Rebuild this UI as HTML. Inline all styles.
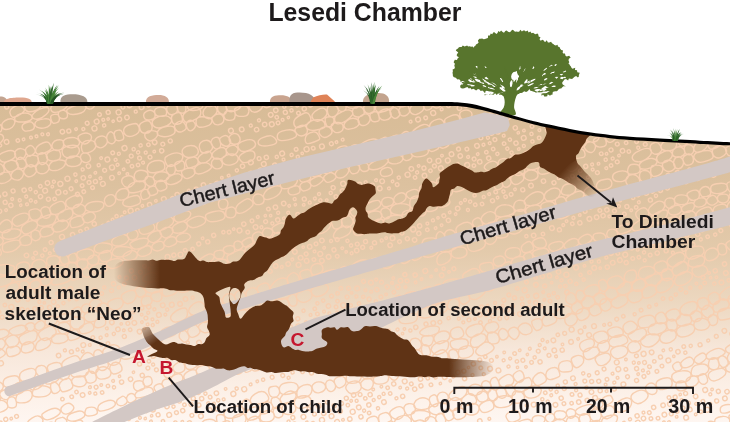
<!DOCTYPE html>
<html lang="en">
<head>
<meta charset="utf-8">
<title>Lesedi Chamber</title>
<style>
html,body{margin:0;padding:0;background:#fff;}
body{width:730px;height:422px;overflow:hidden;}
svg{display:block;}
text{font-family:"Liberation Sans",sans-serif;fill:#1d1a1b;}

.r text{font-weight:700;fill:#c5162e;}
.b text{font-weight:700;}
</style>
</head>
<body>
<svg width="730" height="422" viewBox="0 0 730 422">
<defs>
<linearGradient id="gg" x1="0" y1="104" x2="0" y2="422" gradientUnits="userSpaceOnUse">
<stop offset="0.000" stop-color="#d8bc97"/>
<stop offset="0.255" stop-color="#dcc19f"/>
<stop offset="0.459" stop-color="#e3caab"/>
<stop offset="0.616" stop-color="#ecd7bf"/>
<stop offset="0.774" stop-color="#f7e7da"/>
<stop offset="0.931" stop-color="#fdf2ea"/>
<stop offset="1.000" stop-color="#fef6f1"/>
</linearGradient>
<linearGradient id="fl" x1="114" y1="0" x2="160" y2="0" gradientUnits="userSpaceOnUse">
<stop offset="0" stop-color="#000"/><stop offset="0.12" stop-color="#222"/><stop offset="1" stop-color="#fff"/>
</linearGradient>
<linearGradient id="fr" x1="449" y1="0" x2="494" y2="0" gradientUnits="userSpaceOnUse">
<stop offset="0" stop-color="#fff"/><stop offset="0.88" stop-color="#222"/><stop offset="1" stop-color="#000"/>
</linearGradient>
<linearGradient id="fs" x1="566" y1="167" x2="596" y2="195" gradientUnits="userSpaceOnUse">
<stop offset="0" stop-color="#fff"/><stop offset="1" stop-color="#000"/>
</linearGradient>
<linearGradient id="ft" x1="142" y1="326" x2="155" y2="343" gradientUnits="userSpaceOnUse">
<stop offset="0" stop-color="#3a3a3a"/><stop offset="1" stop-color="#fff"/>
</linearGradient>
<mask id="cm" maskUnits="userSpaceOnUse" x="0" y="0" width="730" height="422">
<rect width="730" height="422" fill="#fff"/>
<rect x="100" y="250" width="60" height="45" fill="url(#fl)"/>
<rect x="447" y="350" width="60" height="35" fill="url(#fr)"/>
<path d="M548 176L580 158L612 188L590 206Z" fill="url(#fs)"/>
<path d="M136 330L148 322L166 344L157 352Z" fill="url(#ft)"/>
</mask>
<clipPath id="gc"><path d="M-5 104C12.5 104 65.8 104 100 104C134.2 104 166.7 104 200 104C233.3 104 270 104 300 104C330 104 360.8 104 380 104C399.2 104 406.7 104 415 104C423.3 104 425.8 104 430 104C434.2 104 436.3 104 440 104C443.7 104 448.3 104 452 104.1C455.7 104.2 458.7 104.3 462 104.6C465.3 104.9 468.7 105.4 472 106C475.3 106.6 478.3 107.3 482 108.2C485.7 109.1 490 110.4 494 111.5C498 112.6 501.7 113.8 506 115C510.3 116.2 515.3 117.7 520 119C524.7 120.3 529.2 121.6 534 122.8C538.8 124 543 124.9 549 126.2C555 127.5 563 129.3 570 130.6C577 131.9 584.3 133.2 591 134.2C597.7 135.2 603.5 135.9 610 136.6C616.5 137.3 621.7 137.8 630 138.4C638.3 139 648.3 139.5 660 140.2C671.7 140.8 687.5 141.7 700 142.3C712.5 142.9 729.2 143.7 735 144L735 430L-5 430Z"/></clipPath>
</defs>
<rect width="730" height="422" fill="#fff"/>
<g><path d="M-6 103C-7 97.2 -2.8 96.5 0.5 96.5C4.4 96.5 8 98.5 7 103Z" fill="#c3a592"/><path d="M4 103C3 98.1 13.6 97.6 20.5 97.6C27.4 97.6 32.5 99.2 31.5 103Z" fill="#dfa78f"/><path d="M60.5 103C59.5 95.1 65.9 94.2 72.6 94.2C81.3 94.2 88.3 96.8 87.3 103Z" fill="#a99b8e"/><path d="M146 103C145 95.8 152.8 95 158.5 95C164.8 95 169.8 97.4 168.8 103Z" fill="#d2ab98"/><path d="M270 103C269 96 275.4 95.2 280.8 95.2C287.2 95.2 292.5 97.5 291.5 103Z" fill="#c9a48f"/><path d="M289.5 103C288.5 93.6 293.3 92.6 299.7 92.6C308.6 92.6 316 95.7 315 103Z" fill="#a8968c"/><path d="M363 103C362 94 372.1 93 378.6 93C385.1 93 390 96 389 103Z" fill="#c3a48e"/><path d="M310 103L313 97.4C318 95.2 324 94.2 327 94.6L334.5 101.2L335 103Z" fill="#df8358"/></g>
<g fill="#58752d"><path d="M452.5 72.8L452.9 71.3L452.6 69.6L454.4 68.7L454.9 67.3L454.3 65.7L454.9 63.8L453.6 62.3L454.2 61.1L454.8 59.8L457 60L457.4 58.7L458.9 57.2L456.8 55.9L456.9 54.3L458.3 52.5L455.8 50.5L456.6 49.3L458 48.4L458.9 47.2L460 47L461.6 47.1L462.8 45.6L464.5 46.5L466 45.9L467.1 45.5L468.1 46.6L469.8 46.2L471 46.8L472.7 46.5L473.5 47.8L474.2 46.6L475.4 45.8L476 44.4L477.4 43.7L478.6 42.7L477.9 40.4L479.4 38.7L480.8 38.7L482.1 38.6L483.7 39.2L485 39L486.3 38.4L487.9 38L488.1 35.6L489.9 35.5L490.7 33.6L492.3 34.3L493.1 32.5L494.4 32.3L496.4 34L497.5 33.1L498.4 30.9L499.8 31.9L501.1 30.5L502.6 31.9L504 32.7L505.3 31.1L506.6 30.6L508.1 31.8L509.5 32.2L510.8 31.5L512.1 29.7L513.5 30.2L515 31.8L516.3 31.4L517.7 31.8L519.1 31.8L520.4 29.8L521.9 31.4L523.2 30.4L524.6 30.6L525.8 31.6L527.6 30.6L528.6 32.5L530.4 31.5L531.5 33.2L533.1 32.8L534.1 33.6L535.3 34.2L537.5 33.6L538.4 34.7L538.6 36.4L540.5 37.2L539.5 39.3L540.7 40.7L542.4 39.8L543.7 40.5L545 42.2L546.8 40.2L547.9 42.4L549.3 42.5L551.1 41.7L552 43.3L553.3 43.9L554.4 44.9L555.8 45.4L557.6 44.8L557.9 46.6L559.7 47.2L560.2 48.8L561.3 49.9L563.1 50.6L562.6 52.4L563.3 53.4L565 53.5L565.5 55.8L566.8 56.6L569.1 55.7L570.7 57.5L568.9 58.7L568.5 60.2L569.3 62.3L568.3 63.6L566 64.2L568.2 63.3L569.2 64.1L570 65.5L570.9 66.6L571.6 68L572.6 68.8L575.2 67.7L575 70.1L577 70.3L577.3 72.2L579.7 72.7L579.3 74.1L578.7 75.5L579.2 75.9L577.9 77.6L576.1 76.1L574.6 76.8L573.2 77.9L572.1 79L570.5 78.8L568.9 78.4L568.1 80.4L566 79.1L564.4 79.5L563.4 80.9L562.3 82.3L562.3 84L563.4 85L564.6 85.8L565.7 86.9L564 86L562.5 86.9L561.2 88.5L560.4 88.5L558.8 89.1L558 90.3L556.8 91.2L555.4 91.3L554 91.6L552.8 92L552.4 94.7L550.9 94.7L550.1 95.7L547.7 94.2L547.2 96.3L545.8 96.6L544.2 96.4L543.5 94.7L541.3 95.4L541.4 92.6L539.5 92.8L537.8 92.8L536.1 92.8L534.7 92L533.1 91.4L531.7 91.1L530.4 90.8L529.4 88.9L528.5 90.2L527.5 91.3L526.1 91.9L524.1 91.2L522.7 92.5L521.3 93L519.7 93L518.5 93.7L517 93.8L515.9 94.9L514.4 95.3L512.6 94.2L511.3 96L509.7 97.2L508 96.9L506.3 96.5L504.8 95.7L503.2 96.1L502.1 95.3L501 94.5L499.8 95.1L498.1 93.2L496.8 95L495.1 93.3L493.7 94.8L492.2 94.6L490.8 93.9L489.3 95L487.9 94.4L486.4 94.6L484.9 95.4L484.1 94L484.1 92.1L482.4 90.4L480.7 91.1L479.5 89.5L478 89.1L476.1 90.6L474.7 89.6L473.3 88.8L471.6 89.6L470.4 87.9L468.8 88.4L467.4 86.9L465.9 87.4L464.3 88.3L462.8 88.5L461.3 88.3L460.2 87.3L460.3 85.6L461.3 84.6L462.8 84.4L463.6 82.9L464.6 83.1L463.3 82.7L462.2 81.9L460.7 82.1L460.1 80L458.9 79.3L457.5 79.6L456.5 78.4L455.3 77.5L453.9 77.2L452.9 75.9L452.8 74.3Z"/><path d="M512.3 73.2L513.6 72L515.2 71.7L517 70.9L517 72.5L517.6 73.9L518.1 75.3L519 77.1L517.5 77.8L516.8 79.2L515.4 79.9L514.6 81.3L513.6 80L512 79.6L511.4 78.3L511.1 76.4L511.6 74.6ZM487.9 87.7L488.5 86.8L489.9 87.8L491.4 87.7L492.9 88.2L495.3 89.4L494.7 89.5L492.4 89.6L491 89L489.6 88.7L487.7 88.6ZM534 66.5L534.3 67.7L533.2 69.1L532.3 69.1L531.7 69.6L532.6 68.5L533.2 66.5ZM533.8 82.7L533.3 84.1L530.9 85.3L528.4 86.3L528.2 84.9L529.8 83.7L531.2 83.2L532.5 83.2ZM548.8 87.1L547.9 87.5L546.3 88.3L544.6 88.7L542.1 89L541.3 87.9L542.9 87.7L544.2 86.4L545.7 86.1L547 86.9ZM492.1 85L492.9 84.9L494.8 85.9L496.3 86.9L495.6 86.9L494.1 87.1L492.5 86ZM563.1 73.9L562.3 74.9L561.1 75.4L560.2 74.8L559.7 74.1L560.7 73.7L562.1 73.1ZM500.2 83.7L501.3 85.3L502.8 85.8L504 86.7L505.2 88.5L504.6 88.4L502.3 88.5L502 86.7L500.9 85.7ZM472.7 76.5L474.1 76.5L476 76.8L476.8 77.5L476.8 77.8L475.3 77.9L473.8 77ZM520.6 66.2L520.3 67L520.6 68.4L519.6 69.5L518.9 69.2L519.6 68.1L519.8 66.6ZM488.9 93.4L490.3 91.6L492.2 91.8L494.5 92.9L493.7 93.2L492 94.2L490.2 93.8ZM544.6 92.2L542.8 92.4L541 93.3L539.1 92.9L536.5 93L535.8 93L537.3 92.3L538.9 92.6L540.6 92.5L542.4 91.9ZM510.5 82.2L511.6 83L511.6 85.4L511.3 86.9L511.3 87.5L510.6 85.5L510.3 83.2ZM546.7 89.4L545.7 90.1L544.1 90.9L542.3 90.4L540.8 91.3L539.8 90.7L539 89.6L540.5 89.6L541.8 89.3L543.5 88.9L545.4 88.4ZM552.9 65.3L551.8 65.7L550.5 66.2L549.8 66.8L548.9 66.9L550.1 65.8L551.7 64.8ZM546.9 82.8L545 84.4L543.2 84.3L541.7 85L540.2 85.5L538.2 86.1L538.7 85.4L541.1 84.1L542.9 84.6L544.2 83.7L545.6 83.7ZM529.9 83.7L529.8 84.4L528.9 86L527.4 86L527 85.1L527.8 83.8L529.7 82.8ZM485.2 80.8L486.3 81.2L488.1 82L490.3 83.4L489.8 83.8L487.6 83L485.5 82.2ZM547 67.7L546.8 68.7L545.2 70L543.7 70.9L543.5 70.5L544.5 69.3L546.2 68.1ZM554.5 71L554.2 73L552.3 73.1L550.9 73.9L550.2 73.4L551.7 72.3L553.8 71.7ZM484.1 66.2L485.2 66.3L486.1 67.2L486.9 68.1L486.7 68L485.4 68L484.8 66.6ZM558.1 76.4L558.1 77.2L556.5 78.8L555.4 77.8L554.6 77.9L555.9 76.7L557.5 76.9ZM525.5 68.3L525.1 69.4L524.4 70.6L523.5 72.1L523.3 71.6L523.9 70.5L524.6 69.1ZM545.9 73.2L545.4 74.5L543.3 75L542.1 76.4L542 75.6L542.8 74.6L544.3 73.1ZM473.5 73.2L475.1 73L476.3 74.3L476.8 74.9L477.2 75.8L476.1 74.8L473.7 74.3ZM524.1 84.8L523 85.7L522.1 86.6L520.3 87.6L520.3 86.7L521.2 85.7L522.9 85.5ZM515.7 70.5L515.3 71.6L515.8 73.7L515.1 75.2L513.9 75.1L514.1 73.3L515.2 71.8ZM475.8 65.9L476.9 65.9L477.6 66.8L477.3 67.3L477.5 68.5L476.7 67.7L475.8 67.1ZM478.1 80.7L479.6 80.7L481.6 82.5L483.3 82.4L484.4 83.4L483.4 84.1L481.7 83.2L480.2 82.7L478.7 82.1ZM556.5 64.1L556.7 64.6L555.8 65.9L554.9 65.7L554.4 66.1L554.9 64.4L556.3 63.9ZM566.2 71.2L565.5 71.7L564.6 72.4L563.2 73.1L562.8 71.7L563.9 71.4L565.7 70.4ZM511.4 80.2L512.3 80.5L512.6 83L512.3 84.6L511.7 85L510.2 82.9L510.7 80.9ZM499.9 77.9L501 77.9L502.4 80L503.2 82L502.2 81.9L501.4 80.6L500.3 79ZM518.6 75.1L519.1 76.7L518 78.2L518.4 80L516.9 81.3L516.3 83.1L516 82.3L516.2 80.7L516.7 79.2L517 77.7L517.3 76.2ZM466.8 84L468.7 83.8L470.5 84L472.3 84L473.6 85.1L475.2 85.6L474.1 86.2L471.5 86.5L470.1 85.3L468.4 85.2ZM527.5 79.5L527.5 80.9L526.6 82.9L524.4 83.5L524.1 82.9L524.9 81.3L526.9 79ZM485.2 91.6L486.5 90.8L488.5 91.2L490.9 91.7L490.3 92.5L488.3 93.4L486.2 92.7ZM535.5 78.7L535.1 80.1L533.4 80.9L532.2 82.5L530.5 82.4L529.6 83.3L528.6 82.3L530.3 81.9L530.8 80.3L532.3 79.7L533.8 79.1ZM549.9 91.4L548.2 91.9L546.7 93.1L545 93.2L543.5 93.1L542.5 92.9L542.7 91.4L544.7 91.6L546.3 91.5L547.8 91.1ZM540.5 89.8L539.7 90.3L537.3 91.7L535.5 91.1L534.3 90L537 88.9L539.4 89.1ZM483.8 92.9L486.2 92L488.1 92.2L490 92.7L492.8 93.1L492.3 94L489.7 93.4L487.8 93.3L486 92.9ZM544.5 93.9L543.8 94L541.2 94.2L539 94.4L539.2 94.1L540.9 93.3L543.3 93.7ZM484.8 77.5L485.6 77.3L487.4 77.8L488.5 79.1L487.5 79.1L486.1 79.8L484.6 78.5ZM510.7 81.1L511.6 82.2L512.3 84.7L511.5 87.1L510.3 86.9L509.3 84.9L509.5 83.5L510.2 82.2ZM555.4 85.5L555.5 86.9L553.3 87.1L551.2 87L551.9 86.6L553.1 85.6L555 85.5ZM482.5 85.8L483.6 85L485.2 85.8L486.2 86.6L486.3 87.5L484.8 87.5L482.9 87.5ZM467.9 80.4L469 79.1L470.7 79.9L472.1 81.1L475.2 81.5L475.3 82.3L473.4 82.6L471.7 81.9L469.9 82.2L469 80.8ZM553.4 82.9L552.1 83L550.3 84.2L548.5 84.7L549.1 84L549.9 82.8L551.9 81.7ZM499.5 87.5L501 87.1L502.9 88.3L504 89.7L503.7 90L501.9 90.3L501 89.1L499.6 88.5ZM498.2 92.8L499 92.2L500.9 92.8L502.9 92.3L504.3 93.2L505.9 93.5L504.9 93.4L502.3 94.1L500.9 93.8L499.2 93.9ZM547.5 78.9L546.9 79.3L545.3 80.2L544.3 80.6L543.8 80L544.8 78.7L546.9 78.1ZM474.4 78.7L476.6 78.8L478.1 79.4L479.9 79.9L480.5 81.6L481.1 82.5L478.7 82.1L477.3 81.7L476 81ZM469.7 78.7L471 78.2L472.4 79.7L474.3 80.4L473.7 81.2L472.4 79.8L470.9 79.3ZM482.3 78.2L483.8 78.1L485 79.7L486.2 80.2L486 81.5L484.3 81L482.7 79.5ZM515.9 75.4L516.5 76.6L516.4 78.2L515.4 79.5L514.7 81.2L513.6 82L513.3 79.4L514.4 76.7ZM461.1 81.2L462.4 80.9L464 81.4L464.6 82L465.4 82.9L463.8 82.3L461.8 82ZM490.2 82.4L491.8 82.6L493.8 83.1L495.4 84.2L496.6 85.9L497.2 87.4L496 86L494.5 85.3L492.8 84.6L491.1 84ZM483.8 80.9L485.1 81.6L486.9 82.5L488.9 82.9L490.3 84.2L492.1 84.9L491.1 84.7L488.1 84.6L487.2 83.1L485.8 82.5L484.5 81.9ZM482.4 94L483.5 92.9L485.4 92.9L487.3 92.7L489.8 93.7L490 94.1L488.8 95.2L487.4 94.8L485.9 94.6L484.4 94.6ZM522.9 84.6L522.1 85.7L520.6 87.1L519.5 89L518.2 90.1L516.7 90.6L516.6 90L517 88.4L518 87.2L519.7 86.3L520.8 84.6ZM539 86.5L538.7 87.1L536.3 88.3L533.7 88.5L533.8 87.7L535.6 86.4L537.7 86.9ZM490.5 83.4L491.6 83.2L492.8 84.1L494.5 84.6L494.1 85.4L492.3 85.1L490 84.2ZM566 77.1L565.4 78.2L563.7 78.1L562.5 79.3L560.7 78.7L559.8 78.1L561.8 76.8L563.5 77.2L564.5 76.8ZM500.9 89.1L502.2 88.3L504.3 89.2L505.7 91L504.9 91.6L503 91.4L501.9 90.4ZM484.9 77.6L486.5 76.8L487.3 78.3L488.2 79.1L488.4 79.8L487.1 78.9L485.8 78.4ZM498.7 88.3L499.7 88L501.2 88.1L502.6 88.7L504 90.1L503.7 91.4L501.4 90.5L499.8 90.1L499.2 88.8ZM531.2 79.5L530.3 80.5L529.3 81.9L528 82.9L526.9 82.2L528.7 81.1L530.4 80.4Z" fill="#fff"/><path d="M500.7 113.6C498.8 112.4 503 109.5 503.7 107.6C504.4 105.7 504.7 104 504.7 102.2C504.7 100.3 504.4 98.3 503.7 96.7C502.9 95 499.8 92.7 500.2 92.2C500.6 91.7 504.7 94.3 506.2 93.7C507.7 93.1 508.2 88.7 509.2 88.7C510.2 88.7 510.5 93.4 512.2 93.7C513.8 94 518.5 90.2 519.1 90.7C519.8 91.2 516.9 94.8 516.1 96.7C515.4 98.6 515 100.3 514.6 102.2C514.3 104 514.1 105.5 514.1 107.6C514.2 109.8 517.4 114.1 515.1 115.1C512.9 116.1 502.6 114.8 500.7 113.6Z"/><path d="M504.7 94.7C502.2 93.8 497.7 92.1 492.2 90.2C486.8 88.3 483.3 86.7 477.3 85.2C471.3 83.7 465.3 83.2 462.4 82.7M504.7 93.7C502.7 92 499.2 88.4 494.7 85.2C490.2 82 487.3 80.6 482.3 77.8C477.3 74.9 472.3 72.4 469.8 71M517.1 93.7C519.6 92.5 524.1 89.4 529.6 87.7C535.1 86 538.5 85.9 544.5 85.2C550.5 84.5 556.5 84.4 559.4 84.2M517.6 92.2C520.5 90.2 526.2 85.4 532.1 82.2C537.9 79 540.5 78.2 547 76.3C553.5 74.4 560.9 73.5 564.4 72.8M510.2 92.2C509.8 89.7 509.5 84.7 508.4 79.7C507.3 74.8 505.4 69.8 504.7 67.3M513.6 92.2C514.6 89.7 516.4 84.7 518.6 79.7C520.8 74.8 523.4 69.8 524.6 67.3" fill="none" stroke="#58752d" stroke-width="1.3" stroke-linecap="round"/></g>
<path d="M-5 104C12.5 104 65.8 104 100 104C134.2 104 166.7 104 200 104C233.3 104 270 104 300 104C330 104 360.8 104 380 104C399.2 104 406.7 104 415 104C423.3 104 425.8 104 430 104C434.2 104 436.3 104 440 104C443.7 104 448.3 104 452 104.1C455.7 104.2 458.7 104.3 462 104.6C465.3 104.9 468.7 105.4 472 106C475.3 106.6 478.3 107.3 482 108.2C485.7 109.1 490 110.4 494 111.5C498 112.6 501.7 113.8 506 115C510.3 116.2 515.3 117.7 520 119C524.7 120.3 529.2 121.6 534 122.8C538.8 124 543 124.9 549 126.2C555 127.5 563 129.3 570 130.6C577 131.9 584.3 133.2 591 134.2C597.7 135.2 603.5 135.9 610 136.6C616.5 137.3 621.7 137.8 630 138.4C638.3 139 648.3 139.5 660 140.2C671.7 140.8 687.5 141.7 700 142.3C712.5 142.9 729.2 143.7 735 144L735 430L-5 430Z" fill="url(#gg)"/>
<g clip-path="url(#gc)"><g transform="rotate(-19.0)" fill="none" stroke="#f7cfb1" stroke-width="1.4"><path d="M-41 113.7q-1.7 2.5-5.4 2.4q-3.7-0.2-6.1-1.6q-2.5-1.5-2-4.2q0.5-2.7 2.4-3.9q1.8-1.2 6.1-0.1q4.3 1.1 5.5 2.9q1.3 1.9-0.5 4.5zM-13.4 108.7q1.4 3.1-0.3 4.5q-1.7 1.3-6.5 2q-4.9 0.6-6.3-0.5q-1.3-1.1-0.9-4.4q0.4-3.3 4.1-4.3q3.7-0.9 6.1-0.7q2.3 0.3 3.8 3.4zM-0.8 106.1q2.7 0.5 4.6 2.8q2 2.4 0.4 4.5q-1.7 2.2-6.1 2.6q-4.4 0.4-7.4-1q-3-1.5-2.5-4.9q0.6-3.4 4.5-3.9q3.8-0.6 6.5-0.1zM9.6 105.5q2.3 0.4 3.5 3q1.2 2.5 0.1 4.7q-1 2.1-3 2.7q-2 0.7-4.3-1.1q-2.3-1.7-1.9-4.6q0.3-2.8 1.8-4q1.5-1.1 3.8-0.7zM-42.6 116.6q3.1 1.1 2.8 3.7q-0.2 2.6-1.6 3.8q-1.4 1.2-5.4 0.6q-3.9-0.6-4.7-1.9q-0.8-1.4-0.1-3.7q0.6-2.3 3.2-2.9q2.7-0.7 5.8 0.4zM-36 124.5q-3.4-0.9-3.3-3.7q0-2.9 2.3-4.1q2.3-1.3 5.6-1.4q3.4 0 5 1.7q1.7 1.8 0.5 3.8q-1.2 2.1-4 3.4q-2.8 1.2-6.1 0.3zM-14.2 123.6q-4.1-0.6-7.7-2.1q-3.5-1.4-3-4q0.4-2.5 3.9-3.1q3.5-0.6 7 0.4q3.5 0.9 5.5 3.5q2 2.7 0.2 4.3q-1.8 1.6-5.9 1zM-2.1 117q3.8-1.3 8.2-0.8q4.4 0.5 4.6 2.3q0.2 1.8-1.8 3.4q-2 1.6-7.1 2.8q-5.2 1.1-8-1.2q-2.8-2.2-1.3-3.7q1.6-1.5 5.4-2.8zM29.3 120q1.2 1.5-1.7 3.2q-3 1.8-7.9 1.6q-4.9-0.2-6.4-2q-1.5-1.7-0.5-4q0.9-2.3 5.6-2.9q4.6-0.6 7.2 1q2.5 1.6 3.7 3.1zM-56 128.2q1.4 1.5 0.8 4.2q-0.6 2.7-2.3 2.7q-1.8 0.1-4.3-1.1q-2.4-1.2-2.5-2.4q-0.2-1.2 1.4-3.4q1.6-2.1 3.5-1.8q1.9 0.4 3.4 1.8zM-53.9 132.4q-0.8-2.6 0.4-4q1.3-1.3 5.7-1.7q4.4-0.5 5.6 1.2q1.2 1.7 0.8 3.5q-0.4 1.8-3.6 3.3q-3.1 1.5-5.6 0.9q-2.5-0.6-3.3-3.2zM-20.6 128q0.3-2.6 2.7-3.2q2.3-0.6 5.2-0.2q2.9 0.3 3.8 2.9q0.8 2.5-0.3 4.4q-1.1 1.9-5 1.4q-3.8-0.5-5.2-1.6q-1.5-1.2-1.2-3.7zM-4.4 126.2q2.7-0.5 7.4 0.6q4.8 1 5.3 3.5q0.6 2.6-1.8 4.1q-2.5 1.4-5.9 1q-3.5-0.4-6-2.2q-2.5-1.8-2.1-4.1q0.4-2.3 3.1-2.9zM17.5 131.6q-0.9 2.9-3.6 2.9q-2.8 0-3.8-0.9q-1-1-0.8-3.7q0.2-2.6 1.1-3.6q1-0.9 3.7-0.5q2.8 0.5 3.5 1.7q0.8 1.2-0.1 4.1zM24.4 125.1q2.3 1.2 2.3 3.3q0 2.2-1 3.7q-1 1.6-3.8 1q-2.7-0.7-3.7-2.4q-0.9-1.8-0.4-3.5q0.5-1.8 2.4-2.5q1.9-0.8 4.2 0.4zM38.2 124.5q5.5 0.6 7.6 2q2 1.4-0.1 4.1q-2.1 2.6-5.9 2.6q-3.9 0-7.6-1q-3.7-1-5-3.6q-1.3-2.6 2.1-3.6q3.5-1 8.9-0.5zM46.2 128.4q-0.7-2.7 0.8-3.8q1.4-1.2 3.9-0.9q2.5 0.3 3.6 1.6q1.1 1.4 0.8 3.9q-0.3 2.4-2.5 3.1q-2.3 0.8-4-0.2q-1.8-0.9-2.6-3.7zM-63 146.2q5.1-0.6 7.5 0.9q2.3 1.4 2 4.1q-0.4 2.8-3 3.8q-2.5 1-6.1 1.1q-3.7 0.1-5.6-2.2q-1.8-2.2-0.8-4.7q0.9-2.4 6-3zM-48.3 154.8q-3.4-0.9-3.9-3.6q-0.5-2.8 0.7-4.4q1.1-1.6 6.6-1.7q5.5 0 7.7 1.5q2.2 1.4 1.7 4.2q-0.4 2.8-4.9 3.8q-4.5 1-7.9 0.2zM-30.4 157.4q-2.3 0.3-4.1-0.9q-1.7-1.2-1.9-4.4q-0.2-3.2 2.5-4.5q2.8-1.4 5.3-0.3q2.5 1.2 3.4 3q0.8 1.9-1 4.4q-1.8 2.5-4.2 2.7zM-24.6 149.8q1-1.8 3.6-2.3q2.6-0.5 3.8 1q1.2 1.5 1.5 4.2q0.3 2.6-2.5 3.7q-2.9 1.2-4.4 1.1q-1.4-0.1-2.2-2.9q-0.8-2.9 0.2-4.8zM0.2 151.9q0.8 3.1 0.4 4.6q-0.5 1.5-5.8 2.4q-5.3 0.9-8.1-0.2q-2.8-1.2-2.3-3.9q0.6-2.6 2.9-4q2.4-1.5 7.2-1.7q4.9-0.3 5.7 2.8zM9 161.1q-3.2 0.5-5.4-0.9q-2.1-1.3-2.2-3.5q-0.2-2.3 1.9-4.2q2.1-1.9 5.1-1.5q2.9 0.4 4.5 1.6q1.6 1.1 0.4 4.5q-1.1 3.4-4.3 4zM26.4 162.9q-2.8 1.1-6.3 0.3q-3.5-0.7-5.6-3.6q-2.1-3-0.8-5q1.2-2 5-2q3.8 0.1 6.9 1.8q3 1.8 3.3 4.6q0.3 2.8-2.5 3.9zM29.6 154.4q1.4-1.3 5.1-1.2q3.7 0.2 5.7 2q2 1.8 1.6 3.9q-0.5 2.1-3.2 3.7q-2.8 1.6-5.4 1q-2.6-0.7-3.8-4.4q-1.3-3.7 0-5zM102.3 153q3.1-0.5 5 0.8q2 1.3 2.1 3.5q0.1 2.2-1.2 4q-1.3 1.8-5.2 0.9q-3.9-0.8-4.7-2.8q-0.7-2.1 0.1-4q0.8-1.9 3.9-2.4zM114.2 153.1q2.8 0.1 5.3 1.7q2.4 1.6 1.8 4.3q-0.5 2.7-1.8 3.7q-1.3 0.9-5.3-0.4q-4.1-1.2-4.5-3.6q-0.4-2.5 0.6-4.1q1-1.6 3.9-1.6zM121.9 160.6q-0.3-3.2 0.9-4.7q1.1-1.6 4.2-1q3.1 0.5 4.6 1.8q1.4 1.3 0.7 4.1q-0.6 2.8-2.7 3.4q-2 0.7-4.7 0.2q-2.6-0.6-3-3.8zM132.3 163q-0.1-1.5 0.5-4q0.7-2.5 3.3-2.8q2.5-0.2 3.8 0.9q1.4 1.1 0.9 4.5q-0.6 3.3-2.4 4.5q-1.8 1.1-3.9-0.3q-2.1-1.3-2.2-2.8zM142.3 162.8q0.3-3 2.6-4.1q2.4-1.1 6-0.8q3.6 0.4 6 2.7q2.5 2.3 1.2 4.8q-1.4 2.4-4.5 2.9q-3 0.5-7.3-1.1q-4.2-1.5-4-4.4zM161.9 168.3q-3-1.6-3-4.4q0-2.7 1-4.1q1-1.3 4.9-0.9q3.8 0.5 5.5 2.3q1.7 1.9 0.4 4.7q-1.4 2.9-3.6 3.5q-2.2 0.5-5.2-1.1zM-67 154.7q4.5 0.3 5.9 3.9q1.3 3.5-0.2 5q-1.5 1.4-6.1 1.7q-4.6 0.4-7.8-1.5q-3.3-2-2.5-4.8q0.8-2.8 3.5-3.7q2.7-0.9 7.2-0.6zM-52.6 155.4q1.3 1.1 1.5 4.3q0.2 3.1-1.8 4.7q-2 1.6-4.3 0.9q-2.3-0.7-3-3.9q-0.7-3.1 0.4-4.7q1-1.6 3.4-1.9q2.4-0.4 3.8 0.6zM-36.5 160.9q0 3.1-2.5 4.2q-2.4 1.1-5.8 1q-3.3-0.2-4.6-3.3q-1.2-3.2-0.8-5.2q0.4-2.1 4.1-2.6q3.7-0.5 6.6 1.2q3 1.7 3 4.7zM-30.6 156.3q1.9 1.9 2.3 4.9q0.4 3-1.6 4.6q-1.9 1.6-4.3 0.8q-2.4-0.9-2.8-3q-0.5-2.2-0.5-4.4q0.1-2.1 2.5-3.4q2.5-1.4 4.4 0.5zM-26.8 166.8q-1.5-1.8-1.4-5q0.1-3.3 2.1-4.6q2.1-1.3 6 0q4 1.3 4.6 3.2q0.7 1.9-1 4.8q-1.7 3-5.2 3.1q-3.5 0.2-5.1-1.5zM-14.9 159.4q1-1.8 3.8-1.6q2.9 0.2 4.1 2.7q1.1 2.5 0.3 5.1q-0.7 2.5-3.5 3.5q-2.7 0.9-4.2 0q-1.5-0.9-1.5-4.3q-0.1-3.5 1-5.4zM4.8 160.2q2.7 1.2 2.4 3.9q-0.2 2.6-1.5 4.5q-1.4 2-5.8 1.4q-4.3-0.6-6.1-3.1q-1.7-2.5-0.6-4.7q1-2.3 5-2.8q4-0.5 6.6 0.8zM18.7 172.6q-3.8 0.2-6.8-1.8q-3-2-2.8-5.4q0.2-3.5 2.4-4.6q2.2-1.2 8-0.2q5.9 1.1 6.6 4.3q0.8 3.3-1.4 5.4q-2.2 2.1-6 2.3zM29.2 171.6q-1.2-1.7-0.4-5.1q0.7-3.4 3.7-4.8q2.9-1.4 6.5 0.2q3.7 1.5 4.5 3.9q0.7 2.4-1.3 4.8q-2 2.3-6.8 2.5q-4.9 0.1-6.2-1.5zM44.1 170.2q-2-2.8-0.7-5.3q1.2-2.6 3.6-3.2q2.3-0.6 5.1 0.1q2.8 0.8 3.5 3.8q0.7 2.9-1.5 5q-2.1 2-5.1 2.2q-2.9 0.2-4.9-2.6zM64.2 166.1q-0.1 3.2-1.2 4.7q-1.1 1.5-3.2 1.6q-2.1 0-3.3-1.9q-1.3-1.9-0.7-4.7q0.5-2.9 3-4.4q2.6-1.6 4-0.1q1.4 1.5 1.4 4.8zM65.9 161.7q1.2-0.6 3.9-0.1q2.6 0.5 2.8 3.7q0.1 3.3-0.4 5.1q-0.6 1.8-3.4 1.7q-2.9-0.1-4.4-1.8q-1.5-1.7-0.6-4.9q1-3.1 2.1-3.7zM87.6 170.5q-2.3 1.6-6.8 1.3q-4.5-0.4-6-3.2q-1.6-2.9 0-5.7q1.7-2.8 6.2-2.8q4.5 0 6.8 0.7q2.2 0.8 2.2 4.4q-0.1 3.7-2.4 5.3zM95.8 161.8q3.9-0.3 5.4 1q1.4 1.3 1.5 5q0 3.6-2.7 5.1q-2.7 1.6-6 0.4q-3.2-1.1-3.6-3.7q-0.4-2.7 0.5-5.2q0.9-2.4 4.9-2.6zM109.6 162.1q4.9-0.8 8.6 0.9q3.6 1.7 4.7 4.6q1.1 3-2.2 4.5q-3.4 1.5-8.4 1.2q-4.9-0.2-7.1-2.7q-2.1-2.4-1.3-5q0.8-2.7 5.7-3.5zM123.4 172.8q-0.5-1.9 0.2-4.9q0.6-3.1 4.1-3.5q3.5-0.4 5.1 0.5q1.6 1 1.3 4.6q-0.3 3.6-1.7 5q-1.4 1.4-4.9 0.8q-3.6-0.6-4.1-2.5zM139.8 166.3q4.8-1.3 9.1-1.1q4.4 0.1 4.6 4q0.2 3.9-2.6 5.7q-2.8 1.9-8.3 1.9q-5.6 0-7-1.1q-1.5-1.2-1-4.6q0.5-3.4 5.2-4.8zM156.1 178.2q-2.1-2.7-0.9-5.5q1.1-2.9 4.7-4.3q3.7-1.3 6.3-0.1q2.7 1.2 3.2 4.5q0.6 3.2-2.5 5.2q-3.1 2-5.9 2.4q-2.8 0.4-4.9-2.2zM175.7 181q-1.8 0.6-4-1.6q-2.3-2.2-1.6-5.1q0.7-2.8 2.5-4.4q1.8-1.5 3.6-1q1.9 0.5 2.5 3.4q0.6 2.9-0.3 5.5q-0.9 2.6-2.7 3.2zM192.6 172.4q2 2.4 1.5 5q-0.5 2.6-4.5 3.5q-4.1 0.9-7.3 0q-3.2-1-3.3-4q-0.1-3.1 0.9-4.5q1-1.5 5.8-2q4.8-0.5 6.9 2zM-76.8 173.8q-3-1.2-3.2-4.9q-0.3-3.6 3.2-4.1q3.5-0.5 7.9 0.6q4.3 1.1 6 3.4q1.6 2.2-0.5 4.6q-2.1 2.4-6.3 2q-4.1-0.5-7.1-1.6zM-58.2 174.1q-3-1.1-3.4-3.8q-0.4-2.6 2.2-4.5q2.6-2 7.2-1.4q4.6 0.5 4.9 2.9q0.3 2.4 0.3 4.1q0 1.8-4.1 2.7q-4.2 1-7.1 0zM-44.1 166.8q2.3-1.5 5-1.4q2.6 0.2 4.3 2.5q1.7 2.4-0.1 5q-1.7 2.5-4.4 3.2q-2.7 0.6-5.5-1.5q-2.7-2.2-2.2-4.2q0.5-2.1 2.9-3.6zM-21.7 174.3q-2 1.9-5.1 2.4q-3.1 0.5-4.8-0.9q-1.6-1.3-2-4.2q-0.4-2.9 2.8-4.5q3.2-1.5 5.6-1.4q2.4 0.1 4 3.4q1.5 3.3-0.5 5.2zM-21.2 171.2q0.8-2.2 2.8-3.4q2-1.2 5.6-0.2q3.6 0.9 4.4 4.2q0.7 3.2-1.2 4.9q-1.8 1.6-4.9 1.7q-3.1 0-5.4-2.5q-2.2-2.5-1.3-4.7zM-7.9 173.4q1.3-2.8 4.7-3.6q3.4-0.8 8 1q4.6 1.7 4.3 3.8q-0.3 2-3.1 3.7q-2.9 1.7-6.7 1.4q-3.8-0.4-6.1-1.9q-2.4-1.5-1.1-4.4zM13.1 180.6q-3.7-1.6-3.9-4.5q-0.2-2.9 2.9-4.5q3-1.5 7.5 0.2q4.5 1.8 5.1 4q0.6 2.1-0.7 4q-1.3 1.9-4.3 2.1q-3 0.2-6.6-1.3zM27.6 172.1q1.9-0.7 4.2 0.7q2.3 1.3 2.4 4.3q0.2 2.9-1.4 4.1q-1.6 1.2-3.9 0.7q-2.4-0.6-3.7-2.8q-1.2-2.3-0.3-4.3q0.8-2.1 2.7-2.7zM97.5 182.4q-2.6 0.1-4.2-2.9q-1.5-3-0.1-5.2q1.4-2.1 4.1-2.1q2.8 0.1 5.9 1.7q3.1 1.5 2.5 3.7q-0.7 2.2-3.2 3.5q-2.4 1.2-5 1.3zM122.9 176.6q0.7 1.4 0 4.2q-0.6 2.7-5.1 3q-4.4 0.3-8.5-1.8q-4-2.1-4.1-4.1q0-2 3.4-3.7q3.4-1.6 8.5-0.3q5.1 1.3 5.8 2.7zM127.4 173.6q3.4-1 5.1 0.3q1.7 1.4 2.1 4.3q0.4 3-0.8 4.1q-1.2 1.1-4.6 1.3q-3.3 0.1-4.5-2.1q-1.2-2.2-1-4.6q0.2-2.4 3.7-3.3zM137.2 185.6q-1.5-0.8-1.9-3.2q-0.3-2.4 0.2-4q0.5-1.6 3-2.6q2.5-1.1 4.2 1.1q1.6 2.3 1.5 4.4q-0.2 2.2-2.8 3.6q-2.6 1.5-4.2 0.7zM161.2 181.8q0.2 1.9-1.7 3.5q-1.9 1.7-6.7 1.3q-4.8-0.4-6.5-2.1q-1.7-1.7-0.8-4.9q0.9-3.3 3.2-3.9q2.2-0.7 7.2 1.7q5.1 2.5 5.3 4.4zM165.9 189.1q-3.5-0.7-4.1-3.7q-0.7-2.9 0.1-4.5q0.8-1.5 3.7-2.1q3-0.7 5.3 0.8q2.3 1.4 2.2 4.2q-0.1 2.8-1.9 4.3q-1.7 1.6-5.3 1zM176.5 188q-3-1.4-2.7-4.3q0.2-2.9 2-4.1q1.8-1.3 5.7-0.1q3.9 1.2 4.1 2.4q0.2 1.2-0.9 4q-1.1 2.8-3.1 3.2q-2.1 0.3-5.1-1.1zM187.2 179.1q1.8-0.6 6.2-0.2q4.4 0.5 5.7 2.7q1.2 2.2-0.3 5.2q-1.6 3-4 2.8q-2.5-0.2-5.9-1.5q-3.5-1.3-3.5-4.9q0-3.5 1.8-4.1zM213.8 185.9q-0.9 2-4.3 3q-3.4 1-5.9-0.2q-2.6-1.3-3-4.5q-0.4-3.3 1.5-4q2-0.8 5.6-1.3q3.6-0.6 5.3 2.2q1.7 2.7 0.8 4.8zM224.5 184.6q-0.4 1.8-2.3 3.2q-1.8 1.3-4.4 1q-2.6-0.2-3.7-3.6q-1-3.3 1-5q1.9-1.7 4.3-1.7q2.5 0 4 2.2q1.5 2.1 1.1 3.9zM-93.6 217.1q0.7-3.3 2.4-4.5q1.7-1.2 6.2-0.9q4.6 0.3 6.8 2.1q2.2 1.7 1 5.1q-1.2 3.5-4.6 4q-3.4 0.6-7.9-1q-4.5-1.6-3.9-4.8zM-68.1 209.8q3.1-0.5 4.9 1.4q1.8 1.8 1.4 5.3q-0.4 3.5-4.1 4.7q-3.7 1.3-6.5 0.1q-2.9-1.2-3.6-3.7q-0.8-2.4 2-4.8q2.8-2.5 5.9-3zM-43.6 211.1q1.7 1.9 0 4.7q-1.7 2.9-6.9 3.6q-5.1 0.8-7.1 0.2q-2-0.7-2.9-3.8q-1-3.1 2-5.2q3-2 8.1-1.8q5.1 0.3 6.8 2.3zM-41.1 209.1q0.8-1 4.5-0.5q3.6 0.4 5.4 3q1.7 2.6 0.4 5q-1.3 2.5-4.2 3q-2.8 0.5-5.2-0.6q-2.5-1.1-2.2-5.1q0.4-3.9 1.3-4.8zM-21 214.8q0.2 3.3-1.6 5.3q-1.7 2-4.5 1.4q-2.7-0.6-3-2.4q-0.3-1.9-0.2-5q0.1-3 2.4-3.7q2.4-0.6 4.5 0.3q2.2 0.8 2.4 4.1zM-9.4 220.7q-3.4 0.7-7.5 0.2q-4.1-0.6-4.6-3.9q-0.5-3.3 2.1-5.1q2.5-1.8 7.6-2q5.2-0.2 6.2 2.3q1 2.6 0.3 5.2q-0.7 2.5-4.1 3.3zM13.2 215.2q-0.8 2.3-4.3 4.4q-3.5 2.1-7.7 1q-4.2-1.2-5-4q-0.8-2.9 0.6-4.8q1.4-1.8 7.1-2.5q5.7-0.7 7.9 1.4q2.2 2.1 1.4 4.5zM58.6 218.2q-2-1.4-2.6-4.3q-0.6-3 1.3-5q2-1.9 6.3-1q4.3 0.9 4.6 3.7q0.4 2.7-0.1 4.3q-0.5 1.5-4 2.7q-3.5 1.1-5.5-0.4zM78.8 217.3q-3.2 0.8-6 0q-2.7-0.8-3.4-3.7q-0.6-3 1.3-5.3q1.9-2.3 5.1-1.9q3.2 0.5 5.7 2.5q2.4 2 1.5 4.8q-0.9 2.8-4.2 3.6zM99.6 213.8q-1.8 0.7-7.6 0q-5.7-0.7-7.3-2.8q-1.6-2.1 0.3-5.2q1.9-3.1 5.8-3.4q4-0.3 7.9 1.4q3.8 1.8 3.3 5.5q-0.6 3.8-2.4 4.5zM120.3 203.8q2.8 2.4 0.9 5.1q-1.8 2.8-7.6 3.7q-5.8 1-7.8-0.2q-2-1.1-2.1-5.2q-0.1-4.1 2.1-4.9q2.3-0.7 7-0.9q4.7-0.1 7.5 2.4zM138.1 208.2q-0.9 2.3-3.7 3q-2.7 0.6-7-0.8q-4.2-1.4-4.7-5.1q-0.6-3.6 2.4-5.3q3.1-1.7 7.4-0.4q4.3 1.3 5.4 3.8q1.1 2.5 0.2 4.8zM149.3 199.8q3 0.9 3.9 4.6q0.9 3.8-1.5 5.8q-2.4 2-5.6 1.6q-3.2-0.5-4.6-1.8q-1.4-1.3-1.1-4.9q0.3-3.5 3.1-4.9q2.8-1.4 5.8-0.4zM158.8 211.4q-2.8 0.6-3.9-1q-1.1-1.6-1.8-4.2q-0.7-2.6 1.1-4.5q1.7-1.9 4.5-1.7q2.7 0.2 3.2 1.7q0.4 1.5 0 5.4q-0.4 3.8-3.1 4.3zM163.1 202.3q1.5-0.9 4.3-1q2.8-0.1 4 2.9q1.3 3.1 0.7 4.7q-0.7 1.6-2.7 2.7q-2.1 1.1-4.3-0.3q-2.2-1.4-2.9-4.7q-0.6-3.4 0.9-4.3zM173.6 212.1q-2.9-1.7-2.5-4.6q0.3-2.9 2-4.1q1.6-1.2 4.3-1q2.7 0.3 3.9 2.9q1.2 2.7 0.3 5q-1 2.3-3 2.8q-2 0.6-5-1zM244.6 207.1q5.7-1.3 7.9-0.9q2.2 0.4 2.8 3.9q0.7 3.6-1.3 5.5q-2 1.9-7.7 2.3q-5.7 0.4-7.7-1.1q-1.9-1.5-0.8-5q1.1-3.5 6.8-4.7zM257.4 214.6q-1.2-3 1-5q2.1-2 6.4-2.6q4.2-0.6 6.2 0.9q2 1.5 1.6 4.7q-0.5 3.1-4.9 4.5q-4.4 1.3-6.7 1q-2.3-0.4-3.6-3.5zM279.8 218.5q-2.9 0.9-5-0.3q-2.1-1.3-1.7-4.6q0.4-3.3 1.5-5.1q1-1.8 4.6-0.9q3.7 0.9 4.7 3q1.1 2.1 0 4.5q-1.2 2.5-4.1 3.4zM285.2 215.5q-1.8-2-1.4-4.4q0.4-2.4 2.1-4.4q1.8-2 4.1-0.6q2.4 1.3 2.5 3.9q0.2 2.6-0.2 4.3q-0.4 1.8-2.8 2.5q-2.4 0.7-4.3-1.3zM307.1 208.8q2 2.2 1.1 4.8q-0.8 2.6-3.6 3.8q-2.7 1.3-6.7-0.2q-4-1.5-4.9-4.1q-0.8-2.6 1.4-4.9q2.1-2.3 6.5-2q4.3 0.3 6.2 2.6zM-87.7 231.9q-2 1.9-4.5 1.6q-2.6-0.3-5-1.9q-2.5-1.7-1.8-4.5q0.8-2.9 2.7-3.8q1.9-0.9 5.7 0q3.8 0.9 4.4 3.8q0.5 2.8-1.5 4.8zM-76.1 225.4q1.7 2.6 0.3 4.3q-1.3 1.7-4.4 2.4q-3 0.7-4.6-0.9q-1.5-1.5-1.4-4.4q0-2.9 1.9-3.9q1.8-0.9 4.1-0.5q2.4 0.4 4.1 3zM-73.2 221.2q2.2-1.9 7.4-1.2q5.2 0.7 8.1 2.6q2.9 1.9 1.6 4.4q-1.4 2.5-5.1 3q-3.8 0.5-8.1-0.8q-4.3-1.4-5.1-3.7q-0.9-2.3 1.2-4.3zM-53.8 222.2q1.5-1.8 6.5-2.9q5-1.1 7.7 0.5q2.7 1.7 2.1 4.4q-0.6 2.8-3.5 4q-2.9 1.1-7.5 1.7q-4.7 0.5-5.7-2.7q-1.1-3.1 0.4-5zM-18.6 220.3q2.6 1.5 0.6 4.5q-2 3-4.4 4q-2.4 0.9-8-0.2q-5.5-1.2-6.7-3.5q-1.3-2.3 0.6-4.1q2-1.8 8.7-2q6.7-0.2 9.2 1.3zM-6.8 229.8q-4.3 0.9-7.3-0.5q-2.9-1.4-2.4-4.6q0.5-3.2 4.7-4.4q4.3-1.1 7.9-0.6q3.7 0.5 3.7 3q0 2.5-1.1 4.4q-1.1 1.8-5.5 2.7zM2.7 219.4q2.6-1.2 5.5-0.5q2.9 0.8 4.1 3q1.3 2.2 0.1 4.7q-1.1 2.5-4.1 3.1q-3 0.6-5.6-1.3q-2.6-1.8-2.6-4.8q0-3 2.6-4.2zM25.2 221.8q6 1.6 6.4 3.9q0.5 2.3-2.1 4.4q-2.7 2-7 1.4q-4.3-0.6-7.2-2.7q-2.8-2.1-2.6-4.1q0.1-2 3.3-3.3q3.2-1.2 9.2 0.4zM41.9 220.3q2.6 1.1 2.7 4.1q0.1 3.1-2.1 4.7q-2.1 1.5-4.9 1.7q-2.8 0.1-3.8-1.9q-1.1-2-0.6-4.7q0.5-2.6 3.3-3.8q2.7-1.2 5.4-0.1zM53.1 218.2q2.8 0 4.9 1.4q2 1.5 1.1 4.6q-0.8 3.2-4 4.4q-3.1 1.2-6.6-0.3q-3.5-1.5-3.1-4.2q0.4-2.8 2.7-4.3q2.3-1.5 5-1.6zM68.5 215.9q5.4 0.2 7.5 2.2q2.1 2 1.1 4.8q-1 2.8-4.7 3.4q-3.7 0.7-8.5-0.5q-4.8-1.1-4.9-3.6q0-2.5 2-4.4q2.1-2 7.5-1.9zM86.8 222.8q-0.8 2.2-3.2 2.5q-2.4 0.4-4.2-1.7q-1.8-2-1.4-4.6q0.5-2.6 2-3.7q1.5-1.1 4.2 0.3q2.6 1.3 3 3.1q0.5 1.8-0.4 4.1zM88.6 216.1q2.4-2.2 6.1-1.6q3.7 0.6 6.3 2.8q2.5 2.2 1.5 4.5q-0.9 2.3-4 2.6q-3 0.4-6.8-0.8q-3.9-1.3-4.7-3.4q-0.8-2 1.6-4.1zM103 219.7q-1-1.6-1.3-3.7q-0.3-2.1 2-3.6q2.3-1.4 4.5-1q2.1 0.5 2.8 2.3q0.7 1.7-0.8 4.7q-1.4 2.9-3.8 2.9q-2.3 0-3.4-1.6zM120.7 212.4q0.8 1.4-0.1 4.7q-0.9 3.2-3.5 3.3q-2.7 0-4.4-0.7q-1.8-0.7-1.6-4q0.1-3.4 1.5-4.4q1.4-1 4.4-0.6q2.9 0.3 3.7 1.7zM130.8 211.3q3.6 0.7 4.1 3.4q0.4 2.7-1 4.4q-1.4 1.7-5.7 1.7q-4.4 0-5.2-1.1q-0.8-1.2-0.5-4.3q0.2-3.1 2.4-4q2.2-0.8 5.9-0.1zM149.9 214.1q0.1 2.7-2.5 4.5q-2.5 1.8-6 2q-3.5 0.1-5.2-1.8q-1.8-1.8-0.9-4q0.9-2.2 5.7-3.5q4.8-1.3 6.8-0.6q2 0.6 2.1 3.4zM152.4 220.6q-2.7-1.5-2.5-4.3q0.3-2.7 4.2-3.8q3.9-1.1 6.5-1q2.5 0.1 3.6 1.8q1.1 1.8 0.2 4.8q-0.9 3.1-5.1 3.6q-4.1 0.5-6.9-1.1zM168.9 213.1q3.4-0.8 5.3 0.7q1.9 1.4 2.3 3.6q0.4 2.2-1.9 3.8q-2.3 1.7-4.7 1.7q-2.5-0.1-4.1-3.2q-1.6-3.2-0.9-4.5q0.7-1.3 4-2.1zM190.8 222.6q-3.7 0.9-8 0.4q-4.2-0.5-5.2-3.9q-0.9-3.4 0.5-4.9q1.3-1.5 6.7-1.6q5.3-0.1 7.8 1.7q2.6 1.8 2.2 4.6q-0.4 2.8-4 3.7zM199.6 222.8q-2.9-1.8-1.8-4.5q1.2-2.6 5.9-2.7q4.7-0.1 7.1 0.5q2.3 0.5 4 3.8q1.6 3.4 0.1 4.9q-1.6 1.4-7 0.6q-5.4-0.7-8.3-2.6zM234.8 225.7q-2.5 1-7.9 0.4q-5.3-0.6-7.8-2.2q-2.6-1.6-1.3-4.8q1.2-3.3 6.3-3.2q5.1 0 8.3 1.3q3.3 1.2 4.1 4.4q0.8 3.1-1.7 4.1zM248.3 222.4q-0.3 3.1-2.7 4q-2.5 1-5 0.3q-2.6-0.8-3.7-4q-1.1-3.2 0.1-4.5q1.2-1.4 4.8-1.5q3.7-0.2 5.3 1.2q1.6 1.5 1.2 4.5zM258.1 226.1q-5.9-0.6-8.4-3q-2.5-2.4-0.5-4.9q2.1-2.5 6-2.6q3.8-0.2 7.8 1.6q4 1.9 3.8 5.1q-0.3 3.3-1.6 3.8q-1.2 0.6-7.1 0zM276.8 220.2q0.4 1.7-1.2 4.5q-1.5 2.8-4.1 2.5q-2.6-0.3-3.2-1.2q-0.6-0.9-0.4-4.2q0.3-3.2 1.5-4.2q1.2-0.9 4.1 0q2.8 0.8 3.3 2.6zM295.9 218.8q2.1 2.6-0.2 4.6q-2.3 2-7.8 3.4q-5.4 1.3-8.3 0.5q-3-0.7-2.4-4.2q0.6-3.6 2.8-4.5q2.1-1 7.9-1.7q5.8-0.7 8 1.9zM300 217.1q2.1-0.6 4.9 0.7q2.8 1.2 3.1 4.3q0.4 3-1.4 4.5q-1.8 1.4-5 0.9q-3.1-0.5-4.5-2.6q-1.3-2.1-0.2-4.7q1-2.5 3.1-3.1zM318.6 224.5q-1.2 3.4-3.1 3.5q-1.8 0.1-4.3-0.9q-2.5-0.9-2.7-4q-0.2-3.2 1.3-4.2q1.5-1 4.9-0.2q3.4 0.7 4.3 1.5q0.8 0.9-0.4 4.3zM330.2 230.3q-5.9 0.1-8-0.4q-2-0.4-2.6-3.5q-0.6-3 3.3-5q4-1.9 8.9-1.5q4.9 0.5 6.7 2.8q1.9 2.2-0.2 4.9q-2.1 2.6-8.1 2.7zM343.5 222.4q2.9-0.4 7 1.2q4.2 1.5 4.5 3.2q0.4 1.7-2.4 4q-2.7 2.4-6.2 1.3q-3.6-1-5-2.6q-1.4-1.6-1-4.1q0.3-2.5 3.1-3zM-90.8 241.5q-4.4-1.2-4.4-2.8q-0.1-1.6 1.8-3.9q1.8-2.3 6.1-2.5q4.3-0.1 5.5 1.6q1.2 1.7 1 4.4q-0.1 2.7-2.9 3.5q-2.8 0.9-7.1-0.3zM-66 241q-4.1 1.3-8.7 0.1q-4.6-1.2-4.1-4.5q0.6-3.3 2.2-4.5q1.7-1.2 8.4-0.7q6.8 0.6 8.2 2.8q1.4 2.1-0.2 3.8q-1.7 1.7-5.8 3zM-58.9 232.2q0.8-1.2 4.9-1.5q4-0.3 5.2 2q1.3 2.3 0.4 5q-0.8 2.6-3 3.1q-2.1 0.5-5.7-0.9q-3.6-1.5-3.1-4q0.5-2.5 1.3-3.7zM-44.9 229.2q1.9-0.7 4.1 0.2q2.2 0.9 2.8 3.7q0.5 2.7-1.1 4.5q-1.6 1.8-4.1 1.8q-2.5 0-3.7-2q-1.2-2-0.5-4.7q0.7-2.7 2.5-3.5zM-32.7 238.8q-3.9-0.2-5.3-2.1q-1.4-1.9 0.4-4.6q1.7-2.7 4.3-2.9q2.6-0.3 6.1 1.5q3.5 1.8 3 4.4q-0.6 2.6-2.6 3.3q-2 0.7-5.9 0.4zM-22.3 237.7q-2.9-1.4-3.1-4q-0.1-2.7 3.5-4.3q3.7-1.6 7.6-1.3q3.9 0.3 5.5 3.1q1.5 2.8-0.3 4.7q-1.8 2-6 2.6q-4.3 0.6-7.2-0.8zM-6.5 233.4q1-3.1 4.9-3.5q4-0.4 6.2 0.3q2.2 0.8 2.8 3.9q0.6 3-1.1 4.5q-1.7 1.5-6.8 1.2q-5-0.3-6-1.7q-0.9-1.5 0-4.7zM7.9 231.4q1.7-1.4 4.7-1.7q2.9-0.3 4.8 0.5q2 0.9 2.4 3.8q0.4 2.9-2.2 4.3q-2.7 1.4-6.2 1.1q-3.4-0.3-4.3-3.4q-0.9-3.1 0.8-4.6zM51 235.4q-2.4-2.4-0.2-4.7q2.1-2.4 8-2.2q5.8 0.2 7.5 1.1q1.7 1 1.5 4.2q-0.2 3.3-2.2 4.1q-2 0.9-7.1 0.4q-5.1-0.5-7.5-2.9zM78.2 229.9q0.5 2.8-0.4 4.2q-0.8 1.5-3.9 1.7q-3.1 0.2-4-0.8q-0.9-1-0.4-4.1q0.4-3.1 2.8-4q2.4-1 3.9-0.4q1.5 0.6 2 3.4zM86.7 228.4q0.4 2.2 0.1 4q-0.4 1.9-3.5 2q-3 0.2-4.3-0.5q-1.3-0.6-1.5-3.2q-0.3-2.7 1.2-4.1q1.5-1.5 4.5-1q3.1 0.6 3.5 2.8zM86.6 229.4q-0.8-3.6 1-5.2q1.8-1.5 4.2-1.6q2.5-0.1 4.1 2.4q1.6 2.5 1.3 5q-0.3 2.5-2.4 2.8q-2 0.3-4.7 0.2q-2.7-0.1-3.5-3.6zM114.5 226.2q0 2.2-3.4 3.6q-3.4 1.3-7.4 0.8q-4.1-0.5-5.4-2.5q-1.2-1.9 0.3-4q1.5-2.2 6.6-2.5q5.1-0.4 7.1 1q2.1 1.4 2.2 3.6zM115.8 226.4q-1.1-3.5 0.1-5q1.2-1.5 5.3-1.3q4 0.2 6 1.7q2.1 1.4 1.4 4q-0.8 2.6-3.8 3.4q-3.1 0.8-5.5 0.7q-2.3-0.1-3.5-3.5zM139.2 229.4q-5.9 0.9-8.8-0.6q-2.8-1.6-2.4-3.7q0.3-2 2.8-3.8q2.5-1.8 7-1.5q4.4 0.4 6.3 3q2 2.5 1.5 4.1q-0.6 1.6-6.4 2.5zM157.1 226.7q-0.2 2.2-2.2 3.5q-2.1 1.2-5 0q-2.9-1.2-3.3-4.1q-0.5-3 1.5-4.8q1.9-1.7 4.6-1.3q2.6 0.4 3.5 2.4q1 2 0.9 4.3zM165.9 231.2q-4.6-0.3-6.8-2.5q-2.3-2.2-1.4-5.1q0.9-2.9 5.6-3.1q4.8-0.2 7.6 1.4q2.9 1.7 2.9 4q0 2.3-1.7 3.9q-1.7 1.6-6.2 1.4zM179 224.2q4.7-1.2 7.9-0.4q3.2 0.9 3.8 2.9q0.6 2-0.9 4.7q-1.6 2.8-7 2.6q-5.4-0.2-6.6-1.9q-1.3-1.8-1.6-4.2q-0.3-2.5 4.4-3.7zM256.8 235.6q-1 0.8-6.1 0.9q-5.2 0.1-6.9-0.7q-1.6-0.9-0.8-4.1q0.8-3.2 3.7-4.5q2.9-1.3 6.4-0.5q3.4 0.8 4 4.4q0.7 3.6-0.3 4.5zM261.8 225.9q2.9-1 5.7 0.1q2.9 1.1 3.5 3.9q0.6 2.8-0.9 4.1q-1.4 1.3-4.9 1.9q-3.5 0.5-5.3-2q-1.7-2.5-1.4-4.7q0.4-2.3 3.3-3.3zM278.2 225.4q3.7 0.7 4.7 2.7q1 2 0 4.5q-0.9 2.6-4 2.9q-3.1 0.3-5.1-1.3q-2-1.6-2-4.7q-0.1-3.1 1.3-3.9q1.4-0.8 5.1-0.2zM299.5 229.9q1.2 2-0.5 4.3q-1.7 2.2-6.1 2.2q-4.4-0.1-6.6-1.2q-2.2-1.1-2-3.9q0.2-2.8 4.1-4.2q4-1.4 7-0.3q3 1.1 4.1 3.1zM308.9 226.8q2.2 0.7 2.5 3.6q0.3 2.9-1.5 4.7q-1.7 1.7-4.2 2.1q-2.5 0.4-4.8-1.1q-2.3-1.6-1.8-4.9q0.6-3.2 4-4.2q3.5-1 5.8-0.2zM315.9 227.2q2.3 0.3 3.6 1.2q1.3 0.9 1 4.5q-0.4 3.7-1.5 4.4q-1.2 0.7-4.1-0.1q-2.9-0.7-3.1-3.8q-0.3-3.1 0.8-4.7q1.1-1.7 3.3-1.5zM321.1 230.7q1.2-2 4.8-2.3q3.5-0.2 5.1 0.8q1.6 1.1 1.8 4.4q0.2 3.2-1.9 4.6q-2 1.5-5.7 0.8q-3.7-0.7-4.4-3.5q-0.8-2.8 0.3-4.8zM332.4 237.4q-1.1-2.9 0.2-5q1.4-2 3.5-2.4q2.2-0.4 3.7 2.1q1.5 2.5 1.6 4.5q0 1.9-2.1 3.2q-2.1 1.3-4 0.9q-1.9-0.4-2.9-3.3zM351.2 238.1q-0.4 2.2-3.7 3q-3.3 0.8-5.3-0.9q-1.9-1.6-1.6-4.1q0.3-2.4 2.2-3.7q1.8-1.2 5.1-1q3.3 0.2 3.5 2.4q0.2 2.1-0.2 4.3zM352.2 241.2q-1.5-2.2 0-4.7q1.5-2.5 4.9-3.2q3.4-0.6 6 0.6q2.5 1.2 2.7 4.4q0.2 3.3-3.3 4.5q-3.5 1.2-6.1 1q-2.7-0.3-4.2-2.6zM368.3 234.2q1.7-1.2 3.7-0.9q2 0.4 2.9 3.3q0.8 2.9-0.8 4.9q-1.5 2-3.9 2q-2.3 0-3.5-1q-1.2-1-0.6-4.1q0.5-3.1 2.2-4.2zM375.6 236.4q0.9-2.4 3.3-2.2q2.3 0.3 4 1.9q1.7 1.5 1.6 4q-0.2 2.4-2.8 3.7q-2.6 1.3-4.6 0.3q-1.9-0.9-2.2-3.1q-0.2-2.2 0.7-4.6zM-83.3 261.9q-4.3-0.5-7-3.5q-2.7-3.1-1.7-5.2q1.1-2 5-2.3q4-0.2 8.4 2q4.4 2.2 5.1 4q0.8 1.7-2.3 3.7q-3.2 1.9-7.5 1.3zM-59.1 263.7q-1.3 2.4-4.7 1.8q-3.5-0.6-6-1.6q-2.6-1-2.1-4.3q0.5-3.3 2.9-4.2q2.5-0.8 6 0q3.6 0.9 4.4 3.4q0.7 2.5-0.5 4.9zM-49.2 268.4q-3.7-0.6-6.2-2.3q-2.5-1.7-0.9-4.7q1.5-3.1 4.7-3.5q3.2-0.5 5.9 1q2.7 1.5 3.2 4.6q0.4 3.2-1.3 4.3q-1.7 1.1-5.4 0.6zM-40.3 266.9q-1.5-1.5-0.7-4.5q0.9-2.9 3.2-3.4q2.3-0.5 5.7 0.4q3.3 0.9 3.9 3.7q0.5 2.8-1.6 4.8q-2 2.1-5.5 1.3q-3.5-0.8-5-2.3zM-20 269.9q-0.8 1.1-3.1 1.3q-2.4 0.3-3.8-1.8q-1.3-2.1-0.7-4.8q0.5-2.8 2.1-3.5q1.7-0.6 3.6 0.4q2 1 2.4 4.1q0.4 3.2-0.5 4.3zM-11.2 270.1q-0.6 2.7-3.2 2.5q-2.6-0.1-4.1-1.2q-1.5-1.1-1.1-3.8q0.3-2.7 2-3.7q1.8-1.1 3.7-1.1q1.9 0 2.7 2.3q0.7 2.2 0 5zM6 270.9q-1.4 2.5-3.2 2.9q-1.7 0.4-6.5-0.4q-4.8-0.9-6.1-4.2q-1.3-3.3 0.6-5.1q1.8-1.8 6.8-1.1q5 0.7 7.4 3q2.5 2.4 1 4.9zM21.7 264.8q5 2.6 4.1 5.1q-0.9 2.6-3.3 3.2q-2.4 0.7-7.5-0.3q-5.1-1-6.6-3.4q-1.5-2.5 0.5-4.8q1.9-2.2 4.9-2.4q2.9-0.1 7.9 2.6zM27.1 264.6q1.6-2.5 6.9-3.2q5.3-0.7 7.7 1.2q2.4 1.9 2.5 4q0.1 2.1-2.6 3.6q-2.7 1.5-7.1 1.2q-4.3-0.2-6.6-2.2q-2.3-2-0.8-4.6zM53.5 268.1q-1.4 2-4.4 2.1q-3 0.2-4.3-1.5q-1.4-1.7-1.3-4.2q0.2-2.5 3.3-3.5q3-1 5-0.2q2.1 0.7 2.5 3.1q0.5 2.3-0.8 4.2zM56.8 261.9q1-2 6.4-2.3q5.5-0.2 7.2 0.3q1.7 0.5 2 3.5q0.3 3.1-2.2 4.5q-2.6 1.5-7.2 1.2q-4.5-0.3-5.9-2.7q-1.4-2.4-0.3-4.5zM90.8 260.9q2.1 1.8 1.4 4.5q-0.8 2.8-6.3 4q-5.5 1.2-8.7 0.9q-3.3-0.3-3.4-2.5q-0.1-2.3 1.8-4.9q1.9-2.5 7.5-3.2q5.6-0.7 7.7 1.2zM93.7 262.1q0.7-1.7 5.4-2.7q4.6-0.9 8.4 0.6q3.7 1.5 3.3 3.9q-0.4 2.4-3.6 3.7q-3.3 1.4-7.7 1.2q-4.5-0.3-5.5-2.6q-1-2.3-0.3-4.1zM139.9 265.2q0.5-2.6 1.9-3.9q1.3-1.3 3.8-0.7q2.6 0.5 3.6 2.7q1 2.2-0.6 4.8q-1.5 2.5-3.8 2.7q-2.3 0.2-3.9-1.4q-1.6-1.5-1-4.2zM211.4 256.2q1.9-2.3 5.1-2.9q3.2-0.6 5.1 1.5q1.8 2.2 1.5 4.4q-0.3 2.2-3.7 3.3q-3.4 1.1-5.8 0.6q-2.5-0.5-3.3-2.5q-0.7-2 1.1-4.4zM226.6 260.4q-3-1-3.4-3.2q-0.3-2.1 1.7-4q1.9-1.8 7.5-1.6q5.6 0.1 7 1.6q1.4 1.5 0.5 4.1q-0.9 2.6-5.6 3.4q-4.6 0.8-7.7-0.3zM252.2 258.2q-0.6 2.8-3.1 3q-2.5 0.2-5-0.8q-2.6-1-3.7-3.2q-1-2.1 1.5-4.6q2.6-2.4 5.3-1.8q2.6 0.5 4.1 2.6q1.5 2.1 0.9 4.8zM262.6 260.5q-3.5 0.6-5.6 0.1q-2.2-0.6-3.5-3.5q-1.3-3 1.3-4.5q2.6-1.6 7.4-1.7q4.9 0 5.9 2q0.9 2.1-0.6 4.5q-1.5 2.5-4.9 3.1zM279.6 250.9q1.6 1.4 1.7 4.3q0.1 3-2.5 4.4q-2.7 1.5-5.8 0.3q-3.1-1.3-4-3.5q-0.8-2.3 0.4-4.6q1.1-2.4 4.9-2.3q3.8 0.1 5.3 1.4zM286 262.6q-2.8-0.4-4-3.1q-1.2-2.6 0.3-4.8q1.5-2.2 3.9-2.5q2.5-0.4 4.6 1.5q2 1.8 1.9 4.9q-0.1 3-2 3.8q-1.9 0.7-4.7 0.2zM298.5 252.8q4.9-0.9 8.9 0.1q4.1 1 4.4 3.9q0.3 2.9-1.5 4.1q-1.8 1.1-7.9 1.7q-6.2 0.5-7.8-2.1q-1.6-2.6-1.3-4.7q0.3-2.2 5.2-3zM312.4 260q-0.4-3.1 0.9-3.9q1.3-0.8 4.1-1q2.7-0.3 3.7 1.4q0.9 1.6 0.5 4.5q-0.5 2.8-2.8 3.8q-2.3 1-4.2-0.3q-1.9-1.3-2.2-4.5zM333.5 264q-1.4 2.3-5.3 2.3q-3.8 0-5.4-1.7q-1.6-1.6-0.9-4.4q0.6-2.7 3.2-3.3q2.7-0.7 5.4-0.1q2.7 0.6 3.5 2.7q0.8 2.2-0.5 4.5zM337.5 266.7q-2.5-0.7-3.6-2.9q-1-2.2 0.7-4.4q1.7-2.3 4-2.8q2.3-0.6 4.1 0.8q1.8 1.4 2.1 4.6q0.3 3.1-2.2 4.2q-2.6 1.2-5.1 0.5zM360.1 255.6q3.4 0.6 4.4 3.3q1 2.7-3.3 5.2q-4.3 2.4-8.8 2.2q-4.6-0.2-5.7-2.4q-1.1-2.2-0.4-3.9q0.7-1.6 5.6-3.3q4.9-1.7 8.2-1.1zM374.5 255.2q3.7 0.2 4.9 3.2q1.2 3-0.3 4.7q-1.6 1.7-5.9 2.5q-4.3 0.9-6.8-0.8q-2.4-1.7-1.6-4.7q0.8-3 3.4-4.1q2.6-1.1 6.3-0.8zM395.8 262.6q-0.9 3.5-3.3 3.6q-2.4 0.2-7-0.3q-4.6-0.6-4.7-4q-0.2-3.5 1.6-4.5q1.8-0.9 6.2-1.1q4.4-0.2 6.3 1.3q1.8 1.5 0.9 5zM408.5 263q-1.6 2.6-4.2 2.6q-2.6 0-4.8-1.1q-2.2-1.1-2.4-3.7q-0.1-2.6 0.8-4q1-1.5 4.6-1.4q3.6 0.2 5.6 2.5q2.1 2.4 0.4 5.1zM-84.8 262.8q5.2 1.3 5.6 3.8q0.4 2.6-1.7 4q-2.1 1.4-7.8 1.3q-5.6 0-7.5-2q-1.8-2-1-4.2q0.7-2.2 4-3.2q3.2-1 8.4 0.3zM-60.4 270.5q-1.7 2.1-6.2 2.5q-4.5 0.4-8.9-1.4q-4.4-1.7-3.5-4.4q0.9-2.7 3.9-3.2q3-0.5 8.2-0.3q5.1 0.2 6.7 2.4q1.6 2.3-0.2 4.4zM-58.5 271.8q0.6-2.6 3.2-3.8q2.6-1.2 8.3-0.2q5.8 0.9 7.8 3.1q2.1 2.3 0 4.5q-2.2 2.1-6.7 2.5q-4.5 0.4-8.9-1.5q-4.3-2-3.7-4.6zM-29.6 270.1q3.9 1.3 4.7 4.1q0.9 2.9-1.2 4.4q-2 1.4-5.1 1.2q-3.1-0.2-5.3-1.7q-2.3-1.6-1.5-4.8q0.7-3.2 2.5-3.8q1.9-0.6 5.9 0.6zM-14.7 273.2q1.6 2.1 1.3 4.7q-0.4 2.5-2.8 3.4q-2.5 0.9-5.1 0.1q-2.6-0.7-3-2.9q-0.4-2.2 1-4.6q1.4-2.5 4.2-2.7q2.8-0.1 4.4 2zM-12.2 279.1q-1.4-2.8-0.4-5.2q1-2.4 3.6-2.3q2.6 0 4.4 0.5q1.8 0.4 2.3 3.1q0.4 2.8-1.9 5q-2.3 2.2-4.5 1.9q-2.1-0.2-3.5-3zM7.8 272.6q1.6 1.3 1.1 4.3q-0.5 3-2.6 4q-2 1.1-4.8 0.2q-2.7-1-3.5-3.5q-0.8-2.5 0.8-4.2q1.5-1.8 4.4-1.9q3-0.2 4.6 1.1zM21.8 272.8q1.3 1.3 0.7 4.7q-0.7 3.3-3.4 4.1q-2.8 0.8-5.7-0.2q-3-1-3.5-4.1q-0.5-3.1 1.3-4.5q1.9-1.4 5.6-1.4q3.6 0 5 1.4zM31.9 282.6q-4.4-0.9-6.9-3.5q-2.5-2.5-0.4-4.9q2.1-2.4 5-2.6q2.9-0.1 8.4 2.5q5.5 2.6 5.6 4.5q0.1 1.9-3.6 3.5q-3.8 1.5-8.1 0.5zM58.4 272.1q4.2 1.4 3.8 3.4q-0.3 2-3 3.7q-2.6 1.7-7.7 1.4q-5.1-0.3-6.7-2.8q-1.5-2.6-1.5-4.4q0.1-1.7 5.5-2.2q5.4-0.5 9.6 0.9zM74.6 269.9q1.9 1.5 1.8 4q-0.1 2.6-3.7 4.3q-3.7 1.8-6.4 1.2q-2.6-0.7-3.8-3q-1.3-2.2 0-4q1.2-1.9 5.7-3q4.5-1 6.4 0.5zM80.4 279.1q-2.6 0.1-4.1-3.2q-1.4-3.3-0.5-4.7q1-1.3 4.2-1.9q3.3-0.6 6.2 0.8q2.8 1.4 2.5 3.8q-0.3 2.4-2.9 3.8q-2.7 1.4-5.4 1.4zM100.2 278.4q-3.3 1.3-7.2 0.2q-3.9-1-4.8-3q-0.9-2 0.7-4.1q1.7-2.2 6.1-2.6q4.5-0.5 6.7 0.6q2.2 1.2 2.1 4.4q-0.2 3.3-3.6 4.5zM120.7 270.9q2.6 2.3 1.9 4.6q-0.7 2.3-5.9 3q-5.3 0.6-8.4-0.4q-3-1.1-4.1-4.5q-1-3.4 3.1-4.2q4.2-0.8 7.5-0.8q3.3 0.1 5.9 2.3zM123.8 274.2q-0.6-3 1.1-4.1q1.7-1 7.7-0.5q6 0.6 8.2 2.3q2.3 1.6 1.8 4.9q-0.6 3.3-5.3 3.3q-4.7 0.1-8.9-1.3q-4.1-1.5-4.6-4.6zM143.8 278.8q-0.6-1.2 0.5-4.6q1.2-3.3 4.3-3.4q3.1-0.2 4.6 1.2q1.5 1.4 1.1 4.2q-0.4 2.8-2.4 4.4q-1.9 1.5-4.7 0.5q-2.8-1.1-3.4-2.3zM155.9 279.2q-2.6-1.5-1-4.8q1.6-3.3 6.5-4.6q5-1.4 7.4-1.4q2.4 0.1 3.9 3.5q1.5 3.3-1.5 5.1q-2.9 1.9-7.8 2.8q-4.8 0.9-7.5-0.6zM174.1 271.4q0.6-3 3-3.9q2.3-0.8 4.6 0.4q2.2 1.2 3 3.3q0.7 2.2-0.5 4.7q-1.3 2.5-4.5 2.1q-3.2-0.3-4.6-1.9q-1.5-1.6-1-4.7zM189.8 276.1q-4.9-0.5-4.9-3.2q0.1-2.7 3.2-5q3-2.3 8.3-2.5q5.3-0.2 7.4 1.7q2.2 1.9 0.1 4.5q-2 2.5-5.6 3.7q-3.6 1.2-8.5 0.8zM212.8 271.9q-5-0.4-6.7-1.5q-1.7-1.2-1.5-3.8q0.2-2.5 4.7-4q4.5-1.4 8.8-1.1q4.3 0.3 4.8 3.1q0.6 2.8-2.3 5.2q-2.9 2.4-7.8 2.1zM234 261.6q2 0.8 2.2 4.2q0.3 3.3-1 4.4q-1.3 1.2-5 1.2q-3.8 0-5-2.1q-1.1-2.1-0.1-5q1.1-2.9 4-3.2q2.9-0.2 4.9 0.5zM243.1 269.9q-3.4-0.3-5.1-2q-1.7-1.8-0.8-4.3q0.8-2.6 2-3.4q1.2-0.7 5-0.1q3.8 0.7 4.5 3.7q0.6 3-0.8 4.7q-1.5 1.7-4.8 1.4zM259.9 266.6q-1 3-3.3 3.7q-2.2 0.7-4.5 0q-2.3-0.7-3-2.7q-0.8-1.9 0.8-4.8q1.6-2.9 4.6-2.9q3 0.1 4.6 2q1.7 1.8 0.8 4.7zM260 264.9q-0.1-2.6 1.3-3.9q1.4-1.3 5.3-1.4q4-0.1 5.1 1.8q1.1 2 0.3 4.4q-0.8 2.4-3.4 3q-2.6 0.5-5.5-0.4q-2.9-1-3.1-3.5zM277.9 260q2.7 0.1 4.6 2.5q1.9 2.4 0.5 4.9q-1.4 2.6-2.7 3q-1.3 0.3-4.5-0.8q-3.2-1-3.7-3.5q-0.5-2.4 1.3-4.3q1.7-2 4.5-1.8zM283.4 265.7q0.2-2.8 3.2-3.9q3-1.2 5.8 0.1q2.7 1.2 2.5 4.3q-0.3 3.1-1.8 4.3q-1.5 1.1-4.9 1.1q-3.4-0.1-4.2-1.6q-0.9-1.5-0.6-4.3zM298.2 264.6q2.5-1.3 7.2-1q4.6 0.4 6.2 2.1q1.5 1.7-0.6 4.4q-2.1 2.8-7.6 3.4q-5.4 0.6-7.2-0.3q-1.7-0.8-1.1-4.1q0.6-3.2 3.1-4.5zM315.3 264.6q3.1-0.6 5.1-0.2q2 0.3 2.4 3.1q0.4 2.8-0.4 4.7q-0.8 2-4.7 1.6q-3.9-0.5-5.1-1.8q-1.3-1.3-0.8-4q0.4-2.7 3.5-3.4zM323.7 274.7q-0.9-2.1-0.3-4.7q0.6-2.6 4.3-3.6q3.7-1 5.9-0.4q2.2 0.6 2.9 3.2q0.7 2.7-1.7 5.1q-2.5 2.4-6.3 2.5q-3.9 0-4.8-2.1zM356.5 269.6q0.6 1.9-2.3 4q-2.9 2.2-7 1.6q-4.1-0.5-7-2.6q-2.8-2.1-3.2-4.7q-0.3-2.5 3.6-3.4q4-0.9 9.6 1.1q5.6 2.1 6.3 4zM370.4 274q-0.5 1.9-4.5 2.5q-4 0.6-6.4-0.5q-2.4-1.2-2.9-4.2q-0.4-3 1.2-4.2q1.5-1.2 6.4-1.1q5 0.1 5.8 2.9q0.9 2.7 0.4 4.6zM383.6 267.4q1.5 1.7 1.3 4.4q-0.3 2.6-4.5 3q-4.3 0.4-7.3-1.1q-2.9-1.5-2.4-3.9q0.5-2.4 2.8-3.9q2.4-1.4 5.5-0.8q3.1 0.5 4.6 2.3zM391.9 266.4q3.3 0.3 3.5 3.3q0.3 3-0.2 4.2q-0.5 1.3-4 2q-3.4 0.6-5.1-1q-1.6-1.7-1.5-4.3q0.2-2.5 2-3.5q1.9-1 5.3-0.7zM398.1 266.6q2.4-1.1 5.7-1q3.2 0.2 4.7 2.6q1.5 2.4 0.1 4.3q-1.3 1.8-5.4 2.9q-4.1 1-5.3-0.3q-1.3-1.2-1.8-4.3q-0.5-3.1 2-4.2zM410.8 275.1q-1.8-1.4-1.2-4.3q0.7-2.9 4-3.8q3.2-0.9 4.6-0.4q1.5 0.5 2.3 4.2q0.8 3.6-1.3 4.8q-2 1.3-4.3 1.1q-2.3-0.2-4.1-1.6zM426.1 276.6q-3.5 0.1-4.6-2.6q-1.1-2.7-0.9-4.4q0.3-1.8 3.4-2.5q3.2-0.6 6 0.1q2.9 0.7 2.7 4.1q-0.2 3.4-1.6 4.3q-1.5 1-5 1zM444 269.4q2.3 1.5 2.2 4.5q-0.1 3-2.1 4q-1.9 1.1-5.7 1.2q-3.7 0-4.9-3.3q-1.1-3.4-0.1-5.4q1.1-2 4.7-2.2q3.5-0.2 5.9 1.2zM-75.1 276.1q0.2 2.6-2 3.5q-2.1 0.9-6.5 1.2q-4.4 0.3-5.2-1.8q-0.9-2.2 1-4.6q1.8-2.4 5.9-2.6q4.1-0.3 5.4 0.7q1.3 1 1.4 3.6zM-68.9 273.1q2.6 0.7 3.5 2.8q0.8 2 0.3 3.3q-0.5 1.4-3.6 2.1q-3 0.7-4.5-0.3q-1.6-1-1.5-3.7q0.2-2.7 1.7-3.8q1.4-1.2 4.1-0.4zM-55.3 283.3q-1.9 1.7-5.2 1.5q-3.3-0.2-4.2-1.7q-0.8-1.4 0.2-3.9q0.9-2.4 3.8-2.7q2.9-0.3 4.6 0.4q1.6 0.6 2.1 2.7q0.6 2-1.3 3.7zM-47.5 276.9q3.1 0.6 4.2 2.3q1 1.7 0.1 3.6q-0.9 1.8-4 2.3q-3.2 0.4-4.6-0.5q-1.3-0.9-1.4-3.6q-0.1-2.6 1.2-3.7q1.3-1.1 4.5-0.4zM-36.9 280.3q5.2-0.5 8.7 0.6q3.5 1.1 4.2 3.2q0.6 2-1 3.3q-1.7 1.3-7.5 1q-5.9-0.2-8.7-1.2q-2.8-1-1.8-3.7q0.9-2.7 6.1-3.2zM-23.3 288.1q-1-1.1-0.3-3.7q0.8-2.5 3.8-3.4q3.1-0.8 5.6 0.3q2.4 1.1 2.7 3.1q0.3 2-0.8 3.3q-1.2 1.3-5.6 1.4q-4.4 0-5.4-1zM-3 285.8q0 3.1-1 4.1q-0.9 1-3.2 0.7q-2.2-0.3-3.7-2.5q-1.4-2.2-1-3.9q0.5-1.6 3.3-2.6q2.8-0.9 4.2 0q1.4 1 1.4 4.2zM10.1 282.2q2.9 1.1 3.5 3.9q0.5 2.9-0.7 4q-1.2 1-5.9 0.8q-4.7-0.2-7.1-2.9q-2.4-2.6-1.8-4.6q0.6-2 4.9-2.1q4.2-0.1 7.1 0.9zM26.9 290.4q-3.9 0.9-7.3 0.2q-3.3-0.6-4.6-3.6q-1.3-3 0.4-4.2q1.8-1.2 6.5-1q4.6 0.2 7.2 2q2.6 1.8 2.1 3.8q-0.5 1.9-4.3 2.8zM38.8 279.8q3.9-0.5 5.9 0.8q2 1.2 2.3 3.2q0.3 2-1.4 3.8q-1.7 1.9-5.6 1.3q-4-0.7-6.3-3q-2.3-2.2-0.6-4q1.8-1.7 5.7-2.1zM48.6 287.1q-1.7-2.1-0.8-3.7q0.9-1.6 4.9-2.5q3.9-1 6.8-0.4q3 0.7 2.6 3.6q-0.3 3-2.2 4.1q-1.9 1.1-5.8 1q-3.8-0.1-5.5-2.1zM73.7 287.9q-1.8 1.1-4.9 0.9q-3-0.2-4.8-2.4q-1.7-2.2-0.6-4.1q1.1-1.9 4.8-2.2q3.6-0.2 5.3 0.5q1.8 0.7 1.8 3.5q0.1 2.8-1.6 3.8zM87 287.6q-1.8 0.7-5.3 0.9q-3.6 0.2-5.4-2.3q-1.8-2.4 0.2-4.2q2-1.8 4.8-2.4q2.8-0.5 5.1 0.5q2.3 0.9 2.4 3.8q0 3-1.8 3.7zM88.6 284q0.1-1.8 2.2-3.1q2-1.4 6-0.8q4 0.6 5.4 2.9q1.5 2.4 0.5 3.6q-1.1 1.3-4.7 1.8q-3.6 0.4-6.5-1q-3-1.5-2.9-3.4zM211.1 272.9q1.4-1.5 5.2-1.2q3.8 0.3 4.9 1.4q1.2 1.1 0.7 3.7q-0.4 2.5-2.3 3.1q-2 0.5-5.4-0.1q-3.4-0.7-4-3q-0.6-2.3 0.9-3.9zM233.3 277.4q-1 2-4.2 2.4q-3.2 0.3-4.4-0.4q-1.2-0.7-1.8-3.5q-0.5-2.8 1.5-3.9q2-1.1 4.4-1.1q2.4 0 4 2.2q1.5 2.2 0.5 4.3zM247.1 275.3q-0.9 1.1-5 2.4q-4.2 1.3-6.2 0.5q-2-0.7-2.2-3.3q-0.3-2.7 1.5-3.5q1.9-0.8 5.6-1.2q3.8-0.4 5.5 1.8q1.7 2.2 0.8 3.3zM254.2 279.4q-3.4 0.3-4.6-0.9q-1.2-1.1-1.6-3.6q-0.4-2.6 3.2-3.6q3.7-1 5.3-0.6q1.6 0.4 3.1 2.9q1.6 2.4-0.2 4q-1.9 1.5-5.2 1.8zM267 269.8q4.1-0.9 6.2 1q2.2 1.8 1.1 4.1q-1.1 2.2-4.4 3.6q-3.4 1.3-5.8 0.7q-2.3-0.6-3.5-2.6q-1.2-2 0.5-4q1.7-1.9 5.9-2.8zM275.1 274.4q0.1-2.8 2-3.5q1.9-0.8 4.6-0.1q2.7 0.7 3.6 2.4q0.9 1.7-0.9 4.2q-1.9 2.5-4.5 2.4q-2.5-0.1-3.7-1.4q-1.2-1.2-1.1-4zM285.6 276.8q-0.2-3.1 0.9-4q1.2-0.9 3.9-0.6q2.8 0.4 3.7 2.4q1 1.9 0.1 4q-0.8 2.1-2.2 2.4q-1.3 0.3-3.7-0.4q-2.4-0.8-2.7-3.8zM297.5 281.9q-3.8-1.4-3.7-3.3q0-1.8 3.2-3.1q3.1-1.4 9-1.7q5.9-0.3 7.9 2q2.1 2.2-0.5 4.1q-2.6 1.9-7.3 2.7q-4.8 0.7-8.6-0.7zM316 281.5q-2.1-1.6-1.1-4.1q0.9-2.4 3.7-2.8q2.8-0.3 6.5 1.3q3.8 1.5 4.3 3.3q0.5 1.8-1.5 3.6q-2.1 1.7-5.9 1.1q-3.8-0.7-6-2.4zM330.9 277.1q1-1.1 3.6-1q2.7 0.1 3.9 1.7q1.1 1.5 0.7 3.6q-0.5 2.1-3.2 2.8q-2.7 0.7-4.5-0.3q-1.9-1-1.8-3.3q0.2-2.3 1.3-3.5zM342.9 284q-2.8-1.1-3.8-3.2q-1.1-2.2 1.5-3.8q2.5-1.7 7.5-0.5q5 1.2 6.9 2.5q1.8 1.3 0.6 3.9q-1.2 2.5-5.6 2.4q-4.3-0.1-7.1-1.3zM358.3 283.5q-1.4-0.8-1.5-3.1q-0.2-2.3 2.2-3.9q2.4-1.6 4.8-1.2q2.3 0.4 3.1 2.8q0.8 2.5 0.2 3.9q-0.5 1.4-4 1.9q-3.4 0.5-4.8-0.4zM371.1 284.5q-2.3-0.3-3.1-2.4q-0.8-2 0.4-4q1.1-1.9 4.1-2.5q3-0.5 4.1 0.2q1.1 0.6 1.5 3.8q0.5 3.2-2 4.2q-2.6 1-5 0.7zM384.2 275.5q2.2 0.5 2.6 2.8q0.3 2.3-0.2 3.8q-0.6 1.4-3 1.5q-2.5 0.2-4-1.2q-1.4-1.4-1.2-3.8q0.2-2.5 1.9-3q1.7-0.6 3.9-0.1zM395.8 283.6q-5-0.4-7.4-2.5q-2.5-2-1.2-4q1.4-1.9 5.3-2.6q3.9-0.6 7.7 1.2q3.9 1.8 4.4 3.7q0.6 1.8-1.6 3.2q-2.2 1.4-7.2 1zM411 284.2q-1.7 0.6-4.4-0.4q-2.8-1-2.5-3.4q0.2-2.5 1.1-3.8q0.9-1.2 3.4-1q2.5 0.2 4 2q1.5 1.8 0.8 3.9q-0.7 2.1-2.4 2.7zM309.1 284.1q3.2 0 4.9 1.5q1.7 1.4 1.2 4.1q-0.4 2.7-3.1 3.1q-2.8 0.4-5.8-0.6q-3-0.9-3.1-3.2q0-2.3 1.3-3.6q1.3-1.3 4.6-1.3zM488.9 300.6q5.8-0.3 6.7 2.5q0.9 2.9-0.2 5.1q-1.2 2.2-7.4 3.3q-6.2 1.2-8.4 0q-2.3-1.2-2.8-4.1q-0.6-2.9 2.8-4.8q3.5-1.8 9.3-2zM-118.6 316.1q-0.6-2.8 2.3-3.8q2.8-1 7.8-0.7q5 0.4 7 2.2q1.9 1.8 1.6 4q-0.4 2.2-6 2.8q-5.6 0.5-8.8-0.6q-3.2-1.2-3.9-3.9zM-98.8 318.4q-1.3-2.6 1.1-3.6q2.5-1 7.5-0.9q5 0 7.3 2.2q2.3 2.3 1.7 3.8q-0.7 1.5-5.4 2.5q-4.7 0.9-7.8-0.3q-3.2-1.1-4.4-3.7zM-78.2 323.3q-1.9-0.3-3.5-2.1q-1.5-1.7-1.1-3.6q0.5-1.9 3-2.5q2.4-0.6 4.5 0.3q2.1 0.9 2.2 3.1q0.2 2.2-1.5 3.6q-1.7 1.5-3.6 1.2zM-73.2 323.1q-1.3-2.5-0.5-3.7q0.9-1.2 4.3-2.4q3.3-1.1 4.7-0.2q1.4 0.8 1.7 3.4q0.3 2.6-1.9 3.7q-2.2 1.1-4.6 1.3q-2.4 0.3-3.7-2.1zM-59.5 316.4q2.6-1.3 5.5-0.6q2.9 0.6 3.7 2.8q0.8 2.3-0.5 4q-1.2 1.8-4.9 2q-3.7 0.2-5.4-1.4q-1.7-1.5-1.3-3.6q0.4-2 2.9-3.2zM-35.2 320.4q1.5 1.8-0.2 3.7q-1.6 2-6.6 1.8q-5.1-0.2-6.9-1.9q-1.7-1.7-1.1-3.7q0.7-2 3.2-2.5q2.6-0.6 6.3 0.1q3.8 0.8 5.3 2.5zM-26 323.8q-1.9 1.3-4.3 1.1q-2.4-0.2-3.7-2.5q-1.2-2.2-0.4-4.2q0.8-1.9 4.3-2.4q3.4-0.5 4.9 0.3q1.4 0.8 1.2 3.5q-0.1 2.8-2 4.2zM-22.6 322.6q-1.5-2-1.2-3.7q0.3-1.7 2.7-3q2.3-1.2 4.4-0.3q2.1 1 2.6 3.4q0.6 2.3-0.3 3.4q-0.9 1.1-3.8 1.7q-3 0.5-4.4-1.5zM-2.5 317.2q0.9 2.3-1.2 3.7q-2 1.3-5.2 1.5q-3.2 0.3-4.9-1.4q-1.7-1.7-1.1-3.4q0.5-1.7 3.1-3.2q2.7-1.4 5.6-0.4q2.8 1 3.7 3.2zM58.2 314q-1.5 1.6-4.6 1.6q-3.1 0-6.4-1.2q-3.3-1.2-3.3-3.1q0-1.9 2.5-3.4q2.5-1.4 6.8-1q4.3 0.5 5.4 3q1.1 2.4-0.4 4.1zM67.4 308.4q1.6 1.8 1.1 4.1q-0.5 2.3-2 3.3q-1.6 0.9-4.3 0q-2.8-0.9-3-2.7q-0.1-1.8 0.6-3.4q0.7-1.6 3.3-2.4q2.7-0.8 4.3 1.1zM69.8 315.2q-1.6-1.8-1.2-3.8q0.3-2.1 2.7-2.8q2.4-0.8 5.6-0.1q3.2 0.6 3.3 3.2q0.1 2.6-1.1 3.8q-1.2 1.2-4.5 1.4q-3.3 0.1-4.8-1.7zM90.7 309.2q1.7 1.8 0.7 3.9q-1 2.2-2.4 2.9q-1.5 0.7-4.7-0.6q-3.1-1.2-3.8-3.2q-0.8-1.9 0.8-3.6q1.7-1.7 4.7-1.4q3 0.3 4.7 2zM96.7 317.1q-3.2-0.1-4.2-1q-0.9-1-0.5-3.5q0.5-2.6 2.2-3.6q1.8-1 3.9-0.5q2.1 0.5 2.7 3.4q0.6 3-0.1 4.2q-0.8 1.2-4 1zM118.3 310.1q1.8 2.1-0.9 4.1q-2.7 2.1-7.6 3q-4.8 0.9-6.4-1q-1.6-1.8-1.1-3.7q0.5-1.8 4.7-3q4.2-1.1 6.9-1.3q2.7-0.2 4.4 1.9zM121.5 315.5q-2.6-1.1-2.2-4q0.4-2.9 1.9-3.4q1.4-0.6 4.4 0q3.1 0.5 3.8 2.3q0.8 1.8-0.8 4q-1.6 2.1-3.1 2.2q-1.4 0-4-1.1zM140.9 310.4q0 2.3-1.3 3.9q-1.4 1.6-4 1.1q-2.7-0.4-4.4-2.3q-1.7-1.9-1.4-3.9q0.4-1.9 2.3-2.4q1.8-0.6 5.3 0.3q3.4 1 3.5 3.3zM150 310.9q-0.4 1.8-2.9 2.7q-2.5 0.9-4.3-0.2q-1.9-1-1.7-3.4q0.1-2.4 1.3-3.9q1.2-1.6 3.2-1q1.9 0.6 3.3 2.3q1.5 1.7 1.1 3.5zM159.1 306q1.5 0.6 1.4 3.4q-0.1 2.8-1.4 4q-1.3 1.1-4.4 1q-3.2-0.2-4.5-2.5q-1.4-2.2-0.8-3.6q0.5-1.4 4.4-2.2q3.8-0.8 5.3-0.1zM171.4 305.5q1.6 2.1 0.8 3.8q-0.7 1.7-4.3 2.8q-3.5 1.2-5.2 0.4q-1.7-0.8-1.5-4.1q0.2-3.2 1.9-4.3q1.7-1.1 4.3-1q2.5 0.2 4 2.4zM172.1 308.9q-0.8-1.7 0.7-4q1.5-2.3 3.4-2.6q1.8-0.3 4.5 1.6q2.7 1.9 2 3.9q-0.8 2-2.5 3.2q-1.8 1.2-4.6 0.4q-2.8-0.9-3.5-2.5zM184.9 303.2q2.4-0.9 6-1.1q3.6-0.2 4.9 1.8q1.2 2-1 4.3q-2.2 2.3-5.4 2.9q-3.2 0.5-5.2-1.3q-2-1.9-1.9-3.8q0.1-1.9 2.6-2.8zM241.2 313.6q-0.3-1.1 0.2-3.3q0.6-2.2 2.7-3.2q2.1-1 4.3 0.5q2.2 1.4 1.8 3.9q-0.3 2.5-1.6 3.6q-1.3 1.2-4.2 0.4q-2.8-0.9-3.2-1.9zM251.2 310.8q1.5-1.9 4-1.9q2.4-0.1 4.4 1.5q2.1 1.5 2 3.5q-0.1 2-2 3q-2 1-5 1.1q-3 0.2-4-2.6q-0.9-2.7 0.6-4.6zM267.6 312.2q4.9-0.9 6.5 0.1q1.5 1 1 3.3q-0.5 2.3-3.6 3.8q-3.2 1.4-5.5 1.1q-2.4-0.3-3.4-2.8q-1-2.5-0.5-3.6q0.6-1 5.5-1.9zM292.9 313q1 1.2 0.7 3.5q-0.2 2.3-5.7 3.5q-5.4 1.2-8.8-0.2q-3.4-1.5-3.8-3.1q-0.4-1.6 3.1-3.5q3.6-1.9 8.5-1.6q4.9 0.3 6 1.4zM299.4 321.5q-3.4-0.5-4.3-2.3q-0.8-1.8 0-4.1q0.9-2.2 3.7-2.6q2.8-0.4 5.7 1.3q2.8 1.6 2.2 4.1q-0.6 2.4-2.3 3.2q-1.7 0.9-5 0.4zM319.9 316q0.4 2.2-0.8 3.9q-1.3 1.7-4.6 2.3q-3.3 0.7-5.4-0.2q-2.1-0.8-2.1-3.6q0-2.9 3.6-4.6q3.5-1.7 6.2-0.8q2.6 0.8 3.1 3zM333.5 320q-0.8 2.6-3.7 2.6q-2.9 0.1-5.6-0.7q-2.6-0.9-3.2-3.4q-0.7-2.5 0.7-3.7q1.4-1.2 5.2-1.2q3.7-0.1 5.6 1.8q1.8 1.9 1 4.6zM353.2 318.9q-1.1 1.7-5.7 2.1q-4.7 0.4-8.5-0.8q-3.8-1.2-4.1-3.8q-0.2-2.7 3.5-3.9q3.8-1.2 7.9-0.7q4.1 0.5 6.1 3q1.9 2.4 0.8 4.1zM354.6 316.8q-1.5-2.4-0.7-3.9q0.7-1.4 3.6-1.9q2.9-0.5 5.2 0.6q2.3 1 2.5 3q0.2 2-1.6 3.4q-1.7 1.4-4.7 1.3q-2.9-0.1-4.3-2.5zM411.6 321.1q-3.4 0.5-5.5-0.5q-2.1-1.1-2.7-3.5q-0.5-2.4 3-3.7q3.4-1.4 6.3-0.8q2.9 0.7 3.9 2.7q1.1 2-0.2 3.7q-1.3 1.6-4.8 2.1zM423.5 313.6q3 0.5 4.3 2.2q1.3 1.7 0.8 3.6q-0.6 1.9-3.4 2.8q-2.8 0.9-4.7 0.2q-1.9-0.8-2.6-3.4q-0.7-2.6 1-4.2q1.6-1.7 4.6-1.2zM442.2 318q0 2.3-2.4 3.8q-2.4 1.4-5.9 1q-3.5-0.4-4.4-2.6q-0.9-2.2 0.4-4.1q1.3-2 4-2.3q2.8-0.4 5.5 0.7q2.8 1.2 2.8 3.5zM450.8 314.3q4.3 0.3 6.8 1.9q2.4 1.7 2.2 4.2q-0.3 2.4-3 3.4q-2.8 1-6.9-0.2q-4-1.2-5.5-3.6q-1.4-2.4 0.3-4.2q1.7-1.8 6.1-1.5zM464 320.5q-3.1-1.1-3.1-3.1q-0.1-1.9 3-3.5q3.1-1.7 7.7-1.2q4.7 0.5 6.5 2.7q1.7 2.2 1.3 3.6q-0.5 1.3-6.4 2q-5.9 0.7-9-0.5zM480.2 317.1q-0.4-1.7 0.4-3.7q0.9-2.1 4-3q3.2-1 5.7 0.5q2.5 1.5 2.6 3.5q0 1.9-3 3.6q-3.1 1.7-6.1 1.3q-3.1-0.4-3.6-2.2zM501.1 314q0.2 2.7-1.2 3.9q-1.5 1.1-3.9 1q-2.4-0.1-3.6-2q-1.2-1.9-1-3.5q0.2-1.6 2.7-2.4q2.5-0.9 4.7-0.3q2.2 0.6 2.3 3.3zM501.5 314.9q-0.6-1.1 0.8-3.8q1.4-2.8 3.9-2.5q2.6 0.3 4.2 1q1.6 0.7 1.5 3.9q0 3.2-1.8 3.7q-1.7 0.6-4.8-0.3q-3.1-0.9-3.8-2zM-120 328q-0.6-2.1 0.5-5.3q1.1-3.2 4.9-3.1q3.8 0 5.9 1.4q2.2 1.3 2.1 4.5q-0.1 3.1-4 4.7q-3.8 1.6-6.4 0.8q-2.5-0.8-3-3zM-106 327q-0.6-2.9 1.2-4.4q1.8-1.4 5.6-1.7q3.7-0.2 5.5 2.6q1.9 2.8 0.7 5.5q-1.2 2.6-5.5 3.4q-4.2 0.8-5.6-0.9q-1.4-1.6-1.9-4.5zM-74.9 324q2.6 1.4 1.1 4.9q-1.6 3.6-3.5 4.5q-1.9 0.8-8.1 0.9q-6.2 0.1-6.8-3.4q-0.6-3.4 0.2-5.1q0.8-1.7 7.7-2.4q6.8-0.8 9.4 0.6zM-54.7 330.2q0.3 4-4.6 5.4q-5 1.4-8.5 1q-3.6-0.5-4.4-4.1q-0.9-3.7 0.4-4.9q1.2-1.3 7-2.6q5.8-1.3 7.8-0.1q2 1.3 2.3 5.3zM-50 336q-1.7-0.7-2.3-4q-0.6-3.4 1.3-5.4q2-1.9 4.7-1.8q2.7 0 4.7 2q2 1.9 1.8 5.2q-0.1 3.3-4.3 4q-4.2 0.6-5.9 0zM-35.8 335.6q-3.4-1.6-3.3-5.2q0.1-3.7 2.5-5.3q2.4-1.6 6.3-0.5q3.9 1 5.2 3.1q1.3 2.1-0.1 4.9q-1.5 2.8-4.3 3.7q-2.9 0.9-6.3-0.7zM-8.9 329.9q-0.8 2.2-3.2 3.7q-2.5 1.6-6.5 0.4q-4-1.1-4.9-4.1q-0.9-3.1 0.7-4.7q1.6-1.6 5.9-2.1q4.2-0.6 6.5 2q2.2 2.6 1.5 4.8zM-4.4 330.9q-3.8-1.4-4.6-2.7q-0.8-1.3 0.6-4.8q1.5-3.4 4.6-3.5q3.2 0 4.7 1.2q1.5 1.2 1.7 4.2q0.2 3-1.6 5.1q-1.7 2-5.4 0.5zM16.7 328.4q-2 2.2-5.3 2.5q-3.2 0.2-5.6-1q-2.5-1.3-3-4.8q-0.5-3.5 1.6-4.5q2.2-1.1 7.5-0.7q5.2 0.4 6 3.3q0.8 3-1.2 5.2zM18.2 324q-1-3.9 1-5.5q2.1-1.6 7.2-1.6q5.1 0 6.4 2.5q1.2 2.6-0.9 5.6q-2 3-5.1 3.8q-3.1 0.7-5.4-0.2q-2.2-0.8-3.2-4.6zM33 320.1q0-2.7 2.2-3.4q2.3-0.7 3.9-0.4q1.7 0.3 3 4q1.3 3.7 0.3 4.8q-1 1.1-4.2 1.6q-3.2 0.5-4.2-1.7q-0.9-2.1-1-4.9zM43.2 319.4q0.8-2.6 6.2-3q5.3-0.5 8.8 0.8q3.5 1.3 3.7 3.4q0.1 2-3.1 4.8q-3.3 2.7-7.6 2q-4.3-0.7-6.6-3q-2.2-2.4-1.4-5zM62.7 323.6q-0.7-2.6-0.7-5q0.1-2.3 2.5-3.3q2.5-1 4 0.3q1.5 1.2 2.3 4.6q0.9 3.5-0.3 4.5q-1.2 1-4.2 1.2q-2.9 0.2-3.6-2.3zM80.1 326q-1.2 1.8-4.2 1.8q-3 0-4.7-2.6q-1.8-2.5-1.3-4.8q0.5-2.2 2.9-3.3q2.5-1 5.8 0q3.3 1 3 4q-0.4 3-1.5 4.9zM82.2 323.6q-0.4-3 2.8-5.1q3.3-2.2 8.3-1.5q5.1 0.7 6.6 2.9q1.5 2.3-0.1 5.1q-1.6 2.8-7.3 3.1q-5.7 0.4-7.7-0.5q-2.1-0.9-2.6-4zM102.8 318.8q1.3-1.8 5.4-1.6q4.2 0.2 6 1.7q1.8 1.6 1.1 4.7q-0.6 3.2-3.5 4.2q-2.9 0.9-6.2 0.1q-3.3-0.8-3.8-4.1q-0.4-3.3 1-5zM120.3 316.6q3.1-0.2 6.2 1.2q3 1.3 3.2 3.7q0.1 2.4-2.2 4.7q-2.3 2.4-5.9 1.5q-3.7-0.9-5-3.9q-1.4-3.1-0.4-5q1-1.9 4.1-2.2zM143.2 325.5q-3.3 1.2-7.8 0.4q-4.6-0.7-4.8-4.8q-0.3-4 1.2-5q1.5-0.9 7.9-1.6q6.4-0.7 8.5 1.1q2.1 1.7 0.2 5.3q-1.9 3.5-5.2 4.6zM157.7 312.6q4.3-0.4 6.3 1.3q2 1.8 1.3 4.5q-0.7 2.8-4.3 4.4q-3.6 1.6-6.4 1.2q-2.9-0.4-4.1-4q-1.2-3.6 0.9-5.2q2-1.7 6.3-2.2zM178.8 322q-1.5 1.7-6.1 1.8q-4.6 0-5.9-2.2q-1.3-2.1-0.9-4.7q0.5-2.5 4.9-3.8q4.3-1.3 7.3 0q2.9 1.4 2.5 4.3q-0.4 3-1.8 4.6zM187.9 321.8q-2.5 0.3-5.1-1q-2.6-1.4-2.9-4.4q-0.2-3.1 1.9-5q2.2-1.9 4.8-1.4q2.5 0.5 3.8 3.9q1.3 3.4 0.6 5.5q-0.7 2-3.1 2.4zM192.4 319.5q-1.6-2-0.4-5.1q1.2-3.2 3.4-3.8q2.2-0.6 5.8 0.9q3.6 1.5 3.2 4.7q-0.5 3.2-2.2 4.9q-1.6 1.8-5 1.1q-3.3-0.7-4.8-2.7zM211.2 311.9q4.5 0 7.2 1.5q2.8 1.4 2.5 4q-0.3 2.6-3.7 4q-3.4 1.5-6.6 1q-3.2-0.5-4.4-2.1q-1.3-1.6-0.3-5.1q0.9-3.4 5.3-3.3zM230.9 313.7q4.2 0.2 6.9 2.9q2.6 2.7 0.8 4.9q-1.8 2.2-5.5 3.3q-3.7 1.1-7.9 0.1q-4.2-1-4.8-4q-0.6-3 2.8-5.2q3.5-2.2 7.7-2zM246.2 314.9q3.4 0 4.6 1.9q1.2 1.9 0.1 5.5q-1.1 3.6-4.5 3.9q-3.3 0.3-4.6-1.1q-1.4-1.3-1-5.1q0.3-3.8 1.1-4.5q0.9-0.6 4.3-0.6zM260.4 318.4q1.3 1.6 1.5 4.7q0.3 3-3.3 4.5q-3.7 1.5-5.4 0.5q-1.8-1.1-2.6-4q-0.8-3 1.6-5.5q2.3-2.6 4.7-2.2q2.3 0.5 3.5 2zM262.1 324.1q0.1-2.5 3.7-4q3.5-1.4 6.2-0.6q2.7 0.9 3.3 4.5q0.6 3.7-0.7 5.1q-1.3 1.4-5.3 1.7q-4 0.3-5.6-1.9q-1.6-2.2-1.6-4.8zM277.4 322.4q2-1.9 6.7-1.2q4.8 0.7 6.4 3.4q1.7 2.7-0.4 4.9q-2.1 2.2-5.5 2.7q-3.4 0.6-6-1q-2.6-1.5-2.8-4.3q-0.3-2.7 1.6-4.5zM292.5 331.6q-1.7-1.8-1.9-4.4q-0.2-2.5 1.3-4.3q1.5-1.7 4-1.1q2.5 0.5 3.7 2.4q1.3 1.9 0.7 4.8q-0.6 2.9-3.4 3.6q-2.7 0.8-4.4-1zM315.9 324.4q4.9 2.6 4.6 4.7q-0.4 2.1-3.6 4.1q-3.2 2.1-7.2 0.9q-4-1.2-7.3-3.7q-3.3-2.6-1.3-5.5q2.1-2.9 6-3q3.9 0 8.8 2.5zM321.3 325.5q1.1-3.6 3.6-4.6q2.5-0.9 5.9 0.2q3.3 1.2 3.8 4.5q0.6 3.3-1.4 4.8q-2 1.5-6.6 1.4q-4.5-0.1-5.5-1.4q-0.9-1.2 0.2-4.9zM346.9 325q1.2 2.5 0 4.8q-1.2 2.2-3.4 3.2q-2.2 1-5.3-0.1q-3-1.1-4-4.5q-0.9-3.4 1.9-5.3q2.8-1.8 6.1-1.2q3.4 0.6 4.7 3.1zM353 320.8q2.8-0.4 7.5 0.9q4.7 1.3 5.3 4q0.6 2.7-1.9 4.9q-2.6 2.2-6.4 1.8q-3.8-0.5-6.5-2.7q-2.6-2.2-1.8-5.4q0.9-3.2 3.8-3.5zM374.4 319.1q3.4-0.1 6.8 0.3q3.5 0.4 3.3 3.7q-0.1 3.2-3.7 5.3q-3.7 2.1-8.3 1.9q-4.7-0.2-6.3-2.2q-1.6-2.1 1.6-5.5q3.2-3.5 6.6-3.5zM392.7 320.1q3.8-0.4 5.9 1.3q2.2 1.6 1.8 5q-0.5 3.5-4 4.5q-3.6 1-6.8 0.1q-3.1-0.9-4-4q-0.8-3.2 1.3-4.9q2-1.6 5.8-2zM405.9 332.5q-2.9 0.4-4.5-1.2q-1.6-1.6-1.6-4.4q-0.1-2.8 2.1-4.1q2.3-1.4 4-0.8q1.7 0.7 2.9 3.2q1.2 2.5 0.6 4.7q-0.6 2.2-3.5 2.6zM420 326q0.1 3.3-0.7 4.8q-0.8 1.5-4.2 1.4q-3.3-0.1-5.1-1.7q-1.8-1.7-0.8-4.7q1-3.1 3-4.4q2-1.4 4.8-0.1q2.8 1.3 3 4.7zM424.1 333.6q-2.2-0.1-3.2-3q-1-2.8-0.8-4.8q0.2-2.1 3-3.1q2.7-1 4.5 1q1.9 2 2.2 4.7q0.3 2.8-1.6 4.1q-1.9 1.3-4.1 1.1zM441.4 330.1q-0.7 3.2-2.4 4.3q-1.6 1.1-5 0.5q-3.3-0.5-3.9-2.9q-0.5-2.3 0.8-5.4q1.2-3.1 3.6-3.7q2.3-0.5 5 1.7q2.7 2.3 1.9 5.5zM446.4 333.2q-3.5-1.4-4.4-4.3q-0.8-2.9 2.2-5q3-2.1 7.8-1.9q4.9 0.2 7.1 1.8q2.3 1.6 1.1 5.4q-1.2 3.9-5.8 4.7q-4.5 0.7-8-0.7zM467.2 321.5q3.5-0.2 5.3 1.7q1.8 1.9 1.8 4.4q0 2.6-2.2 4.1q-2.3 1.5-5.7 1.3q-3.5-0.2-4.8-3.1q-1.3-3 0.5-5.7q1.7-2.6 5.1-2.7zM482.1 331.5q-4.6 0.3-7-2.1q-2.4-2.4-1.6-4.9q0.9-2.5 3.4-3.6q2.4-1.2 7.2 0.5q4.9 1.8 4.6 4.5q-0.3 2.7-1.2 4q-0.9 1.3-5.4 1.6zM499 328.6q-4.4-0.9-8-4.1q-3.6-3.2-2.5-4.9q1.1-1.8 7.3-2.4q6.2-0.6 9.6 1.3q3.4 1.9 3.5 4.6q0.1 2.8-2.7 4.6q-2.8 1.8-7.2 0.9zM522 323.4q-0.3 3.1-3.1 4q-2.9 1-6.1-0.5q-3.2-1.6-3.5-3.7q-0.3-2 1.3-4.8q1.7-2.7 5.6-2.5q3.9 0.2 5 2.3q1.2 2.1 0.8 5.2zM-110.9 336.9q-2 1.3-6.6 1.6q-4.6 0.4-8.6-1.6q-4-1.9-3.7-4.5q0.3-2.7 5.7-3.7q5.4-1 8.3-0.2q3 0.8 5 4q1.9 3.1-0.1 4.4zM-106.3 331.4q1.6-0.4 6.1 0.4q4.5 0.8 5.2 3.3q0.8 2.5-0.6 4.3q-1.4 1.8-5.6 1.7q-4.2 0-6.1-0.9q-1.9-0.9-1.3-4.6q0.6-3.7 2.3-4.2zM-88.2 342.6q-4.2-0.4-5.3-2.4q-1-1.9 0.7-4.8q1.6-3 5.5-3.2q3.8-0.2 5.7 1.7q1.9 1.8 1.4 3.9q-0.5 2.1-2.1 3.6q-1.7 1.6-5.9 1.2zM-79.2 343.1q-1.5-1.6 0.6-4.7q2.2-3.2 6.6-3.9q4.5-0.7 6.5 0.4q2.1 1.1 2.3 3.5q0.2 2.3-2 4.1q-2.3 1.8-7.3 2q-5.1 0.1-6.7-1.4zM-61.5 337q0.9-2.8 4-3q3-0.2 7.5 1.9q4.4 2.1 4.8 4.3q0.5 2.3-2.5 3.8q-3 1.5-7.7 0.2q-4.6-1.2-5.8-2.8q-1.2-1.5-0.3-4.4zM-45.9 340.6q0.2-3 3-4q2.9-1.1 5.6-0.7q2.7 0.3 3.4 3.9q0.8 3.5-0.1 4.6q-0.9 1-5 1.1q-4.2 0.1-5.6-0.9q-1.4-1.1-1.3-4zM-18.8 341.8q-1.5 1.5-6.7 1.4q-5.2-0.1-6.5-2.1q-1.2-2-0.5-4q0.7-2 5.5-2.8q4.8-0.8 6.8-0.2q1.9 0.5 2.4 3.4q0.5 2.8-1 4.3zM-6.1 333.6q2.1 1.2 1.6 4q-0.6 2.9-2.1 3.8q-1.5 1-5 0.8q-3.5-0.2-4.7-1.8q-1.2-1.7 0.5-4.4q1.6-2.6 4.6-3.1q3-0.4 5.1 0.7zM38.7 336.9q-3-0.9-3.5-2.5q-0.5-1.7 0.6-4.1q1-2.4 3.2-2.9q2.2-0.5 5 1q2.8 1.5 2.3 4q-0.4 2.4-2.5 3.8q-2.2 1.5-5.1 0.7zM45.7 331.9q-0.5-2.3 1.3-4q1.8-1.7 4.8-1.6q2.9 0.1 4.2 1.7q1.2 1.7 0.7 4.4q-0.5 2.6-2.4 3.7q-1.9 1.2-5-0.4q-3.1-1.6-3.6-3.8zM73 333.1q-1.9 1.7-6.1 1.9q-4.2 0.1-6.8-0.9q-2.6-0.9-2-4.5q0.6-3.6 3-4.1q2.4-0.5 6.6 0q4.2 0.5 5.8 3.2q1.5 2.7-0.5 4.4zM77.8 326.5q1.9-0.1 5 1.5q3.1 1.6 3 4q0 2.4-1.3 3.6q-1.2 1.3-4.5 0.9q-3.3-0.3-4.8-1.6q-1.5-1.2-0.4-4.7q1-3.5 3-3.7zM94.2 335.9q-2.2 1-5.1-0.2q-2.9-1.2-2.9-3.6q-0.1-2.3 0.7-3.7q0.8-1.5 3.6-2.1q2.7-0.6 5.1 0.8q2.4 1.4 1.6 4.7q-0.7 3.2-3 4.1zM99.7 327.2q1.6-1 5.2-0.3q3.7 0.7 5.3 3.6q1.6 2.9-0.2 4.5q-1.7 1.7-3.8 1.9q-2 0.3-5-0.9q-3-1.1-3.1-4.5q-0.1-3.3 1.6-4.3zM120.6 336.2q-5 0.3-7.3-1.4q-2.2-1.7-2.2-3.9q0-2.3 4.1-3.9q4.1-1.7 7.4-1.4q3.3 0.4 5.2 2.4q1.8 2-0.2 4.9q-2 3-7 3.3zM142.2 334.6q-2.6 0.9-7.6 0.3q-5-0.5-5.4-2.9q-0.4-2.4 1.6-4.4q1.9-1.9 6.4-2.1q4.5-0.1 6.2 1q1.8 1.2 1.7 4.2q-0.2 3-2.9 3.9zM149.4 323.7q2.7-1.1 5.2-0.3q2.6 0.7 3.8 3.4q1.3 2.6-0.3 4.7q-1.7 2.2-5.3 1.9q-3.7-0.4-5.3-2.7q-1.6-2.3-1.2-4.1q0.4-1.8 3.1-2.9zM173.2 325.8q0.2 3.1-2.4 4.6q-2.7 1.5-6.2 1.4q-3.4-0.1-5.3-2.3q-1.9-2.1-0.7-4.3q1.2-2.2 5.6-3q4.3-0.8 6.6-0.2q2.3 0.6 2.4 3.8zM176.1 322.5q2.4-2.1 5.1-1.6q2.7 0.5 3.9 2.5q1.1 2.1 0.5 4.5q-0.7 2.4-4.2 3.5q-3.6 1-5-0.2q-1.3-1.2-2-3.9q-0.7-2.7 1.7-4.8zM200.8 325.2q0.6 2.4-2 4.4q-2.7 1.9-5.8 1.5q-3.1-0.4-5.6-1.9q-2.6-1.5-0.6-4.6q2-3.1 6-3.7q4-0.5 5.7 0.7q1.7 1.3 2.3 3.6zM239.9 329.6q2.9-3 7-3.6q4.1-0.6 7.7 0.8q3.5 1.3 3 3.7q-0.6 2.4-3.4 4q-2.9 1.6-8 1.6q-5.2 0-7.1-1.7q-2-1.8 0.8-4.8zM266.2 329.2q4.2 0.5 5.7 2.2q1.4 1.7 0.4 4.6q-1 2.8-5.4 3.4q-4.5 0.5-6.5-0.9q-2.1-1.4-1.6-4.4q0.4-2.9 1.8-4.2q1.5-1.2 5.6-0.7zM274 330.8q1.7-1.3 3.9-0.9q2.2 0.4 2.9 3.3q0.7 2.9-0.6 4.6q-1.3 1.7-3.1 2.3q-1.8 0.5-3.3-0.7q-1.6-1.3-1.6-4.3q0.1-3.1 1.8-4.3zM281.2 337.4q-1.1-2-0.4-4.2q0.6-2.2 3-2.6q2.4-0.3 4.6 0.4q2.3 0.7 2 3.4q-0.4 2.8-1.5 4.6q-1.2 1.8-3.9 1.1q-2.6-0.8-3.8-2.7zM306.7 333.4q4 1.9 2.9 4.4q-1 2.5-3.2 3.7q-2.3 1.2-7.4 0.3q-5.1-1-7.8-3.2q-2.6-2.1-0.6-4.6q2.1-2.5 7.1-2.5q5 0 9 1.9zM309.7 336.2q0.3-3 2.5-4.3q2.2-1.2 6.3 0q4.1 1.2 4.5 3.5q0.4 2.2-1 4.2q-1.3 1.9-5.3 2.3q-4 0.3-5.7-1.2q-1.6-1.5-1.3-4.5zM328.2 331.1q2.9-0.3 4.9 1.5q1.9 1.7 1.4 4.5q-0.5 2.9-2.6 4q-2 1.2-4.8 0.1q-2.8-1-3.1-3.9q-0.4-2.9 0.5-4.4q0.9-1.4 3.7-1.8zM341 330.8q4 1 4.9 2.2q0.9 1.1 0.6 4.1q-0.4 2.9-4.2 3.3q-3.8 0.3-6.1-1q-2.3-1.2-1.9-4.2q0.4-3 1.6-4.3q1.1-1.2 5.1-0.1zM354.6 340q-3.9 0.2-5.7-0.7q-1.8-0.9-1.9-3.5q-0.2-2.7 2.5-4.9q2.6-2.3 5.2-1.8q2.6 0.6 4.3 3.4q1.6 2.9 0.6 5.1q-1.1 2.3-5 2.4zM407.4 340.4q-1.3-1.5-1-4.5q0.2-2.9 1.7-3.8q1.5-1 4.3 0.1q2.7 1.1 2.8 3.6q0.2 2.5-0.7 4.1q-0.9 1.5-3.4 1.8q-2.5 0.3-3.7-1.3zM415.9 333.4q0.7-1.3 3.2-1.2q2.5 0.1 4 1.4q1.5 1.2 1.1 3.9q-0.4 2.7-2.9 3.9q-2.5 1.1-4.3 0.3q-1.9-0.8-1.9-3.9q0-3.2 0.8-4.4zM437.4 335q0.3 2.3-0.2 4.1q-0.4 1.7-4.4 2.9q-4 1.2-6.1 0q-2.1-1.1-2.3-4.4q-0.3-3.3 2.4-4.7q2.6-1.4 6.4-0.8q3.8 0.5 4.2 2.9zM451.4 337.1q1 2.2 0 4.3q-0.9 2.1-4.5 2.5q-3.5 0.4-6.1-1.6q-2.7-2-2.6-4.4q0.1-2.4 2.7-4q2.6-1.5 6-0.3q3.5 1.2 4.5 3.5zM458.1 332.6q3.4-0.5 7.7 0q4.3 0.5 4.7 2.9q0.3 2.4-1.7 4.6q-2 2.2-7.7 2q-5.7-0.3-7.3-2.3q-1.7-2.1-0.4-4.4q1.3-2.4 4.7-2.8zM485 331.8q2 1.6 1.1 4.7q-0.9 3.1-5.2 3.7q-4.2 0.6-7-1.1q-2.9-1.8-2.7-4.8q0.2-3 2.6-4.1q2.4-1.1 5.8-0.6q3.4 0.5 5.4 2.2zM488 330.5q1.9-2.2 6.1-2.2q4.3 0 6.8 1.6q2.6 1.5 2.3 4.6q-0.2 3.1-1.6 3.9q-1.4 0.8-7.2-0.7q-5.9-1.5-7-3.3q-1.2-1.8 0.6-3.9zM514.3 334.3q-1.8 2.5-4.1 2.5q-2.2-0.1-3.8-2q-1.6-1.9-1.9-4.4q-0.3-2.4 2.1-3.7q2.4-1.3 5.2-0.4q2.7 0.9 3.5 3.2q0.8 2.3-1 4.8zM527.1 330.1q-0.2 3.3-1.5 4.3q-1.2 1-5.1 0.3q-3.9-0.7-5-3.8q-1-3-0.1-4.8q0.8-1.8 4.6-1.9q3.9 0 5.6 1.3q1.7 1.3 1.5 4.6zM527.8 326.7q0.4-2.3 3.7-3.3q3.4-1.1 5.3 0.9q1.8 2 2 4q0.2 2-2.7 3.7q-2.9 1.7-5 1.4q-2.1-0.3-2.9-2.3q-0.8-2.1-0.4-4.4zM492.4 345.2q-1.1 2.4-4.4 2.9q-3.3 0.6-4.8-0.8q-1.5-1.4-2.1-3.1q-0.5-1.7 1.9-3.3q2.3-1.6 5.1-1.5q2.8 0.1 4 1.7q1.3 1.7 0.3 4.1zM-136.7 361.2q2.7-1.8 6.8-1.8q4.1 0.1 6.1 2.7q2.1 2.7 0.8 5.1q-1.3 2.5-6.3 3.2q-5 0.8-7.5-0.4q-2.4-1.2-2.4-4.1q-0.1-2.9 2.5-4.7zM-105.2 365.6q-0.4 3.5-4.1 4.6q-3.7 1.1-8.2-0.6q-4.4-1.6-4.5-4.3q0-2.7 1.8-4.6q1.9-1.9 6.8-1.5q4.8 0.4 6.6 1.7q1.9 1.3 1.6 4.7zM-89.8 367.4q-3.3 2.8-7.4 2.2q-4.1-0.5-6.1-2.2q-2-1.8-0.9-4.8q1.1-3.1 3.7-4q2.6-1 7.5-0.6q4.9 0.4 5.8 3.4q0.8 3.1-2.6 6zM-87.1 364.4q-0.3-2.7 1.5-4.5q1.8-1.9 5.1-1.1q3.2 0.7 4 3.2q0.8 2.5-0.2 4.8q-0.9 2.3-3.8 3.2q-3 0.8-4.6-1.1q-1.6-1.9-2-4.5zM-63.6 370.8q-2.4 1.1-6.9 0.1q-4.4-1-4.7-4q-0.4-3.1 0.7-4.7q1.1-1.6 4.9-1.6q3.8-0.1 6.5 1.2q2.7 1.2 2.3 4.5q-0.4 3.3-2.8 4.5zM-60 369.4q-1.3-2.4-0.1-5q1.2-2.5 7.2-3.5q6-0.9 8.4-0.1q2.4 0.8 3 4.3q0.6 3.4-3.6 5.4q-4.3 2-9 1.6q-4.7-0.4-5.9-2.7zM-27.8 370.1q-1.2 2.4-5 3.5q-3.8 1-5.7-0.8q-1.8-1.8-2.6-4.2q-0.8-2.4 2.1-4.4q2.8-2 5.3-2.5q2.6-0.5 4.9 2.7q2.3 3.2 1 5.7zM-18.7 364.9q1.3 2.1 0.6 4.9q-0.8 2.7-2.5 3.6q-1.7 0.9-4-0.3q-2.2-1.2-2.4-4.5q-0.1-3.2 1.2-4.8q1.4-1.6 3.6-1.4q2.2 0.3 3.5 2.5zM-3.2 372.2q-3.6 2.3-8.6 1.6q-5-0.7-5.8-2.7q-0.9-2.1 0.2-4.9q1-2.8 6-3.6q5-0.8 7.8 0.9q2.8 1.6 3.4 4.1q0.5 2.4-3 4.6zM75.6 352.4q0.8 1.6-0.6 5.4q-1.4 3.7-5 4.3q-3.6 0.6-7.5 0q-3.9-0.6-4.7-3.9q-0.8-3.3 3.4-5.4q4.2-2.1 8.9-2.1q4.7 0 5.5 1.7zM93.7 358.1q-1.4 2.7-6.2 3.6q-4.7 0.9-7.4-0.8q-2.7-1.8-3-4.3q-0.3-2.5 3.4-4.7q3.7-2.2 7.2-2.1q3.4 0 5.3 2.8q2 2.8 0.7 5.5zM97.2 360.5q-2.2-2.2-0.5-5.9q1.6-3.6 4.9-3.8q3.3-0.3 6.9 1.1q3.5 1.3 3.3 5.1q-0.3 3.8-2.1 4.7q-1.8 0.9-6 0.9q-4.3 0-6.5-2.1zM113.8 360.9q-1.8-2-1.1-4.3q0.6-2.2 3-3.7q2.3-1.6 5.5-0.7q3.3 1 3.9 4.7q0.6 3.6-0.4 5q-1.1 1.5-5.1 1.3q-4-0.2-5.8-2.3zM125.2 359.9q-0.5-3.1 1-5.1q1.5-2 4.9-2.2q3.4-0.1 4.4 2.6q1 2.7 0.3 5.7q-0.6 3.1-3.7 3.3q-3.1 0.3-4.8-0.4q-1.7-0.8-2.1-3.9zM146.7 354.9q1.6 1.3 2.1 3.7q0.4 2.5-2 4.9q-2.3 2.3-5.1 2.1q-2.8-0.1-4.3-1.7q-1.4-1.5-0.7-5.1q0.6-3.6 4.5-4.4q3.8-0.8 5.5 0.5zM155.7 353.6q3.1-0.1 4.7 1.3q1.5 1.5 0.8 5.3q-0.6 3.9-4.1 4.3q-3.5 0.4-5.2 0q-1.7-0.4-2.8-4.2q-1.2-3.8 1.1-5.2q2.4-1.4 5.5-1.5zM161.6 363.1q-1.1-2.3 2.2-5q3.3-2.7 8.1-3.4q4.9-0.7 7.3 1.4q2.4 2 0.9 4.7q-1.4 2.7-6.8 4.6q-5.3 1.9-8 1q-2.6-1-3.7-3.3zM191.9 362.1q-1 2.9-4.5 3q-3.5 0-5.5-1.3q-1.9-1.4-1.8-4.6q0.1-3.2 3.5-4.8q3.5-1.7 5.3-1q1.9 0.8 3 3.3q1.1 2.5 0 5.4zM203.4 365.3q-2 1.1-5.5-0.2q-3.4-1.3-3.7-4.5q-0.4-3.3 0.6-4.9q0.9-1.6 4.8-1.3q4 0.2 5 1.6q1.1 1.3 1 4.8q-0.1 3.4-2.2 4.5zM208.9 352.8q2.4-1.1 5.5-0.3q3.1 0.9 3.7 3.2q0.5 2.3-0.7 4.5q-1.2 2.2-5.4 2.3q-4.2 0.1-5.5-0.6q-1.3-0.8-0.7-4.4q0.7-3.7 3.1-4.7zM319.9 372.2q-1.5-2.4 0.2-5.2q1.7-2.8 4.2-2.8q2.5 0 6.7 1.4q4.2 1.5 4.1 4.5q-0.1 2.9-3.4 4.7q-3.3 1.7-6.8 0.8q-3.4-0.9-5-3.4zM336.9 363.6q2.2-1.9 3.7-1.3q1.5 0.6 2.7 3.1q1.2 2.5-0.2 5.8q-1.4 3.3-3.5 3.2q-2.1-0.1-3.5-0.9q-1.5-0.8-1.5-4.4q0.1-3.5 2.3-5.5zM343.5 368.2q0.4-3 3.1-4.3q2.7-1.2 5.3 0.5q2.6 1.7 2.6 4.1q0 2.4-0.8 4.4q-0.8 2-4 2q-3.2-0.1-4.9-1.8q-1.7-1.8-1.3-4.9zM356.4 370.9q-1.1-1.7-0.3-4.8q0.9-3.1 5.8-4q5-0.9 7.8 0.3q2.8 1.2 3.4 4.2q0.6 3.1-1.2 4.9q-1.7 1.9-8 1.4q-6.4-0.4-7.5-2zM374.1 365.8q0-2.8 2.4-3.7q2.4-1 4.4-0.6q1.9 0.4 2.4 3.6q0.5 3.3-0.3 5.1q-0.9 1.8-3.5 2.3q-2.6 0.5-4-1.7q-1.3-2.3-1.4-5zM392.2 371.1q-3.8 0.4-6.3-1.2q-2.6-1.7-2.5-5q0.1-3.2 4.8-4.8q4.7-1.5 7.2-0.1q2.6 1.3 3.2 3.8q0.6 2.4-1 4.6q-1.5 2.3-5.4 2.7zM404.5 357.5q3.6-0.7 7.7 1.1q4.2 1.7 5.2 4.5q1.1 2.9-0.2 4.7q-1.3 1.8-7.7 1.4q-6.4-0.4-9.1-2.4q-2.8-2.1-1.2-5.4q1.7-3.2 5.3-3.9zM418 364.1q0.4-2.3 2.3-4.3q1.9-2 4.6-1.6q2.8 0.4 4.6 2.2q1.8 1.8 0.7 5.1q-1 3.3-3.6 3.9q-2.5 0.6-5.7-1.2q-3.2-1.7-2.9-4.1zM436.6 357.1q5.8-1.9 9.4-0.8q3.7 1.1 4.4 4q0.7 2.9-1.8 5.2q-2.6 2.4-7.7 2.7q-5.2 0.3-8.5-2q-3.4-2.2-2.5-4.7q1-2.5 6.7-4.4zM455.6 358.8q4.4-1.6 7.6-0.5q3.2 1.1 3.9 3.3q0.7 2.3-1.3 4.8q-2 2.6-5.5 3.1q-3.5 0.5-6.8-0.7q-3.3-1.3-2.9-4.9q0.5-3.6 5-5.1zM482.9 365.8q-1.1 3.4-4.3 4q-3.2 0.6-6.9-1q-3.7-1.7-3.6-3.7q0.2-2.1 2.5-4.5q2.2-2.5 6.2-1.8q3.9 0.6 5.5 2.1q1.6 1.4 0.6 4.9zM546.4 356.2q-0.2-2.6 2.6-4q2.8-1.4 8.3-1.8q5.5-0.5 8 1.5q2.5 1.9 0.8 4.6q-1.6 2.7-6.9 4.3q-5.2 1.5-8.9-0.2q-3.7-1.7-3.9-4.4zM573.5 359.4q-2.6 0.7-5-0.6q-2.3-1.4-2.3-4.6q0-3.2 1.7-5q1.6-1.7 4.8-1.3q3.2 0.3 4.1 4.1q0.9 3.8 0.1 5.2q-0.8 1.4-3.4 2.2zM592.2 357.9q-2 3.2-5.7 2.9q-3.8-0.3-6.8-2q-3.1-1.7-2.8-4.1q0.3-2.4 3.9-4.2q3.6-1.8 6.7-1q3.2 0.8 4.9 3q1.7 2.2-0.2 5.4zM605.2 357q-0.2 1.7-3.4 2.9q-3.3 1.3-4.9 0.2q-1.7-1-2.2-4.1q-0.6-3.1 1.2-5q1.8-1.9 4.8-2.1q3-0.3 3.9 3.1q0.9 3.3 0.6 5zM-144.2 371.6q2-2.5 6.6-2.4q4.5 0.1 6.8 1.7q2.3 1.6 2.2 4.3q0 2.8-3.8 3.9q-3.9 1.2-7.7 0.2q-3.8-1-5-3.1q-1.1-2 0.9-4.6zM-127.3 377.9q-1.5-1.9-1.4-4.3q0.1-2.3 2.5-3q2.4-0.8 4.2-0.4q1.7 0.5 2.5 3.2q0.7 2.8-0.7 4.9q-1.5 2.1-3.6 1.7q-2-0.3-3.5-2.1zM-118.6 372.7q1.6-2.7 6.2-4q4.6-1.3 7.6-0.8q2.9 0.4 4 3.6q1.2 3.1-2 5.1q-3.3 2-7.9 2.2q-4.5 0.1-7-1.7q-2.5-1.7-0.9-4.4zM-98.9 374.8q-0.2-2.9 3.1-4.2q3.3-1.3 7.3-1.2q4 0.1 5.5 2.5q1.6 2.4-0.9 5q-2.5 2.5-6.6 2.9q-4 0.3-6.2-0.9q-2.1-1.3-2.2-4.1zM-73.3 379.1q-4.9 0.5-7-0.5q-2.1-0.9-1-4.1q1-3.1 4.9-4.4q3.9-1.3 6.1-0.7q2.2 0.5 3 3.1q0.8 2.6-0.2 4.4q-1 1.8-5.8 2.2zM-56.9 371.4q1.2 1.7 0.7 4.6q-0.4 2.8-2.9 3.8q-2.5 1-5.3-0.7q-2.8-1.6-2.5-4.3q0.3-2.8 1.7-4.2q1.3-1.4 4.2-1.2q2.9 0.3 4.1 2zM-40.7 382.7q-2.5 0.6-8.4-0.9q-5.9-1.5-5.7-4.4q0.3-2.9 2.2-4.3q1.9-1.3 7.8-0.4q5.9 0.9 8 2.2q2.1 1.3 0.3 4.2q-1.7 3-4.2 3.6zM-30.3 383.6q-2.6 0.6-4.5-1.1q-1.8-1.6-1.7-4q0.2-2.3 1.8-3.7q1.6-1.5 4.1-1.1q2.5 0.4 3.5 2.3q1.1 1.8 0.2 4.4q-0.8 2.6-3.4 3.2zM-16.6 376.8q1 3.1-0.2 4.6q-1.1 1.4-3.6 2.2q-2.4 0.7-4.6-0.5q-2.1-1.2-2-5q0.1-3.7 2.5-4.5q2.3-0.8 4.6-0.4q2.2 0.4 3.3 3.6zM-6 373.6q3 1.5 3.3 3.4q0.3 1.8-1.5 3.9q-1.8 2-5.2 1.7q-3.4-0.2-5.4-2.4q-1.9-2.2-0.2-4.8q1.7-2.5 3.9-2.9q2.2-0.3 5.1 1.1zM-0.6 379.4q-2-1.5-1.3-4.8q0.8-3.2 4.7-3.5q3.9-0.3 7.9 1.2q4 1.5 4.3 3.9q0.3 2.5-1.8 3.8q-2 1.4-6.9 1.2q-4.8-0.2-6.9-1.8zM16.1 372.3q1.7-2.5 6.9-3.3q5.1-0.9 8.1-0.1q2.9 0.8 2.4 4.3q-0.4 3.6-4.9 4.8q-4.6 1.1-8.5 0.6q-4-0.6-4.9-2.2q-0.9-1.6 0.9-4.1zM38.3 366.5q2.7-0.3 4.1 0.3q1.4 0.6 1.2 4q-0.1 3.3-1.9 4.7q-1.8 1.4-4.2 0.5q-2.4-0.9-3-2.6q-0.5-1.8 0.3-4.2q0.8-2.4 3.5-2.7zM51.8 373.8q-5.4-0.1-6.8-1.3q-1.5-1.1-1.8-4q-0.3-2.8 3.3-4q3.7-1.1 8-0.1q4.4 0.9 5 3.2q0.7 2.4-0.7 4.3q-1.5 1.9-7 1.9zM64.5 372.5q-3-0.5-3.9-2.9q-0.8-2.5 0.7-4.5q1.5-2.1 4.3-2.7q2.8-0.6 4.4 1.7q1.5 2.2 1.5 4.3q0.1 2.1-1.9 3.4q-2 1.2-5.1 0.7zM73 368.9q-1.4-1.6-0.5-4.7q1-3.1 4-3.3q3-0.2 6 0.6q2.9 0.8 2.9 3.9q0 3.1-2.3 4.4q-2.3 1.3-5.5 1q-3.2-0.4-4.6-1.9zM91.9 362.1q3.9 0.1 5.2 1.4q1.3 1.4 0.5 4.4q-0.8 2.9-3.9 3.7q-3.2 0.7-5.2 0q-2.1-0.7-2.3-4q-0.3-3.2 0.8-4.4q1-1.2 4.9-1.1zM106 370q-0.9 1.2-3.8 1.6q-2.8 0.5-3.5-0.4q-0.7-0.9-1.2-3.7q-0.4-2.9 1-4.7q1.5-1.8 4.7-0.7q3.1 1 3.5 3.9q0.3 2.8-0.7 4zM118 371.8q-1.3 1.6-5.3 0.8q-4.1-0.7-5.7-3q-1.6-2.3-0.3-4.7q1.2-2.4 3.9-2.4q2.7 0 6.1 1.1q3.3 1.2 3 3.9q-0.4 2.7-1.7 4.3zM124.8 361.6q2.8 0.1 3.7 1.3q0.9 1.2 0.4 4.5q-0.5 3.3-2.9 4.3q-2.5 1-4-0.6q-1.6-1.5-2.2-4q-0.5-2.5 0.9-4q1.4-1.6 4.1-1.5zM137.2 363.3q4.5-0.2 8.4 1.5q4 1.7 3 5.2q-1.1 3.5-5 3.9q-3.9 0.3-9-0.8q-5.2-1-5.9-2.7q-0.8-1.8 1.6-4.3q2.4-2.6 6.9-2.8zM151.7 372.3q-3.2-2.3-3-5.1q0.1-2.7 2.3-3.6q2.2-0.8 7.3 0.4q5.1 1.1 6.8 3q1.6 1.8-0.3 4.6q-2 2.9-6 3q-4 0-7.1-2.3zM167.3 366.3q2.4-1 6-0.9q3.7 0.1 6.1 1.9q2.5 1.8 1.4 4.2q-1.2 2.4-5.2 3.3q-4.1 0.8-6.7 0.2q-2.6-0.6-3.3-4.1q-0.7-3.6 1.7-4.6zM194.4 372.2q-1.5 1.7-5.8 1.6q-4.3-0.2-6.4-1.7q-2.1-1.6-1.3-4.2q0.8-2.5 3.2-3.7q2.5-1.2 5.5-0.8q3.1 0.5 4.7 3.8q1.6 3.3 0.1 5zM201.8 372.9q-1.3 1-3.9 0.3q-2.6-0.6-3.3-3.8q-0.7-3.3 0.1-4.3q0.7-1 3.3-1.7q2.6-0.8 4.1 1.2q1.5 2.1 1.2 4.6q-0.3 2.6-1.5 3.7zM204.7 372.7q-1.5-1.5-1.1-4.3q0.5-2.8 3.6-3.9q3.1-1.2 5.1 0.3q2 1.4 2.5 3.9q0.4 2.5-1.6 3.9q-1.9 1.4-4.4 1.5q-2.6 0.1-4.1-1.4zM216.6 363.2q2.9-1 8.3-0.2q5.4 0.8 6.7 3.1q1.3 2.3-0.2 4.3q-1.5 2.1-6.2 2q-4.7 0-7.1-0.9q-2.5-0.9-3.5-4q-0.9-3.2 2-4.3zM241.9 366.5q1.1 2.3 0.9 4.5q-0.2 2.2-3.3 2.8q-3.1 0.5-5.1-0.6q-2-1.1-2.2-3.4q-0.3-2.4 1.2-4.3q1.5-1.9 4.5-1.6q3 0.3 4 2.6zM262.5 369.1q-1.3 2.4-5 3.4q-3.7 1-8.9 1.1q-5.3 0-5.4-2.1q-0.1-2.1 1.6-4.4q1.6-2.3 7.2-3.3q5.6-1 8.8 0.9q3.1 1.9 1.7 4.4zM273.9 367.8q1.2 1.3 1.3 4.2q0.2 2.8-1.9 3.8q-2.1 0.9-5.3 0.1q-3.1-0.8-4.2-2.6q-1.1-1.8 0.4-4.8q1.5-3 5-2.6q3.5 0.5 4.7 1.9zM282.8 370.1q5.1-0.7 7.7 0.5q2.6 1.2 2.1 3.3q-0.6 2-5.2 4.3q-4.6 2.3-8.3 1.7q-3.7-0.7-4.1-3.1q-0.4-2.5 1.1-4.2q1.5-1.7 6.7-2.5zM296.7 380.8q-2.7-0.5-3.8-3.6q-1.1-3 0.3-4.6q1.4-1.6 4.8-2q3.3-0.3 5.5 1.6q2.1 1.9 1.6 4.2q-0.6 2.3-3.2 3.6q-2.5 1.3-5.2 0.8zM309.5 381.5q-3.2 0.1-4-1.8q-0.9-1.9-0.5-4.1q0.4-2.2 3.8-3.6q3.4-1.4 4.8-0.3q1.4 1.1 1.8 4.4q0.3 3.3-1.2 4.3q-1.5 0.9-4.7 1.1zM330.1 374.6q2.7 2 2.8 4q0.1 2-3 3.6q-3.2 1.6-7.8 0.7q-4.6-1-5.7-4q-1-3 0.4-4.4q1.4-1.4 6-1.7q4.6-0.3 7.3 1.8zM351.1 382.8q-2.5 1.3-8.3 1.2q-5.8-0.2-8.4-3.4q-2.7-3.2-0.8-4.9q1.9-1.7 7-1.8q5.2 0 9.3 1.4q4 1.4 3.9 3.7q-0.2 2.4-2.7 3.8zM361.5 379.6q-0.7 2.3-4.1 2.3q-3.4 0-4.6-1.9q-1.2-1.9-0.2-4q1.1-2.2 2.8-2.9q1.6-0.6 3.9 0.6q2.3 1.2 2.6 2.4q0.3 1.3-0.4 3.5zM374 372.6q2.2 1.9 1.6 4.6q-0.5 2.7-3 3.8q-2.6 1.2-6.4 0.6q-3.7-0.5-4-3.5q-0.3-3 0.6-4.5q0.8-1.4 4.9-2.2q4.1-0.7 6.3 1.2zM376.3 377.7q-0.6-1.2 0.1-4.3q0.7-3 2.5-3.5q1.8-0.4 4.3 1.2q2.5 1.5 2 4.5q-0.5 2.9-2.3 3.6q-1.9 0.7-4 0.2q-2-0.5-2.6-1.7zM392.4 379.3q-3.5 0.7-4.9 0q-1.3-0.7-1.6-3.8q-0.4-3.1 1.2-4.5q1.6-1.3 5.1-0.9q3.6 0.4 4.5 2.6q0.9 2.2 0.1 4.1q-0.9 1.8-4.4 2.5zM398.2 369.6q1.9-1.7 6.5-1.1q4.6 0.6 6.8 1.8q2.1 1.2 2.1 4.3q0.1 3.1-3.2 4.2q-3.2 1-6.6-0.1q-3.4-1.1-5.4-4.2q-2.1-3.1-0.2-4.9zM425.3 376.6q-2 1.3-5.4 0.6q-3.5-0.6-4.1-3.1q-0.7-2.6-0.2-4.2q0.5-1.5 3.3-2.4q2.7-0.9 5.8 0.3q3.1 1.2 2.9 4.4q-0.3 3.2-2.3 4.4zM431.6 377.5q-2.2-0.6-3.1-3.5q-0.9-2.8 0.3-4.5q1.1-1.6 5.4-1.9q4.3-0.3 7 1.3q2.8 1.6 2.6 3.5q-0.3 1.8-5.1 3.7q-4.8 2-7.1 1.4zM444.2 376.1q-0.7-1.5-0.3-4.2q0.4-2.8 3.7-3.1q3.2-0.3 6.7 0.9q3.5 1.2 3.9 4.5q0.5 3.3-1.4 4.4q-1.9 1.2-6.9 0.2q-4.9-1.1-5.7-2.7zM462.5 378.7q-2.1-0.6-3-3.8q-0.8-3.3 0.6-5q1.5-1.8 4.7-1.5q3.2 0.3 4.1 1.8q1 1.6 1.1 4.1q0.2 2.5-2.6 3.8q-2.7 1.2-4.9 0.6zM488.7 374.1q-0.7 2.1-4.8 4.1q-4 2-7.9 1.6q-3.9-0.4-5.4-3.6q-1.4-3.1 0.3-4.3q1.6-1.2 8-2.4q6.4-1.1 8.5 0.7q2 1.9 1.3 3.9zM496.6 378.8q-3.5-0.2-6-2.1q-2.5-1.9-1.5-4.2q0.9-2.4 4-3.6q3.1-1.2 5.9-0.1q2.9 1 3.7 3.3q0.8 2.3-0.9 4.6q-1.8 2.3-5.2 2.1zM504 368.9q1.8-2.9 5.6-2.8q3.8 0.1 6.6 0.9q2.9 0.8 2.8 4.1q-0.1 3.3-2.7 4.5q-2.6 1.3-7.1 0.3q-4.6-1-5.8-2.5q-1.2-1.5 0.6-4.5zM533 364.2q3.6 1.2 4.4 3.4q0.8 2.3-1.6 4.7q-2.5 2.4-6.1 1.9q-3.6-0.5-6.2-2.3q-2.7-1.7-2-4.7q0.7-3 4.3-3.6q3.5-0.5 7.2 0.6zM550.6 366.8q-0.3 2.7-1.9 3.8q-1.6 1.2-5.6 0.5q-4-0.7-5.2-2.3q-1.2-1.7 1-4.9q2.2-3.2 4.6-2.8q2.4 0.4 5 1.7q2.5 1.3 2.1 4zM551.1 368.2q-1.8-1.4-0.4-3.8q1.4-2.5 6.6-3.1q5.2-0.6 8.2 1.1q2.9 1.7 3.1 3.7q0.3 2-3.6 3.5q-4 1.5-8 0.8q-4-0.7-5.9-2.2zM581.8 359.6q2.9 0.7 3.6 3.6q0.6 3-2.9 5q-3.5 2-7.5 1.7q-4.1-0.2-5.2-1.9q-1.1-1.7-0.6-4.2q0.4-2.5 5-3.7q4.7-1.1 7.6-0.5zM587 367.9q-2.3-2-1.1-4.5q1.1-2.5 4.2-3.4q3.1-0.9 5 0.1q1.9 0.9 2.8 3.5q0.9 2.5-0.3 4.2q-1.2 1.7-4.8 2q-3.5 0.2-5.8-1.9zM598.7 368.8q-1.3-1.9-0.5-4.8q0.8-2.8 2.8-3.3q2-0.5 4.2 0.9q2.3 1.4 2.3 4.2q-0.1 2.7-1.9 4.1q-1.8 1.4-3.7 1.1q-1.9-0.4-3.2-2.2zM617.2 370.8q-3.9 1.5-6.7 0.7q-2.9-0.9-3.1-3.4q-0.3-2.6 2.3-4.6q2.5-2 5.6-2.4q3.1-0.3 5.7 1.5q2.6 1.9 1.4 4.3q-1.2 2.3-5.2 3.9zM633.4 365.6q1.3 2.4 0.6 4.8q-0.7 2.3-4.9 2.5q-4.2 0.2-5.6-0.4q-1.5-0.6-1.4-3.6q0.2-2.9 2.4-4.5q2.1-1.7 4.9-1.4q2.7 0.3 4 2.6zM-142 381.6q1 1.7 0.6 4.5q-0.4 2.7-3.6 3.7q-3.2 1-4.6 0.3q-1.4-0.7-2.3-4.4q-1-3.7 0.6-5.6q1.6-1.8 5-1q3.3 0.9 4.3 2.5zM-134.4 389.9q-4.4-0.4-6.1-2.7q-1.7-2.3-0.3-5.3q1.3-3.1 6.5-3.4q5.2-0.3 7.4 1.7q2.2 2 2.3 4.8q0.2 2.8-2.6 4.1q-2.7 1.2-7.2 0.8zM-124.7 387.1q-0.5-1.6 0.5-4.5q1.1-3 3.6-3.7q2.5-0.7 4.2 1.1q1.6 1.8 1 5.4q-0.7 3.5-2.2 4.3q-1.5 0.8-4-0.1q-2.5-0.9-3.1-2.5zM-113.2 379.9q2.1-2.5 7.3-2.5q5.1 0 6.9 1.5q1.8 1.4 1 4.7q-0.7 3.2-4.2 4.7q-3.5 1.5-8.5-0.3q-4.9-1.8-4.7-3.8q0.2-1.9 2.2-4.3zM-96.3 380.5q2.3-3.1 5.4-3.4q3.1-0.2 7.7 2.5q4.5 2.7 4.5 5.2q0.1 2.5-3.1 3.9q-3.1 1.4-8.4 0q-5.3-1.4-6.9-3.2q-1.6-1.9 0.8-5zM-69.8 387.6q-0.7 1.9-3.5 2.3q-2.9 0.5-4.3-0.6q-1.4-1.1-1-4.7q0.4-3.5 2-5.1q1.6-1.7 3.6-0.6q1.9 1 2.8 3.9q1 2.9 0.4 4.8zM-59 379.6q2.1 0.7 2.5 4.5q0.4 3.7-0.8 5.5q-1.2 1.8-6 1.9q-4.8 0.1-5.7-1.3q-1-1.3-0.8-5q0.3-3.7 4.5-5q4.1-1.3 6.3-0.6zM-46.8 381.4q3.6 1.1 4.4 4.4q0.8 3.3-1.2 4.8q-2 1.6-4.4 1.6q-2.4 0-5.8-2.2q-3.5-2.1-3-5.1q0.6-3 3.6-3.8q2.9-0.7 6.4 0.3zM-33.7 391.2q-1.7 1.2-5.1 0.6q-3.4-0.7-3.9-3.7q-0.4-3.1 1.2-5.4q1.6-2.3 4.1-2.5q2.5-0.1 4.4 1.4q1.9 1.5 1.4 5q-0.4 3.5-2.1 4.6zM-16.6 389.1q-1.3 3-4.4 3.2q-3.1 0.2-6.6-0.8q-3.6-1-3.5-4.9q0.1-3.9 1.8-5.3q1.7-1.4 5.2-1.3q3.5 0.2 6.1 3.1q2.7 2.9 1.4 6zM-4.8 388.8q-0.6 2-4.6 2.3q-4 0.3-5.4-0.8q-1.4-1.1-1.6-4.2q-0.3-3 2.5-5q2.8-2 5.7-0.8q3 1.2 3.5 3.8q0.6 2.6-0.1 4.7zM60 378.8q-0.8-2.3 1.1-4.8q1.9-2.5 3.9-2.4q2 0.2 3.2 2.8q1.1 2.5 1 5q-0.2 2.6-3 3.9q-2.7 1.3-4-0.4q-1.3-1.8-2.2-4.1zM78.3 370.3q1.6 0.8 2.6 4.4q1 3.6-0.7 5.2q-1.8 1.6-5.5 1.9q-3.7 0.3-4.7-1.8q-1.1-2.1-0.7-4.8q0.5-2.7 3.9-4.2q3.5-1.5 5.1-0.7zM97 378.9q-2 3.1-6 3.2q-4.1 0.2-6.5-1.3q-2.4-1.6-3.2-4.7q-0.8-3 1.9-4.3q2.7-1.3 7.3-1q4.6 0.3 6.6 2.6q2 2.3-0.1 5.5zM106.7 382.6q-5.9-0.7-7.5-3.5q-1.7-2.7-0.1-4.6q1.6-1.8 8-2.4q6.4-0.6 8.8 0.7q2.4 1.3 2.9 4.5q0.6 3.2-2.8 4.6q-3.4 1.4-9.3 0.7zM125.7 371.9q5-0.1 6.1 1.8q1.2 1.9 0.4 5.2q-0.8 3.3-4.1 4.1q-3.3 0.8-5.7-0.2q-2.4-1-3.4-3.5q-0.9-2.5 0.4-4.9q1.3-2.4 6.3-2.5zM143.2 384.4q-2 1.7-4.9 1.2q-2.8-0.6-3.9-4.4q-1-3.8 0-5.7q1-1.9 3.7-2.1q2.7-0.2 5.5 1.5q2.8 1.7 2.2 4.7q-0.6 3.1-2.6 4.8zM157.2 373.3q3.3 1.4 3.2 5q-0.1 3.6-2.5 4.7q-2.4 1.2-5.5 1.6q-3 0.5-4.6-2.1q-1.7-2.6-1-5.4q0.6-2.8 3.9-4q3.3-1.2 6.5 0.2zM173.1 376q2.3 2.2 1.8 4.4q-0.4 2.1-2.5 3.8q-2 1.8-6.5 1.1q-4.6-0.7-5.5-3.2q-0.8-2.5 1.1-5.3q1.9-2.9 5.6-2.9q3.6 0 6 2.1zM174.3 380q-0.5-2.8 1.2-4.8q1.7-1.9 4.1-2q2.5 0 3.5 2.5q0.9 2.5-0.3 6.1q-1.2 3.5-3.6 3.4q-2.3 0-3.3-1.2q-1.1-1.1-1.6-4zM183.8 380.2q-1.3-2.8 1.3-5.4q2.6-2.7 6.1-2.4q3.6 0.3 6.2 2.5q2.5 2.3 1.7 5.5q-0.8 3.1-4.5 4.2q-3.8 1.2-6.7-0.1q-2.8-1.4-4.1-4.3zM200.6 381.9q-2.3-2.6-1.3-5q1-2.5 5.7-3.8q4.7-1.3 7.2-0.2q2.6 1 4.2 3.3q1.5 2.4-1 5q-2.5 2.6-7.5 2.9q-5.1 0.3-7.3-2.2zM342 384.4q1.8 1.9 1 5q-0.9 3.1-4.7 4.2q-3.8 1.2-7.2 0.6q-3.4-0.6-3.2-3.6q0.1-3 2.5-5.4q2.5-2.3 6.1-2.5q3.6-0.2 5.5 1.7zM345.1 390.9q-2-2.2-0.7-5.2q1.3-3 3.9-3.5q2.6-0.4 7.1 1.4q4.4 1.9 4.3 5q-0.1 3.1-2.1 4.5q-2.1 1.5-6.3 0.8q-4.2-0.7-6.2-3zM372.8 380.8q5.1 0.8 6.9 2.3q1.8 1.4 0.2 4.8q-1.5 3.4-5 4.2q-3.4 0.9-8.1 0q-4.7-1-5-5.2q-0.4-4.2 2.7-5.6q3.1-1.4 8.3-0.5zM382.6 380.7q2.4-1.7 5.5-0.9q3.2 0.7 4 3.3q0.9 2.6-0.7 4.9q-1.6 2.4-4.7 2.9q-3.1 0.5-5.3-1.9q-2.3-2.3-1.8-4.5q0.6-2.1 3-3.8zM391.9 382q0.8-2.9 4.1-3.8q3.4-0.9 5.9 0.3q2.5 1.2 2.8 4.1q0.3 2.9-0.9 4.8q-1.3 2-5.4 1.2q-4.2-0.8-5.8-2.3q-1.6-1.5-0.7-4.3zM417.9 378.2q3.1 1.3 3.2 4.4q0.1 3.1-2.7 4.9q-2.7 1.9-6.9 1.4q-4.2-0.6-5.6-2.9q-1.4-2.4-0.4-4.9q1-2.4 5.1-3.3q4.1-0.9 7.3 0.4zM420.2 380.8q0.5-2.4 4.2-3.6q3.8-1.1 5.6-0.5q1.8 0.6 2.2 4.5q0.5 3.9-0.8 5.6q-1.3 1.6-4.8 1.6q-3.6 0-5.2-2.6q-1.7-2.6-1.2-5zM452.4 383q0.1 3.2-5.5 3.9q-5.6 0.6-8.2-0.3q-2.6-0.9-3.6-4.9q-0.9-4 0.5-5.2q1.4-1.1 6.3-0.5q5 0.7 7.7 2.3q2.8 1.6 2.8 4.7zM469.2 376.8q2.7 0.5 3.3 4.2q0.6 3.6-2.2 6.1q-2.8 2.6-8.2 2.6q-5.4 0-7.2-2.7q-1.8-2.6-0.7-4.6q1.1-1.9 6.7-4q5.6-2.2 8.3-1.6zM534.9 381.7q-2.3-1.6-2.3-5.1q0-3.5 3.1-5.1q3-1.6 6.1-0.4q3 1.3 4 4.4q0.9 3.2-0.3 4.9q-1.3 1.8-4.8 2.4q-3.6 0.5-5.8-1.1zM547.1 378.9q-0.8-2.5 0.9-5.7q1.8-3.1 4.9-2.4q3.1 0.7 4.4 2.3q1.3 1.6 1.1 4.4q-0.2 2.9-2.7 4.6q-2.5 1.7-5.1 0.5q-2.6-1.3-3.5-3.7zM559.8 379.1q-1.4-1.5-0.6-4.5q0.8-2.9 2.2-4.7q1.3-1.8 5.4-0.1q4.1 1.6 4.8 3.1q0.8 1.6-0.6 4.2q-1.4 2.7-5.5 3q-4.2 0.4-5.7-1zM572.2 374.3q0-2.9 1.7-4.5q1.7-1.6 5.1-0.9q3.5 0.7 4.8 4.2q1.2 3.5-0.3 5.3q-1.4 1.7-4.1 1.8q-2.8 0.1-4.9-1.4q-2.2-1.6-2.3-4.5zM583.6 377.1q-0.5-2.5 0.6-4.8q1.1-2.3 3.6-3.2q2.5-0.9 4.2 0.8q1.6 1.7 1.7 4.3q0 2.7-2.3 4.8q-2.3 2.2-4.8 1.4q-2.5-0.7-3-3.3zM596 370.6q2.7-1.3 4.8-0.9q2.1 0.4 2.9 2.5q0.8 2.1-0.2 5.2q-1.1 3-4.5 3q-3.3-0.1-4.3-1.2q-1.1-1.1-1.2-4.2q-0.2-3.1 2.5-4.4zM623.3 380.1q-0.4 2-6.6 2.2q-6.2 0.2-8.6-1.3q-2.4-1.5-3.1-4.6q-0.7-3 1.9-4.5q2.6-1.5 9.5-0.1q6.8 1.3 7.1 3.8q0.2 2.4-0.2 4.5zM628.4 371.8q3.6-0.6 6.1 1q2.5 1.5 3.3 4.2q0.8 2.7-1.6 4.5q-2.5 1.9-5.8 2q-3.4 0.2-5.3-2q-1.8-2.1-1.1-5.6q0.7-3.6 4.4-4.1zM650 382q-0.3 2.8-4 3.7q-3.7 0.9-6.1-0.2q-2.4-1.2-2.8-4.6q-0.4-3.5 1.2-4.7q1.6-1.1 5.4-0.8q3.8 0.2 5.3 2q1.4 1.8 1 4.6zM650.5 386.4q1.4 2 1 3.5q-0.4 1.5-2.1 2.6q-1.8 1.2-4.4 0.6q-2.6-0.5-3.2-2.1q-0.6-1.6 0.8-3.9q1.4-2.3 4-2.5q2.6-0.3 3.9 1.8zM-125.6 417.5q-2.2-2.4-1.7-5.1q0.4-2.8 3.5-3.6q3.2-0.9 6-0.4q2.9 0.5 4.6 3.2q1.7 2.8-0.7 4.9q-2.4 2.1-5.9 2.7q-3.6 0.7-5.8-1.7zM-99.2 405.8q2 1 2.9 3.7q0.8 2.7-2.2 4.6q-3.1 1.9-8.3 1.8q-5.2 0-6-2q-0.8-2 0.6-4.6q1.5-2.6 6.3-3.6q4.8-1 6.7 0.1zM-76.8 408.5q0 1.8-4.1 3.2q-4.2 1.4-8.6 1.1q-4.5-0.3-5.7-3.2q-1.3-3 0.2-4.2q1.5-1.2 7.3-1.9q5.9-0.7 8.4 1.2q2.4 1.9 2.5 3.8zM-74 404.9q2.6-1.4 5.4-1.6q2.9-0.2 4.6 2.3q1.8 2.5 1.1 4.1q-0.7 1.6-3.6 2.8q-3 1.1-5.7 0.6q-2.6-0.5-3.5-3.6q-0.8-3.2 1.7-4.6zM9.9 406.5q1.4 1.1 1.3 4.1q-0.2 3.1-1.7 3.9q-1.5 0.8-5 0.4q-3.5-0.5-4-3.1q-0.6-2.6 0.7-5q1.4-2.4 4.3-1.9q2.9 0.4 4.4 1.6zM20 406.9q0.2 2.1-0.6 4.2q-0.9 2.1-4 2.3q-3 0.3-4.3-1.8q-1.3-2-0.2-4.1q1-2.1 2.3-3q1.3-0.9 3.9-0.4q2.7 0.6 2.9 2.8zM43.2 405.1q1.1 3.2 0.4 4.7q-0.7 1.5-3.5 2.1q-2.7 0.5-5.1-0.5q-2.5-1.1-1.9-4.6q0.6-3.5 1.8-4.4q1.2-0.9 4.2-0.6q3 0.2 4.1 3.3zM48 401.2q3.8-1.2 5.8-0.1q2.1 1.2 1.7 4.8q-0.4 3.5-2.3 4.6q-2 1.2-5.1 0.5q-3.1-0.7-4.1-3.1q-1-2.4-0.4-3.9q0.7-1.5 4.4-2.8zM56 406.8q0.1-3.4 1.9-4.4q1.7-1.1 5.3-1.2q3.6 0 5.1 2.2q1.5 2.1 1.5 4q0.1 2-4 3.4q-4.2 1.4-7 0.3q-2.9-1-2.8-4.3zM80.1 401q2.7 1.7 1.9 4.4q-0.7 2.6-2.1 3.9q-1.3 1.3-4.8 0.7q-3.5-0.7-5-3q-1.5-2.3-0.7-3.9q0.9-1.6 4.4-2.7q3.6-1.1 6.3 0.6zM83.8 402.5q2.1-1.2 4.3-0.4q2.2 0.9 2.3 3.6q0.1 2.7-1.3 4.7q-1.4 1.9-3.3 1.5q-1.8-0.5-3.6-2.3q-1.9-1.7-1.2-3.8q0.8-2.2 2.8-3.3zM107.1 406.5q-0.2 2.6-2.3 3.9q-2.1 1.2-7.1 1.6q-5 0.4-6.2-2.1q-1.3-2.6 0.5-4.8q1.7-2.3 5.6-3q3.8-0.6 6.7 0.6q3 1.2 2.8 3.8zM107.8 410.8q0-1.3 1.2-4q1.3-2.8 5.2-2.2q4 0.7 5.8 2.5q1.8 1.8 1.3 4.5q-0.4 2.8-3.4 3.4q-3 0.6-6.5-1.1q-3.5-1.8-3.6-3.1zM133.8 409.6q0.2 1.9-1.6 4q-1.9 2.1-5.6 1.5q-3.8-0.6-4.4-1.9q-0.6-1.2-0.7-3.8q-0.1-2.7 3.8-3.4q3.9-0.6 6 0.5q2.2 1.2 2.5 3.1zM150.9 409.9q3.7 1.6 3 4.5q-0.6 3-5.2 4.3q-4.7 1.3-8.9 1q-4.1-0.3-4.5-2.3q-0.4-2 1.5-4.5q1.8-2.5 6.1-3.6q4.4-1.1 8 0.6zM155.1 417.1q-0.4-2.2 1.5-4.7q1.9-2.4 4.6-2.2q2.7 0.3 4.5 2.5q1.7 2.2 1.1 4.4q-0.7 2.3-3.7 3q-2.9 0.8-5.3 0q-2.3-0.7-2.7-3zM170.9 421.3q-2-0.6-3-2.6q-1-2 0.7-4.6q1.6-2.6 5.3-2.7q3.8 0 6.7 2.2q2.8 2.2 1.4 5q-1.4 2.9-5.2 3.1q-3.8 0.2-5.9-0.4zM191.1 412.6q2.9 0.8 4.2 3.5q1.3 2.8-0.7 4.7q-2 1.8-6.1 1.7q-4.1-0.2-5.6-1.7q-1.4-1.6-0.8-4.3q0.6-2.6 3.3-3.6q2.7-1 5.7-0.3zM210.9 413.5q1 1.4 0.3 4.2q-0.6 2.8-5.1 3.5q-4.5 0.8-7-0.3q-2.5-1.2-2.9-4.5q-0.4-3.4 1.5-4.1q1.8-0.7 7-0.4q5.2 0.3 6.2 1.6zM275 414.2q-0.2-3.1 1.5-4.3q1.7-1.3 4.1-0.8q2.5 0.5 3.2 1.6q0.6 1.1 0.1 4.1q-0.5 3-2.9 3.8q-2.4 0.7-4.1-0.2q-1.8-1-1.9-4.2zM299.5 417.3q-1.3 2.5-6 2.4q-4.6-0.1-6.9-1.1q-2.2-1.1-2.6-3.5q-0.3-2.5 2.2-4.3q2.6-1.8 6.6-1.2q4 0.7 6.1 3q2 2.2 0.6 4.7zM306.2 420.8q-3.6-0.1-4.6-2.6q-1-2.4 0.3-4.7q1.2-2.3 5.2-3q4.1-0.6 5.8 0.4q1.7 1 2.2 3.7q0.6 2.7-2.3 4.5q-3 1.8-6.6 1.7zM326.1 417.1q0 3.4-2.5 4.3q-2.5 1-4.2 0.5q-1.7-0.4-3.2-4q-1.5-3.6-0.1-4.8q1.4-1.2 4-1.6q2.7-0.3 4.4 0.9q1.6 1.3 1.6 4.7zM346.2 417.4q0.2 2.6-3 3.4q-3.1 0.8-7.6 0.1q-4.4-0.7-7.7-3.4q-3.2-2.6-1.5-4.9q1.6-2.3 6.2-2q4.5 0.2 9 2.2q4.4 1.9 4.6 4.6zM349.9 409.6q2.4-0.7 7.2-1.5q4.9-0.7 6.8 2.3q2 2.9 0 5.2q-2.1 2.2-6.4 2.9q-4.3 0.6-7.5 0q-3.2-0.7-2.9-4.4q0.3-3.8 2.8-4.5zM378.2 407.8q1.8 0.9 1.6 4.1q-0.3 3.3-2.5 4.2q-2.2 1-6.2-0.3q-4-1.3-4.6-3.9q-0.7-2.5 0.5-4.3q1.1-1.8 5.3-1.2q4.2 0.5 5.9 1.4zM382.9 405.4q1.8-1.3 5.2-0.8q3.4 0.4 4.5 3.1q1.1 2.7-0.1 4.3q-1.1 1.7-3.6 2.1q-2.6 0.5-5-0.4q-2.5-0.9-2.7-4q-0.2-3.1 1.7-4.3zM409.9 404.4q0.8 2-0.2 4.5q-1 2.6-5 2.7q-4 0.2-6.7-1.3q-2.6-1.5-3.1-3.7q-0.5-2.1 1.5-4.4q2.1-2.2 7.4-1.1q5.2 1.2 6.1 3.3zM416.7 401q4.1-1.2 5.4-0.2q1.4 0.9 1.8 4.6q0.3 3.7-1.5 4.5q-1.7 0.8-5.1 0.6q-3.4-0.2-4.7-1.7q-1.2-1.6-0.6-4.2q0.6-2.5 4.7-3.6zM425.4 401.5q1.5-1.3 5.7-1.1q4.3 0.2 5.5 2.5q1.3 2.2 0.8 4.6q-0.4 2.4-2.3 3.3q-2 0.9-5.5-0.3q-3.5-1.2-4.5-4.4q-1.1-3.2 0.3-4.6zM531.2 411.6q-0.3-3.2 2.2-4.5q2.5-1.2 5.7-1.3q3.3-0.1 4.3 2.8q1 2.9 0.5 4.4q-0.5 1.5-4.1 2.9q-3.7 1.4-6 0.2q-2.3-1.2-2.6-4.5zM547.6 407.1q3.5-1.7 7-2.3q3.5-0.7 5.8 1.4q2.2 2.2 1.1 4.8q-1.1 2.7-6.4 4.4q-5.3 1.6-7.9 0.6q-2.6-1-2.8-4.1q-0.3-3 3.2-4.8zM564.2 405.8q1.8-1.5 4.4-0.7q2.6 0.9 3.5 2.5q0.9 1.5-0.1 4.2q-1 2.7-3.6 3.4q-2.7 0.7-4.4-0.9q-1.7-1.6-1.7-4.4q0.1-2.7 1.9-4.1zM585.9 409.3q1.1 2-0.4 4.4q-1.5 2.4-4.1 2.4q-2.6-0.1-5.9-1.8q-3.3-1.7-3.4-3.8q-0.1-2.1 2-4q2.1-1.8 6.4-0.5q4.2 1.3 5.4 3.3zM598.1 410.9q-0.6 2.7-2.1 3.9q-1.4 1.2-4.8 0.6q-3.5-0.7-4.5-4q-1-3.3-0.1-4.4q0.9-1.1 4.4-1.4q3.6-0.3 5.7 1.1q2.1 1.4 1.4 4.2zM599.5 413.8q-0.6-1.5-0.5-3.7q0.1-2.3 2.7-3.6q2.5-1.4 5-0.4q2.4 1 2.7 3.7q0.3 2.7-0.5 4.6q-0.8 1.8-4.7 1.4q-4-0.5-4.7-2zM625.4 409.6q2.2 1.7 1.5 4.3q-0.8 2.6-4.4 3.4q-3.5 0.8-7.9-0.9q-4.4-1.7-4.4-4.3q0.1-2.5 1.3-4.1q1.3-1.7 6.5-0.9q5.2 0.8 7.4 2.5zM632.5 410.1q2.6 1.1 3 4.2q0.5 3.1-1.2 4.6q-1.7 1.6-3.6 1.6q-2 0-3-1.6q-1.1-1.5-1-5q0.1-3.5 1.6-4.1q1.6-0.7 4.2 0.3zM635 415q0.9-2.4 5-2.9q4-0.6 6.1 0.5q2.1 1.2 2.7 4.5q0.6 3.2-1.5 4.4q-2.1 1.1-6.3 0.5q-4.3-0.7-5.6-2.7q-1.4-2-0.4-4.3zM-102.8 417.9q1.2-2.3 7.1-2.5q5.9-0.2 7.7 1.1q1.8 1.3 1.3 3.5q-0.5 2.2-4.4 2.9q-3.8 0.8-6.7 0.6q-2.8-0.2-4.5-1.8q-1.7-1.6-0.5-3.8zM-79.8 423.1q-3.6 0.3-5-1.1q-1.3-1.3-0.6-4.2q0.6-3 3.6-3.2q3.1-0.1 4.6 0.2q1.5 0.2 2.7 2.7q1.3 2.5-0.2 3.9q-1.4 1.4-5.1 1.7zM-70.8 420.7q-2.9-1.8-1.7-3.9q1.2-2.2 4.9-2.6q3.7-0.4 7.5 0q3.8 0.5 5 3.2q1.2 2.6-1.1 4q-2.4 1.3-7.1 1.2q-4.7-0.1-7.5-1.9zM-53.8 420.7q-1.1-1.6 0.3-3.9q1.4-2.4 3.1-2.7q1.7-0.3 4.7 0.7q3 1 3.6 3.4q0.6 2.5-0.4 4q-1 1.5-5.6 0.8q-4.7-0.7-5.7-2.3zM-22.6 416.9q1 2.5-1 4q-2 1.5-7.2 1.5q-5.2-0.1-7.8-0.9q-2.7-0.9-1.9-3.5q0.7-2.7 4.2-3.6q3.5-0.9 8.1-0.5q4.6 0.5 5.6 3zM-18.9 422.5q-2.3-1.2-2-3.6q0.2-2.5 3.2-3.4q3-0.8 4.3-1q1.3-0.1 2.6 2.5q1.2 2.7 0.2 4.2q-1.1 1.6-3.5 2q-2.4 0.5-4.8-0.7zM-10.2 420.4q-0.5-2.1 1.1-4q1.5-2 3.9-1.8q2.4 0.2 3.3 1.8q0.8 1.6 1 3.7q0.2 2.1-2.9 2.9q-3.1 0.9-4.6 0.2q-1.4-0.7-1.8-2.8zM6.9 422.1q-6.5-0.5-7.8-2.1q-1.2-1.7 0.9-3.8q2.1-2 6.9-2.3q4.8-0.2 7.8 0.9q3 1 3 3.8q0 2.9-2.1 3.5q-2.2 0.6-8.7 0zM19.3 417.2q0.2-1.8 2.6-2.3q2.4-0.6 4.3 0q1.9 0.6 2.3 3q0.4 2.3-1.9 4q-2.2 1.8-4.1 1.6q-1.8-0.2-2.6-2.4q-0.8-2.1-0.6-3.9zM36.2 420.7q-1.8 1.4-4.3 1.2q-2.4-0.3-3.5-2.7q-1-2.3 0.1-4.3q1.1-2 3.3-2.4q2.2-0.3 4 0.9q1.8 1.1 2 3.5q0.2 2.4-1.6 3.8zM47.5 411.6q2.6 1.3 2.5 3.9q-0.2 2.6-1.5 3.6q-1.4 0.9-5.5 0.8q-4.2 0-5.2-1.7q-0.9-1.7-0.1-3.6q0.8-2 4-3.1q3.2-1.1 5.8 0.1zM51.5 420.1q-1-1.1-0.5-3.7q0.6-2.6 3.8-3.5q3.2-1 6.5-0.6q3.3 0.4 3.5 2.7q0.3 2.3-1.3 3.7q-1.5 1.4-6.3 1.9q-4.8 0.5-5.7-0.5zM69.2 420q-3.5-0.9-4.4-2.7q-1-1.8 0.7-4q1.8-2.2 5.8-1.9q4 0.3 5.6 1.6q1.6 1.4 1.1 3.9q-0.4 2.4-2.8 3.2q-2.5 0.8-6-0.1zM81.7 419.9q-2.4-0.4-3.1-2.1q-0.7-1.7 0.2-3.8q0.9-2.1 3.5-2.5q2.7-0.4 3.9 1.1q1.2 1.6 1.3 3.3q0 1.8-1.7 3.1q-1.8 1.3-4.1 0.9zM87.6 416q1-2.2 3.2-2.8q2.1-0.5 5.2 0.2q3.1 0.7 3.8 2.8q0.6 2.2-1.5 4q-2.1 1.9-5.1 1.4q-3-0.5-4.8-2q-1.8-1.5-0.8-3.6zM107.3 421.1q-3.7 0.4-5.8-0.5q-2-1-1.8-3.8q0.2-2.8 3.1-3.4q3-0.7 6.9-0.2q3.9 0.5 4 2.7q0 2.2-1.4 3.6q-1.3 1.3-5 1.6zM116 414.8q1.7-1.1 3.3-1q1.7 0 3 2q1.4 1.9 0.5 4.2q-0.9 2.4-3.1 2.7q-2.2 0.3-4.1-0.6q-1.9-1-1.6-3.6q0.3-2.7 2-3.7zM123.7 423.9q-1.8-1.7-0.1-3.6q1.6-1.9 5.7-2.4q4.1-0.6 6.5 0.5q2.4 1 2.1 3.7q-0.2 2.7-2.9 3.5q-2.7 0.9-6.1 0.5q-3.5-0.5-5.2-2.2zM145.4 419.5q3.2 0.9 3.5 3.3q0.4 2.3-0.1 3.3q-0.5 1-4.3 1.4q-3.8 0.4-5.2-0.5q-1.3-0.8-1.1-3q0.1-2.2 2-3.8q2-1.5 5.2-0.7zM149.1 423.7q0.1-1.9 3.7-3.3q3.7-1.4 5.5-0.3q1.9 1 2.3 3.3q0.5 2.3-2 3.7q-2.4 1.5-4.8 1.5q-2.5 0-3.6-1.5q-1.2-1.5-1.1-3.4zM171.2 423q1.8 1.1 1.2 3.8q-0.5 2.6-2.2 3.2q-1.8 0.6-5.3 0.1q-3.5-0.4-4-2.2q-0.4-1.9 0.7-3.7q1.1-1.8 4.5-2.1q3.3-0.2 5.1 0.9zM184.6 424.3q1.8 1.8 1 3.5q-0.8 1.6-3.2 2.5q-2.4 0.9-5.7-0.2q-3.3-1.1-3.3-2.8q0-1.7 1.6-3.7q1.6-1.9 4.7-1.5q3.1 0.4 4.9 2.2zM192.8 422.1q3.6 0.4 4.8 1.5q1.2 1.1 1.3 3.2q0.1 2.1-3.8 3.1q-4 0.9-6.3 0.7q-2.4-0.3-3.1-2.5q-0.7-2.3 1.4-4.4q2.1-2.1 5.7-1.6zM198.9 426.1q0.4-2.5 2.5-3.6q2-1.1 4-0.6q2.1 0.4 2.8 3q0.6 2.5-0.4 3.9q-1.1 1.4-4.2 1.4q-3.1 0-4.2-0.8q-1-0.8-0.5-3.3zM216.4 428.4q-0.8 1.5-3.8 1.2q-3-0.2-3.7-1.7q-0.7-1.4-0.6-3.3q0.1-1.9 1.8-3.2q1.6-1.2 4.5 0.3q3 1.5 2.8 3.3q-0.1 1.8-1 3.4zM231.2 425.5q0.1 2.7-2.2 3.9q-2.3 1.1-6.3 0.5q-4-0.7-5.2-3q-1.2-2.3 0.4-3.9q1.6-1.7 4.4-2.2q2.8-0.6 5.8 0.7q3.1 1.4 3.1 4zM232.1 422.6q-0.6-2.2 2.7-3.4q3.4-1.2 8.6 0q5.2 1.2 6.4 3.2q1.3 2 0.8 3.5q-0.5 1.6-5.5 2q-4.9 0.4-8.7-1.3q-3.7-1.7-4.3-4zM262.6 420.1q3.6 0.8 5.4 2.8q1.9 2-1 4q-2.9 1.9-7.3 1.4q-4.4-0.5-6-2.3q-1.7-1.9-1.1-3.9q0.5-1.9 3.5-2.3q2.9-0.5 6.5 0.3zM270.2 426.6q-1.2-1.4 0.5-4q1.7-2.5 6.1-2.8q4.4-0.3 6.6 0.9q2.2 1.2 1.4 3.2q-0.9 2.1-3.9 3.5q-3 1.5-6.2 1.1q-3.2-0.4-4.5-1.9zM293 427.9q-3.7 1.4-5.8 0.7q-2-0.8-2.7-2.9q-0.6-2.1 1.4-3.8q2.1-1.8 5.9-2.2q3.8-0.4 5.7 1.6q1.8 2 0.5 3.6q-1.3 1.5-5 3zM307.2 423.5q1.2 2.3 0 3.7q-1.2 1.4-3.8 2q-2.5 0.6-4-1.1q-1.6-1.7-1.2-3.8q0.4-2.1 1.9-3.3q1.4-1.1 3.7-0.5q2.3 0.7 3.4 3zM312.3 420.2q3.4-1.1 6.1 0q2.8 1.1 2.4 3.5q-0.4 2.4-3.2 3.9q-2.7 1.5-5.7 1.6q-3 0.2-4.5-2q-1.4-2.1 0-4q1.5-1.8 4.9-3zM333.4 426.6q-1.1 1.8-4.6 2.3q-3.5 0.4-5.6-0.6q-2-1-2.4-3.2q-0.4-2.2 2.4-3.6q2.8-1.4 5.4-1.3q2.5 0.1 4.2 2.4q1.7 2.2 0.6 4zM342.2 419.3q4.4-0.2 7.6 0.7q3.2 0.9 2.6 4q-0.7 3.2-5.2 3.4q-4.5 0.3-7.6-0.4q-3.1-0.7-4.3-3q-1.2-2.3 0.7-3.4q1.8-1.1 6.2-1.3zM366.6 425.5q-3.5 1.4-7.7 0.5q-4.3-0.8-4.8-3.5q-0.5-2.7 2-4q2.4-1.4 7.6-1.6q5.2-0.2 6.3 0.8q1.2 1 0.7 3.7q-0.5 2.8-4.1 4.1zM372.6 422.8q-0.9-1.3 0.6-4.1q1.6-2.8 3.8-3.2q2.2-0.3 6 0.7q3.8 1.1 4 3.7q0.2 2.6-2 3.4q-2.1 0.8-6.8 0.8q-4.7-0.1-5.6-1.3zM396.3 420.4q-1.8 1.2-4.9 0.9q-3.1-0.3-4-1.5q-0.9-1.2-0.2-3.7q0.8-2.4 3.5-2.9q2.7-0.4 4.7-0.1q2 0.3 2.4 3.2q0.3 2.9-1.5 4.1zM411.9 415q0 1.9-3.1 3.6q-3.1 1.7-6.4 1.6q-3.2-0.1-4.2-2.6q-1-2.5 0.6-4.2q1.6-1.7 4.1-2.1q2.4-0.4 5.7 0.7q3.3 1.1 3.3 3zM420.1 412.6q0.8 2.1 0.1 3.9q-0.7 1.8-3 2.1q-2.3 0.3-4.2-0.8q-1.8-1.1-1.8-2.7q0-1.5 0.9-3q1-1.4 4.1-1.5q3.2 0 3.9 2zM433.4 411.8q2.8 0.8 3.4 3.4q0.6 2.6-1.9 3.6q-2.4 1-6.7 0.3q-4.3-0.6-6-2q-1.6-1.4-1.2-3.8q0.4-2.4 4.9-2.4q4.6 0.1 7.5 0.9zM439.5 410.6q1.7-1.4 6.4-1q4.8 0.5 6.3 2q1.6 1.6 0.6 3.6q-1 2.1-5.2 2.7q-4.2 0.5-6.2 0q-2-0.6-2.8-3.2q-0.8-2.6 0.9-4.1zM468 414.8q1.2 2.4-0.2 4q-1.4 1.5-6.2 2q-4.7 0.5-6.7-1q-2.1-1.5-1.8-3.3q0.4-1.8 3.6-3.2q3.2-1.4 6.7-1.2q3.4 0.2 4.6 2.7zM476.5 412.4q3.5-0.3 5.1 2.2q1.5 2.4 0.4 4.1q-1.1 1.7-5.4 2.6q-4.3 0.9-6-0.2q-1.8-1.1-2.5-3.2q-0.6-2 2.1-3.7q2.8-1.6 6.3-1.8zM486.7 414.6q2.6 0.1 5.6 1.3q3 1.3 3.3 4q0.2 2.7-1.2 3.6q-1.4 0.8-4.3 0.4q-3-0.5-5-1.9q-2.1-1.3-1.5-4.4q0.5-3.1 3.1-3zM501.4 415.6q2.3-0.2 4.5 1.2q2.1 1.4 2 3.9q0 2.5-1.5 3.7q-1.6 1.2-4.3 0.7q-2.6-0.6-4.2-2.5q-1.5-1.9-0.1-4.3q1.4-2.4 3.6-2.7zM522.3 422q-1 1.4-6.2 1.6q-5.2 0.2-6.3-0.8q-1.2-1.1-1.7-3.6q-0.5-2.4 2.7-3.1q3.2-0.8 6.8-0.8q3.6 0 4.6 2.7q1.1 2.6 0.1 4zM523.3 422q-0.1-2.4 5.4-4.3q5.5-1.9 8.9-1.7q3.4 0.2 5 2.5q1.7 2.3-1.9 4.2q-3.6 1.9-7.8 2.8q-4.2 0.9-6.9-0.1q-2.6-1.1-2.7-3.4zM558.2 414.6q4.2 0.5 4 2.5q-0.2 1.9-2 4.1q-1.8 2.3-6.7 3.2q-5 0.8-8.1-0.9q-3.1-1.7-1.9-4.4q1.3-2.6 6-3.7q4.6-1.2 8.7-0.8zM565.4 414.8q2.2-1.2 6.5-0.5q4.2 0.7 4.5 3.3q0.2 2.6-1.5 4.2q-1.8 1.5-4.7 1.4q-2.9-0.1-5.2-1.5q-2.2-1.4-2-3.6q0.2-2.2 2.4-3.3zM577.9 423.5q-2.2-1.4-1.7-3.9q0.5-2.5 4.7-3q4.1-0.4 6.6 0.2q2.4 0.5 2.3 2.7q-0.2 2.1-2.2 3.9q-2 1.8-4.7 1.6q-2.8-0.2-5-1.5zM591.2 422.2q-1.8-1.5-1.4-3.7q0.5-2.1 3.2-3q2.7-0.8 5.5-0.1q2.7 0.8 3.5 2.2q0.8 1.5-0.2 3.8q-1 2.3-4.9 2.4q-3.9 0-5.7-1.6zM612.8 424.4q-1 1.1-4.2 1.5q-3.1 0.3-4.6-1.9q-1.6-2.1-1.4-3.9q0.3-1.7 3.6-3q3.3-1.2 4.8-0.1q1.6 1.1 2.2 3.6q0.5 2.6-0.4 3.8zM621.4 427.5q-2.3 0.6-5.2-0.9q-2.8-1.5-2.7-3.8q0.2-2.3 1.4-3.5q1.2-1.2 4.6-0.5q3.5 0.7 4.6 2.1q1.2 1.5 0.4 3.7q-0.8 2.3-3.1 2.9zM626.8 427q-1.7-2.7-1.3-4.1q0.5-1.4 2.7-2.5q2.2-1 5-0.4q2.8 0.7 3.7 3q0.8 2.3-1.2 4.1q-2.1 1.7-4.7 2.1q-2.5 0.5-4.2-2.2zM-81.9 426.8q0.5-2.2 3.4-3.2q3-1.1 4.8 0.7q1.8 1.8 1.3 3.8q-0.5 2.1-2.1 4q-1.5 1.9-3.7 1.2q-2.1-0.7-3.1-2.5q-1.1-1.9-0.6-4zM-59.5 424.5q0.6 1.7 0.5 4.4q-0.1 2.6-4.3 3.5q-4.2 0.8-6.4-0.1q-2.1-0.9-2.2-4q-0.2-3.1 1.5-4.3q1.6-1.1 5.9-1.1q4.4 0 5 1.6zM-0.5 424.9q1.7-1.7 4-1.1q2.3 0.5 2.9 2.2q0.7 1.6-0.3 4.1q-1 2.5-2.3 2.9q-1.4 0.3-3.9-0.6q-2.4-1-2.3-3.4q0.2-2.4 1.9-4.1zM23.3 431.1q-1.6 2.2-4.9 2q-3.2-0.1-7.5-1.7q-4.2-1.7-4.2-4.5q0-2.8 2.8-3.4q2.8-0.7 7.5 0q4.7 0.7 6.3 3q1.6 2.3 0 4.6zM23.6 427.1q-0.9-2.1 2.5-3.9q3.5-1.8 8.4-2.3q4.8-0.4 6.6 1.5q1.8 1.8 1.4 4.2q-0.4 2.5-6.4 3.6q-5.9 1.2-8.7 0.2q-2.8-1.1-3.8-3.3zM57.1 422q1.4 1.6 0.4 4.8q-1.1 3.2-4.5 3.6q-3.3 0.3-5.1 0q-1.9-0.3-2.9-3.2q-0.9-2.9 0.4-4.6q1.3-1.6 5.8-1.9q4.5-0.3 5.9 1.3zM60.2 420.7q2.1-1.8 7.8-1.8q5.7 0 8.1 1.6q2.3 1.7 1.4 4.2q-1 2.5-6 4.1q-5 1.5-8.7 0.7q-3.7-0.8-4.1-3.9q-0.5-3.1 1.5-4.9zM78.2 422.6q0.9-2.5 5.6-2.5q4.8 0.1 8.2 1q3.4 0.9 4.2 4.3q0.9 3.5-1.2 4.3q-2 0.8-8.6 0q-6.6-0.8-7.9-2.8q-1.2-1.9-0.3-4.3zM102 431q-4.1-1.1-4.9-3.2q-0.8-2.2 0.7-4.6q1.6-2.4 3-2.3q1.5 0 5.2 1.8q3.7 1.8 3.6 4.1q-0.2 2.2-1.8 3.8q-1.7 1.6-5.8 0.4zM114.8 422.4q2 0.5 3 3.6q1 3.1 1 4.4q0.1 1.2-3.2 1.8q-3.3 0.7-4.3-0.1q-1-0.8-1.4-4.1q-0.3-3.3 1.3-4.8q1.7-1.4 3.6-0.8zM118.5 432.6q-1.3-1.8-0.3-4.4q1-2.5 4.6-3.6q3.5-1 5.6-0.1q2.2 0.8 2.4 4.2q0.2 3.4-1.5 4.4q-1.7 1-5.6 1.1q-3.9 0.2-5.2-1.6zM133.9 437.4q-3.1-1.2-2.7-4q0.5-2.9 4.4-4.3q3.9-1.4 8.5-1.5q4.5-0.1 5.1 2.2q0.7 2.2-0.2 4.6q-0.9 2.3-6.4 3.3q-5.6 1-8.7-0.3zM158.1 428.6q3.6-0.3 5.5 3q1.8 3.2 0.8 4.8q-0.9 1.5-5 2.5q-4.1 0.9-6.2-0.8q-2-1.7-1.9-4q0.1-2.2 1.7-3.7q1.6-1.5 5.1-1.8zM179.7 434.2q0.5 1.2 0.5 4q0 2.8-3.1 4q-3 1.2-7.3-0.3q-4.4-1.4-4.6-5q-0.2-3.5 2.3-4.6q2.5-1.1 7.1-0.2q4.6 1 5.1 2.1zM183.7 431.9q2.1-1 5.2 0.1q3.2 1.2 4.1 3.6q0.9 2.4-1.6 4.2q-2.5 1.7-5.7 2.1q-3.2 0.4-4-1.3q-0.9-1.6-0.5-4.7q0.3-3.1 2.5-4zM200.9 441.1q-4.6 0-6.7-2.1q-2.1-2.1-0.6-4.4q1.5-2.2 7.2-3.4q5.6-1.1 9.2 0.4q3.6 1.4 3.2 4.2q-0.3 2.7-4 4q-3.7 1.2-8.3 1.3zM290.1 437.7q-2.2 2.5-8.6 1.2q-6.3-1.3-7.6-3.2q-1.3-1.9-0.7-4.1q0.6-2.1 4.6-2.5q3.9-0.5 8.6 0.9q4.7 1.4 5.4 3.3q0.6 1.9-1.7 4.4zM310.4 436q0.1 1.8-3.6 3.1q-3.7 1.2-8.1 0q-4.4-1.1-5.5-4.5q-1.1-3.3 1.3-4.2q2.4-0.9 7.4-1q5 0 6.7 2.4q1.7 2.4 1.8 4.2zM315.4 430q3.8-0.7 5.5 0.2q1.8 1 2 3.4q0.3 2.5-1.1 4.4q-1.4 1.9-5.2 1.8q-3.7-0.1-5.1-2.1q-1.4-2-0.6-4.6q0.7-2.5 4.5-3.1zM333.2 440.1q-1.7 1.1-5.4 0.3q-3.8-0.9-4.5-2.6q-0.7-1.7 0.9-4.4q1.7-2.8 4.4-3.3q2.8-0.6 5.3 0.8q2.6 1.4 1.9 4.8q-0.8 3.4-2.6 4.4zM346.9 433.2q0 2.6-0.9 3.7q-0.9 1-4.1 1.7q-3.3 0.8-4.5-1.6q-1.3-2.3-0.8-4.6q0.4-2.3 2.8-3.3q2.5-0.9 5 0.3q2.5 1.2 2.5 3.8zM348.6 436.4q-2.4-1.8-0.9-4.3q1.5-2.6 6.2-4q4.7-1.4 6.7-1q2.1 0.4 3.2 3.7q1 3.2-2.4 4.8q-3.5 1.7-6.9 2.2q-3.4 0.4-5.9-1.4zM372.9 425.2q2 1.3 2.8 3.9q0.8 2.7-1.8 4.4q-2.5 1.7-5.3 1.3q-2.8-0.4-3.7-1.9q-1-1.6-0.1-4.6q0.9-3 3.5-3.7q2.6-0.7 4.6 0.6zM386.6 433.1q-4.3 0.1-7.3-1.4q-3-1.5-2.5-4.7q0.5-3.1 3.3-3.6q2.8-0.6 8.5 0q5.8 0.5 6.9 3.6q1.2 3.1-1.6 4.6q-2.9 1.5-7.3 1.5zM400.9 421q2.8 0.2 4.3 0.9q1.5 0.8 1.6 4q0.1 3.1-2.6 4.5q-2.7 1.3-5.1 0.9q-2.3-0.4-3-2.7q-0.8-2.2 0.5-5q1.4-2.7 4.3-2.6zM410.8 419.1q2.1-0.2 7.5 0q5.4 0.3 6.9 3.8q1.5 3.6-0.5 4.5q-2 1-7.9 1.4q-6 0.4-8.9-1.8q-2.9-2.1-1.1-4.9q1.8-2.7 4-3zM438.2 419.2q4.7 1.5 6.7 3.7q2.1 2.2 0.9 4.5q-1.3 2.2-6.4 1.8q-5.2-0.3-9.4-2.4q-4.2-2.1-4.1-4.7q0.1-2.6 3.9-3.5q3.8-0.9 8.4 0.6zM539.6 427.1q2.2-3 5.2-2.9q3.1 0.1 6.3 2.2q3.3 2 3.3 5.1q0 3.1-3.8 3.5q-3.7 0.4-7.6-0.1q-3.9-0.6-4.8-2.7q-0.8-2.1 1.4-5.1zM569.6 430.9q-0.8 2.3-3.6 2.7q-2.7 0.4-6.4-1q-3.6-1.3-4.1-4.1q-0.4-2.9 1.6-3.9q2-1.1 7-0.6q5 0.5 5.7 2.6q0.7 2-0.2 4.3zM575.8 434q-4.5-0.9-5-3.9q-0.4-3 2.7-4.6q3.1-1.7 7.1-1.9q4-0.1 6.1 2.2q2 2.3 0.6 4.8q-1.4 2.4-4.2 3.3q-2.7 1-7.3 0.1zM595 426q5.5-0.7 7.6 0.4q2.1 1.1 2.3 4.2q0.1 3-2.1 3.8q-2.3 0.8-6.5 1.4q-4.2 0.6-6.6-1.3q-2.4-1.8-1.4-4.8q1.1-3 6.7-3.7zM619.3 435.5q-1.1 1.5-4.3 2.2q-3.3 0.7-6.5-1.2q-3.1-1.9-2.9-4.4q0.3-2.6 3-3.8q2.8-1.2 6.8-0.3q4 0.9 4.5 3.4q0.5 2.6-0.6 4.1zM635.2 432.6q-0.5 2-4.3 3.8q-3.9 1.8-7.2 1.7q-3.3-0.1-3.7-2.5q-0.3-2.4 0.9-4.5q1.1-2 4.8-3.1q3.7-1.1 6.8 0.7q3.2 1.8 2.7 3.9zM296.9 448.3q4.6-0.1 8.7 1.9q4 2 2.5 4.4q-1.4 2.5-4.1 3q-2.7 0.4-7.2-0.2q-4.5-0.7-7-3.4q-2.6-2.6 0-4.1q2.5-1.5 7.1-1.6zM46.6 468.6q2.9 1.9 2.6 5.2q-0.2 3.3-4.4 4.4q-4.2 1.2-8.8-0.2q-4.7-1.4-5.9-4.4q-1.2-3 0.5-4.4q1.8-1.3 7.5-1.8q5.7-0.6 8.5 1.2zM65.5 466.9q1.8 1.9 0.8 5.4q-1 3.5-4.6 3.8q-3.6 0.3-8-1.6q-4.5-1.8-4.2-3.7q0.3-2 3.1-4.8q2.8-2.9 6.9-1.9q4.2 0.9 6 2.8zM69.6 463.9q1.1-0.9 4-0.1q2.8 0.7 3.1 3.1q0.2 2.4-0.9 4.8q-1 2.4-2.6 2.9q-1.5 0.4-3.6-0.8q-2.2-1.3-1.6-5.2q0.5-3.8 1.6-4.7zM96.7 466.2q0 3.6-2.5 4.7q-2.6 1.1-8.1 0.5q-5.5-0.5-7.9-2.9q-2.3-2.4-1-4.7q1.4-2.4 6.5-3.2q5.1-0.7 9.1 0.6q3.9 1.4 3.9 5zM98.9 458.7q2.6-1.6 4.3-1.1q1.7 0.6 2.4 3.3q0.7 2.8-0.2 5.2q-0.9 2.4-2.9 2.6q-2 0.2-4-1.7q-2-1.8-2.1-4.2q-0.1-2.5 2.5-4.1zM114.5 466.4q-6.5-0.7-7.8-2.7q-1.4-2 0.1-4.6q1.4-2.6 6.2-3.7q4.8-1.1 7.5 0.1q2.8 1.1 3.7 5q1 3.9-1 5.2q-2.1 1.3-8.7 0.7zM126.8 462.4q-1-2.1-0.1-5.3q0.8-3.2 3.8-3.1q3 0.2 4.9 1.1q2 1 1.8 4.4q-0.2 3.4-2.8 4.9q-2.6 1.6-4.6 0.8q-2-0.8-3-2.8zM155.4 464.4q-1.3 2.3-5.7 2.5q-4.4 0.2-8.7-1.1q-4.3-1.4-4-4.9q0.3-3.5 2.7-5q2.3-1.6 8.1-0.4q5.7 1.1 7.4 3.9q1.6 2.8 0.2 5zM222.2 468.1q-2.7 1.7-6.4 0.1q-3.6-1.5-4.3-4.3q-0.7-2.9 1.3-4.7q2-1.8 5.7-1.6q3.7 0.3 5.4 1.6q1.7 1.4 1.4 4.4q-0.3 2.9-3.1 4.5zM236.1 458.8q2 1.3 2.5 3.8q0.5 2.6-2.2 5q-2.6 2.4-6.2 1.4q-3.6-1-4.6-2.7q-1.1-1.7-0.5-4.6q0.5-2.9 4.7-3.6q4.3-0.7 6.3 0.7zM238.8 462q0.1-2.1 2.8-4q2.7-1.8 7.7-1.4q5 0.5 6.9 3q2 2.5 1.1 5.1q-0.9 2.6-6.5 3.2q-5.7 0.5-9-1.7q-3.2-2.1-3-4.2zM272 466.8q-3.1 1.7-7.1 1.8q-3.9 0.1-5.1-3.5q-1.3-3.5 1.3-6.1q2.6-2.6 6.7-2.5q4.1 0.2 6.5 1.6q2.4 1.5 1.6 4.3q-0.8 2.7-3.9 4.4zM282 466.9q-2.4 0.3-4.1-1.5q-1.8-1.7-1.9-5.1q-0.2-3.4 1.4-4.8q1.5-1.3 4.6-0.6q3.1 0.6 4.1 3.9q1 3.3-0.4 5.6q-1.4 2.2-3.7 2.5zM298.1 464q-1.8 2.7-4.4 2.8q-2.6 0.1-4.7-1.9q-2.2-2-1.6-5q0.5-3 2.5-3.8q1.9-0.8 5.8 0.5q3.9 1.2 4.1 3q0.2 1.7-1.7 4.4zM300.1 464.6q-0.9-3.3 1.2-5.1q2.1-1.8 5.9-2.4q3.9-0.5 6.8 1.4q2.8 1.8 2.1 5q-0.8 3.2-4.4 4.1q-3.6 1-7.1 0.7q-3.6-0.3-4.5-3.7zM323.7 458q4.9-0.1 5.9 2.9q1 3 0.4 5.3q-0.6 2.3-3.6 3q-3.1 0.7-6-0.3q-2.9-1.1-3.3-3.4q-0.3-2.3 0.7-4.8q1-2.5 5.9-2.7zM342.1 472.6q-4.8 0.6-7-0.3q-2.1-0.9-2.7-4.2q-0.6-3.3 2-5.1q2.5-1.9 8.8-1.6q6.4 0.3 7 3.6q0.6 3.3-1.3 5.1q-2 1.9-6.8 2.5zM352.8 465.8q2-1.8 6.6-1.4q4.5 0.4 5.5 3.1q1.1 2.7 0 4.5q-1 1.8-4.9 2.6q-3.8 0.8-5.8-0.4q-2-1.1-2.7-3.9q-0.7-2.8 1.3-4.5zM444.4 474.2q-2.2 0.5-4.8-1.3q-2.6-1.8-2.4-4.3q0.3-2.5 2.2-4.8q1.9-2.3 4.3-1.5q2.4 0.8 3.5 2.8q1.1 1.9 0.3 5.3q-0.8 3.4-3.1 3.8zM457.2 468.8q-0.2 2.9-1.8 4.1q-1.6 1.3-3.6 1q-2-0.2-3.3-2.2q-1.3-2-0.1-4.9q1.1-3 3-3.7q2-0.6 4 1.1q2.1 1.7 1.8 4.6zM460.6 472q-3.8-2.2-4.1-4.4q-0.3-2.1 2.9-4q3.3-2 7.5-1.4q4.2 0.6 5.5 3q1.3 2.5-0.6 5.2q-2 2.7-4.7 3.2q-2.7 0.5-6.5-1.6zM474.4 461.4q0.8-1.1 3.5-1q2.8 0.1 3.6 3.3q0.9 3.2-0.1 5.5q-1.1 2.4-2.8 2.9q-1.7 0.5-3.7-0.6q-2.1-1.2-1.7-5.1q0.4-4 1.2-5zM488.5 461.4q4.3-0.2 6.5 0.9q2.2 1.1 3.1 4.8q0.9 3.8-1 5.4q-1.9 1.7-6.2 1.4q-4.2-0.4-7.3-3.3q-3-2.9-1.2-6q1.7-3 6.1-3.2zM499.7 468.1q-0.5-2.3 1.7-4.9q2.1-2.6 5.3-2.5q3.2 0.1 4.9 1.3q1.6 1.1 0.9 4.9q-0.7 3.8-3.5 5.1q-2.9 1.4-5.9-0.1q-2.9-1.5-3.4-3.8zM529.7 465.1q1.9 2.4 1.7 4.6q-0.3 2.2-5.4 3.5q-5 1.3-8 0.2q-3-1.2-3.8-3.5q-0.7-2.3 1.6-5.3q2.3-3 7.2-2.4q4.8 0.6 6.7 2.9zM539.2 473q-3.7 0.4-5.8-0.9q-2.1-1.2-2.2-4.3q-0.1-3.2 2-4.6q2-1.3 6.2-1.2q4.1 0.2 5.1 3.5q0.9 3.4-0.4 5.3q-1.2 1.9-4.9 2.2zM559.7 470.1q-5.1 1.7-8.8 1.7q-3.7-0.1-4.8-3.5q-1.1-3.4 0-4.8q1.2-1.4 6.4-3q5.2-1.7 8.3-0.6q3 1 3.4 4.7q0.5 3.7-4.5 5.5zM566.3 461.6q1.4-3 6.4-2.7q4.9 0.2 8.3 1.5q3.4 1.2 3.2 4.6q-0.1 3.3-3.2 4.5q-3 1.1-8.5 1q-5.6-0.2-6.6-3.1q-1-2.9 0.4-5.8zM634.5 455.1q1.1 2.1 0 5.4q-1 3.3-3 3.6q-2.1 0.2-5.5-0.3q-3.4-0.5-4.2-4.3q-0.8-3.8 1.7-5.1q2.6-1.2 6.3-1.3q3.6 0 4.7 2zM79.8 481.6q-2.3 1.7-6.8 1.4q-4.5-0.4-5.6-2.9q-1.1-2.4-0.2-4.7q0.8-2.4 4.8-3.5q4-1 6-0.1q1.9 0.8 3 4.4q1.1 3.6-1.2 5.4zM92.8 469.6q3.7 0.5 3.8 3.9q0.1 3.3-1.9 5q-2 1.7-4.9 2.5q-2.9 0.9-5.2-0.9q-2.4-1.8-1.8-5.7q0.5-3.9 3.4-4.6q2.8-0.7 6.6-0.2zM100.6 479q-3.6-0.9-3.6-4.4q0-3.4 2.4-5.1q2.4-1.7 6.3-1.9q3.9-0.3 5.2 1.4q1.4 1.6 1.1 5q-0.2 3.4-4 4.6q-3.8 1.3-7.4 0.4zM123.6 467.8q2 1.6 2.1 4q0.1 2.3-1.8 4q-1.9 1.6-6.1 1.6q-4.2 0.1-5.3-1.5q-1.1-1.7-0.3-4.8q0.8-3 5.1-4q4.3-0.9 6.3 0.7zM128.8 464.8q2.6-0.3 4.1 1.6q1.4 1.8 2 4.4q0.5 2.5-1.6 4.2q-2.1 1.7-4 1.5q-1.8-0.2-3.2-2.5q-1.4-2.3-0.6-5.6q0.7-3.3 3.3-3.6zM138.9 475.1q-3.1-0.3-4.1-2.8q-1-2.5 1-4.8q2-2.3 6.8-3.3q4.7-0.9 7.2 1.5q2.5 2.4 1.3 5.1q-1.2 2.7-5.1 3.7q-3.9 1-7.1 0.6zM152.8 468q1.4-3.4 5.1-4.5q3.8-1.2 7.4 0q3.6 1.2 3.3 4.3q-0.3 3.1-2.6 5.3q-2.3 2.2-7.4 1.9q-5.1-0.4-6.1-2q-1-1.6 0.3-5zM180.1 474.2q-2.1 1.5-5.6 1.1q-3.5-0.4-4.7-2.4q-1.3-2.1-0.9-4.8q0.4-2.7 3.8-3.5q3.3-0.7 6.3 1.1q3 1.8 3.1 4.4q0 2.7-2 4.1zM183.5 468.1q1.4-1.9 3.8-1.6q2.4 0.4 3.6 2.8q1.2 2.4 0.8 4.6q-0.4 2.3-2.8 3.7q-2.3 1.4-4.3 0q-2-1.3-2.3-4.4q-0.2-3.1 1.2-5.1zM192.4 468.2q1.3-1.7 4.6-1.7q3.3 0 4.8 1.4q1.5 1.3 1.3 4.2q-0.2 3-2.8 4.3q-2.6 1.3-5.1 1.1q-2.5-0.1-3.3-3.8q-0.8-3.7 0.5-5.5zM205.9 467.4q1.9-1.9 6-1.2q4.1 0.7 6.1 3.3q2 2.6 0.8 4.8q-1.1 2.2-3.7 3.3q-2.7 1-7.2-0.6q-4.4-1.7-4.1-4.6q0.3-3 2.1-5zM230.6 467q3.6 0.9 5.6 4q2.1 3.2 0.7 5.4q-1.5 2.2-6.7 2.1q-5.2-0.2-7.4-1q-2.3-0.9-3.4-3.9q-1-3 3.3-5.2q4.2-2.3 7.9-1.4zM249.8 467.5q5.4 1 5.6 4.2q0.3 3.2-1.8 4.7q-2 1.6-5.4 2.2q-3.4 0.6-6.4-2q-3.1-2.6-2.4-5.8q0.8-3.2 2.9-3.7q2.2-0.6 7.5 0.4zM256.8 473.8q-0.5-2.3 0.1-4.9q0.5-2.5 6.2-3.5q5.8-0.9 8.9 0.7q3.1 1.7 3.1 5.1q0 3.5-4.3 4.9q-4.4 1.4-8.9 0.7q-4.6-0.7-5.1-3zM282.2 467.7q1.9 2.2 1.9 4.9q0.1 2.8-1.3 3.9q-1.5 1.2-4 1.1q-2.6-0.1-3.5-4q-0.9-3.8 0.3-5.4q1.2-1.5 3-2.1q1.7-0.6 3.6 1.6zM284.6 468q0.9-3.6 3-3.9q2.2-0.3 3.8 1.3q1.6 1.6 1.4 5.3q-0.3 3.7-1.9 4.8q-1.7 1.2-3.8 0.6q-2-0.5-2.7-2.5q-0.7-2 0.2-5.6zM293.9 471.9q0-3.2 4.5-4.8q4.5-1.6 8.6-0.9q4.2 0.7 5.1 2.3q1 1.6-1 5.1q-1.9 3.6-7.4 4.3q-5.5 0.6-7.7-1.1q-2.1-1.8-2.1-4.9zM314.3 470.4q1.1-1.9 7.2-0.9q6.2 1 8.4 2.9q2.3 1.8 1 4.9q-1.2 3.1-3.7 3.6q-2.5 0.4-7.7-1.3q-5.1-1.6-5.7-4.4q-0.6-2.8 0.5-4.8zM345.8 471.9q3.8 1.1 4.2 3.5q0.4 2.3-1.4 4.4q-1.8 2-6.3 3.2q-4.5 1.2-7.2-0.2q-2.7-1.5-2-5.3q0.8-3.9 4.8-5.3q4.1-1.4 7.9-0.3zM354.2 473.7q2-0.3 4.8 1.3q2.8 1.6 3.1 4.9q0.2 3.3-1.4 5.1q-1.6 1.9-5.7 0.9q-4.2-1-4.5-3.5q-0.4-2.6 0.6-5.5q1.1-2.9 3.1-3.2zM362.6 478.1q0.8-2.8 3.3-3.7q2.4-0.9 4.2 1.2q1.8 2.1 1.9 4.4q0.2 2.4-1.5 3.9q-1.7 1.6-4.3 1.5q-2.5-0.1-3.4-2.3q-1-2.1-0.2-5zM380.7 486.6q-2.7 2.4-4.3 2.1q-1.6-0.3-3.2-3.2q-1.6-2.8-1.1-5.3q0.4-2.5 3.3-3.4q2.8-0.9 4.7 0.2q2 1.1 2.7 4.1q0.6 3.1-2.1 5.5zM386.1 476.6q2.9-1.3 6 0q3 1.4 3.7 5q0.7 3.6-1.3 5.4q-2 1.8-5.5 0.9q-3.5-1-5.1-3.9q-1.7-2.8-1.2-4.5q0.5-1.6 3.4-2.9zM407.1 477.8q1.4 1.7 0.3 5.2q-1 3.5-3.9 4.2q-2.9 0.7-4.2-0.4q-1.3-1.1-1.7-5.1q-0.3-4 0.8-4.8q1-0.7 4.1-0.8q3.2 0 4.6 1.7zM407.8 482.3q-0.1-3.1 2.1-5q2.2-1.9 6-2.1q3.8-0.2 5.6 3.2q1.9 3.5 0.7 5.5q-1.2 2.1-5.4 2.5q-4.3 0.5-6.7-0.3q-2.3-0.7-2.3-3.8zM421.4 479.6q0-2.1 4.6-4.5q4.6-2.3 8.2-2q3.6 0.2 5.1 3.5q1.5 3.2-0.3 5.1q-1.9 1.9-5.9 2.6q-4.1 0.7-7.9-1q-3.7-1.7-3.8-3.7zM441.4 483.2q-1.5-2-1.6-4.8q-0.2-2.7 3.1-4.4q3.3-1.7 5.2-0.8q2 0.9 2.7 3.8q0.6 2.9-0.5 5.1q-1.1 2.2-4.3 2.7q-3.1 0.5-4.6-1.6zM451.8 474.9q1.5-2.6 4.2-3.7q2.7-1.1 5.5 0.8q2.8 1.9 3.1 4.9q0.4 2.9-2.6 4.8q-3 1.9-6.4 0.9q-3.4-1.1-4.4-3.2q-1-2 0.6-4.5zM464.4 474.9q0.8-2.4 3.5-2.9q2.7-0.5 5.4 0.9q2.7 1.4 3.1 4.5q0.3 3-1.4 4.5q-1.6 1.6-5.1 1.5q-3.5-0.1-4.9-3q-1.3-3-0.6-5.5zM487.2 481.2q-2.4 1.6-4.8 1.4q-2.5-0.1-4.6-2.6q-2.2-2.5-1.8-5.1q0.4-2.6 3.6-3.8q3.3-1.1 5.8-0.1q2.5 1 3.4 4.8q0.8 3.8-1.6 5.4zM499.6 470.3q3 0 4.2 2.5q1.2 2.4-0.6 5.4q-1.8 3.1-5.7 3.7q-3.9 0.5-6.5-1.5q-2.6-2.1-2.6-4.3q0.1-2.2 4.2-4q4-1.8 7-1.8zM515.7 472.8q2.4 1.4 2.3 4.7q-0.2 3.3-2.8 4.6q-2.6 1.2-5.4 1.2q-2.9 0-4.6-2q-1.7-2-1-4.7q0.7-2.8 4.9-4q4.2-1.2 6.6 0.2zM519.2 473.9q0.7-1.8 6.3-1.7q5.7 0.2 8 1.2q2.3 1.1 1.7 4.4q-0.6 3.3-3.7 4.7q-3.2 1.3-7.4 0.3q-4.2-1.1-4.9-4.2q-0.7-3 0-4.7zM539.8 482.7q-2.8-0.2-3.8-2.4q-1.1-2.2 0.3-5.7q1.5-3.4 4-3.6q2.6-0.2 4.7 1.2q2.2 1.4 2.4 5.2q0.1 3.8-2.4 4.6q-2.4 0.9-5.2 0.7zM548.2 479.9q-1.6-1.6-1-4.7q0.6-3 5.5-4.7q4.9-1.7 7.7-0.9q2.8 0.7 3.3 4.2q0.4 3.5-1.3 5.2q-1.7 1.6-7.2 2q-5.5 0.4-7-1.1zM581.7 472.6q0.6 2.9-1.8 5.2q-2.4 2.3-6.7 1.8q-4.2-0.6-6.6-2.4q-2.4-1.7-1.5-4.3q0.9-2.7 3.3-4q2.3-1.4 7.5-0.3q5.2 1.2 5.8 4zM586.4 477.7q-3.2-0.6-3.5-3.6q-0.4-3 1.3-5.2q1.7-2.3 5.8-2.7q4.2-0.4 6.1 2.5q1.9 2.9 0.8 5.3q-1.1 2.3-4.2 3.3q-3.1 1-6.3 0.4zM599.2 465.8q1.3-1.4 3.7-0.6q2.3 0.8 2.9 2.4q0.5 1.5 0 4.9q-0.5 3.4-3 3.8q-2.5 0.4-4.3-0.9q-1.8-1.2-1.2-4.8q0.6-3.5 1.9-4.8zM623.4 465.6q2 1.8 1 5.2q-1 3.3-6.2 4.4q-5.1 1.2-7.2 0.4q-2.2-0.7-3.7-4.4q-1.5-3.7 0.5-4.9q2-1.2 7.8-1.8q5.8-0.6 7.8 1.1zM95.7 483.1q0.5 2.4-0.5 4.8q-1 2.5-3.4 3.1q-2.5 0.6-3.9-1.2q-1.3-1.8-0.9-5.4q0.4-3.6 2.2-4.8q1.7-1.2 3.8-0.1q2.1 1.2 2.7 3.6zM108 478.2q1.4 2 0.8 5q-0.6 3-4.6 3.8q-3.9 0.8-5.8-0.4q-1.8-1.2-1.9-4.5q0-3.2 1.5-4.3q1.4-1.1 5-1.4q3.5-0.2 5 1.8zM122.4 476.9q2.4 2 1.8 5q-0.7 3.1-3.7 4q-2.9 1-6.3-0.2q-3.5-1.2-4.2-2.8q-0.8-1.7 0.4-4.5q1.2-2.8 5.4-3.2q4.3-0.4 6.6 1.7zM128.7 485.9q-2.7-0.2-3.9-2q-1.3-1.8-0.6-5q0.7-3.3 3-3.9q2.4-0.6 4.4 0.6q1.9 1.2 1.7 4.4q-0.1 3.1-1.1 4.6q-0.9 1.5-3.5 1.3zM133.9 477.6q1.5-3.1 4.2-3.4q2.6-0.3 5.5 0.7q3 1 3.3 4.6q0.3 3.6-1.7 5.3q-2 1.7-5.9 1.3q-3.8-0.5-5.4-3q-1.5-2.4 0-5.5zM147.5 481.2q-1.5-2.8 0.1-5.6q1.6-2.8 5.3-3.1q3.7-0.4 7.3 1.2q3.6 1.6 3.7 5.1q0.1 3.5-2.6 4.8q-2.7 1.4-7.5 1q-4.8-0.5-6.3-3.4zM215.1 478.2q1.6 2.3 0.5 5.4q-1.1 3.1-5.7 3.6q-4.5 0.6-6.5-1q-2-1.5-2.7-4.7q-0.8-3.2 2.5-5q3.2-1.8 6.7-1.1q3.6 0.6 5.2 2.8zM225.3 477.5q2.2 1.2 2.9 3.5q0.8 2.4-1.2 5.1q-2 2.8-4.8 2.7q-2.8-0.1-4.9-2.7q-2.1-2.6-1.7-4.9q0.3-2.3 4-3.6q3.6-1.3 5.7-0.1zM239.9 487.5q-3.6 0.4-7.2-1.1q-3.7-1.5-3.6-4q0.1-2.4 2-4.4q2-2 6.5-1.9q4.5 0.1 6.2 2q1.8 2 0.7 5.5q-1.1 3.6-4.6 3.9zM252.3 476.7q2.3 1.5 2.4 4.5q0.1 3.1-0.6 4.4q-0.8 1.3-3.1 2.2q-2.3 0.9-4.2-1.8q-1.9-2.7-1.3-5.2q0.6-2.5 2.6-4q1.9-1.6 4.2-0.1zM264.8 487.5q-5.1-0.8-8.2-2.5q-3-1.7-2.4-5.1q0.6-3.4 4.7-3.6q4.1-0.2 8.4 0.8q4.3 0.9 5.8 4.1q1.6 3.2-0.9 5.2q-2.4 1.9-7.4 1.1zM277.4 476.3q2.2-1.5 7.5-1.1q5.3 0.5 6.6 3.3q1.4 2.9-1.5 5.6q-2.9 2.7-6.7 3.2q-3.8 0.5-6.4-1.2q-2.6-1.8-2.2-5q0.4-3.3 2.7-4.8zM300.9 486.5q-4.5 0.3-7.5-2.3q-2.9-2.6-1.3-5.4q1.6-2.9 6-3.8q4.5-0.9 6.8-0.1q2.2 0.7 2.9 4.1q0.6 3.4-0.9 5.3q-1.6 1.9-6 2.2zM317.2 487.4q-1 1.6-3.8 2q-2.8 0.3-3.8-1.4q-1-1.7-0.7-5.4q0.3-3.6 2-4.6q1.7-1 4.2 0.1q2.5 1.1 2.8 4.4q0.3 3.3-0.7 4.9zM333.6 482.9q0.4 3.3-1.2 5.2q-1.5 1.9-5.3 2.3q-3.7 0.3-7-1.4q-3.2-1.7-1.8-5.6q1.4-4 4.1-4.5q2.7-0.6 6.7 0.1q4 0.6 4.5 3.9zM348 492.9q-5.5 1.4-8.6 0.3q-3-1.1-4-3.9q-1-2.8 2.5-4.7q3.4-1.9 7.3-2.9q4-1 6.6 2.4q2.6 3.5 2.1 5.5q-0.4 1.9-5.9 3.3zM441.9 485.6q1.3 2.7-0.3 5.1q-1.6 2.4-4.4 3.2q-2.8 0.8-5.2-0.5q-2.3-1.3-2.5-4.3q-0.2-3.1 2.1-5.5q2.3-2.4 5.7-1.5q3.4 0.9 4.6 3.5zM448.6 481.2q3.6 0 5.5 1.8q2 1.8 1.4 4.6q-0.6 2.9-3.4 4q-2.7 1.2-5.7 1q-2.9-0.3-4-3.9q-1.2-3.6 0.7-5.6q2-1.9 5.5-1.9zM462.6 492.3q-3.8 0.4-5.2-1.2q-1.5-1.5-1.6-4.3q-0.1-2.9 2.2-4.3q2.3-1.4 5.6-0.9q3.3 0.5 3.8 4.2q0.4 3.6-0.3 4.8q-0.6 1.3-4.5 1.7zM472.4 479.1q2.6-0.2 4.9 2.1q2.3 2.4 1.8 5.4q-0.5 3-3.4 4.3q-2.9 1.2-5.1 0.2q-2.2-1-2.7-3.6q-0.5-2.7 0.7-5.4q1.3-2.8 3.8-3zM481.1 483.1q2.9-2 7.3-1.8q4.3 0.2 6.5 1.8q2.1 1.7 1.3 4.6q-0.7 2.9-6.1 4.3q-5.5 1.4-8-0.2q-2.6-1.6-3.2-4.1q-0.7-2.5 2.2-4.6zM510.6 482.8q1.8 1.5 0.9 4.8q-0.8 3.4-2.9 4.6q-2.1 1.3-6.4 0.7q-4.3-0.7-5.3-4.3q-1.1-3.6 1.1-5.7q2.2-2.2 6.5-2q4.4 0.3 6.1 1.9zM525.8 489.9q-1.8 2.4-6.8 2.7q-5.1 0.2-6.9-1.1q-1.7-1.3-0.6-5q1.1-3.7 4.7-4.7q3.6-1 5.9-1q2.3 0 3.9 3.3q1.5 3.3-0.2 5.8zM544.5 486.9q-1 2.8-6.4 4.5q-5.4 1.7-8.9 0.4q-3.5-1.3-3.4-3.9q0-2.5 3.4-5.3q3.4-2.8 8.3-2.5q4.9 0.3 6.5 2.2q1.5 1.9 0.5 4.6zM555.6 491.9q-4.5 0.5-7.4-1q-3-1.5-2.2-4.6q0.7-3.1 4.2-5q3.4-1.9 7.7-1.6q4.3 0.3 6.3 3.2q2.1 3-1 5.7q-3.1 2.7-7.6 3.3zM566.5 485.5q-1.1-3.7 0.3-5.5q1.5-1.9 6-1.5q4.4 0.3 6.4 2.2q1.9 1.9 1.9 4.5q0 2.6-3.2 3.8q-3.2 1.2-6.8 0.6q-3.6-0.5-4.6-4.1zM308.8 492.2q-0.3 3-4 4.4q-3.7 1.5-8.7 0.9q-5-0.7-5.3-3.8q-0.4-3.1 1.2-5q1.7-1.9 6.1-2.6q4.5-0.8 7.8 1.2q3.2 2 2.9 4.9zM209.3 523.5q-0.7-3.1 0.2-5.7q0.9-2.6 4.7-2.8q3.9-0.2 5.6 1.3q1.8 1.6 1 5.7q-0.8 4-4.1 4.6q-3.3 0.7-5 0.3q-1.7-0.4-2.4-3.4zM221.6 519.5q0.9-3.7 3.1-4q2.1-0.3 5.1 0q2.9 0.3 3.7 4.2q0.8 3.9-0.3 4.8q-1 1-5.2 1.5q-4.2 0.4-5.8-1.2q-1.6-1.7-0.6-5.3zM237.2 525.1q-2.5-1.8-3.2-5.1q-0.7-3.2 1.6-4.2q2.2-1.1 6.3-1.6q4-0.4 5.8 2.2q1.8 2.6 1.1 5.1q-0.6 2.5-4.8 4q-4.2 1.4-6.8-0.4zM255.8 525.6q-2.9 0.4-4.9-0.2q-1.9-0.7-2.2-4.2q-0.4-3.4 1.3-5.3q1.7-1.9 4.7-1.2q2.9 0.7 4.4 2.1q1.5 1.3 0.5 4.9q-1 3.5-3.8 3.9zM259.6 520.6q-1.1-2.4 1-4.7q2.2-2.4 6.2-2.6q4-0.2 6.9 2.6q2.9 2.7 1.5 5.7q-1.4 3-3.4 3.8q-2 0.7-6.6-0.9q-4.6-1.5-5.6-3.9zM275.6 519.4q0.1-3.4 2.3-4.3q2.3-0.8 4-0.5q1.7 0.4 2 3.5q0.3 3.2-0.7 5.7q-0.9 2.4-3.1 2.5q-2.3 0.1-3.5-1.8q-1.1-1.8-1-5.1zM285.5 515.9q1.9-1.8 4.7-1.2q2.8 0.5 4 3.1q1.2 2.6-0.2 5.1q-1.3 2.5-3.4 3.1q-2 0.7-4.8-1.2q-2.8-1.9-2.4-4.6q0.3-2.6 2.1-4.3zM301.5 516.7q4.8-1.6 8.4-1q3.5 0.5 4.4 3.3q0.9 2.8-2.2 5.5q-3 2.7-8.6 2.6q-5.6-0.1-7.1-2.7q-1.6-2.6-0.6-4.4q0.9-1.7 5.7-3.3zM329.4 525.3q-0.9 3-4.3 3.5q-3.3 0.5-6.6-0.8q-3.3-1.3-3.4-4q0-2.8 1.4-4.3q1.3-1.6 4.5-2q3.2-0.5 6.2 2.1q3 2.6 2.2 5.5zM338.9 523.2q0.1 3-1.1 4.7q-1.2 1.7-3.2 1.9q-1.9 0.1-3.5-3.2q-1.5-3.2-1.2-5.3q0.3-2 2.5-3q2.2-1 4.2 0.5q2.1 1.4 2.3 4.4zM338.6 522.8q0.7-3.4 3-4.5q2.2-1 3.6-0.5q1.5 0.4 1.9 4.3q0.5 3.9-0.8 6.1q-1.3 2.2-3.9 1.9q-2.6-0.2-3.6-2q-1-1.8-0.2-5.3zM361.1 521q1.7 2.1 1.1 5.1q-0.5 3-3.3 4q-2.9 1-6.8 0.6q-3.9-0.4-4.8-4.1q-0.9-3.6 1.4-5.1q2.3-1.4 6.5-2q4.3-0.7 5.9 1.5zM366.9 530.8q-1.8-0.4-3.3-3.3q-1.4-2.9-0.9-4.8q0.5-2 4.2-2.9q3.6-1 5.1 0.7q1.5 1.7 1.1 5q-0.4 3.4-2.4 4.5q-2 1.1-3.8 0.8zM445.4 512q4.5 0.3 5 3.2q0.6 2.9-1.5 4.8q-2.1 1.9-6.3 2.8q-4.2 1-5.8-0.8q-1.7-1.7-1.6-5q0.2-3.2 2.9-4.2q2.8-1.1 7.3-0.8zM452.5 517.2q-1.8-3-1.3-5.6q0.5-2.6 4.8-3q4.4-0.4 7.1 1.2q2.8 1.6 2.8 5.2q-0.1 3.6-2.5 4.6q-2.5 1-5.8 0.8q-3.3-0.2-5.1-3.2zM479 519.5q-2.4 1.1-7.1-0.2q-4.7-1.3-5.5-4.7q-0.7-3.4 1.2-4.6q1.9-1.2 5.6-0.9q3.7 0.2 5.8 2.2q2.2 2 2.2 4.6q0.1 2.6-2.2 3.6zM496.4 516.2q-0.4 1.8-4.8 3.6q-4.3 1.7-6.4 0.7q-2.1-1.1-2.8-4.3q-0.8-3.2 0.9-5.2q1.7-2 5.3-2.4q3.7-0.4 6 2.7q2.2 3.1 1.8 4.9zM504.1 508.6q4.3-0.2 7.7 1.1q3.3 1.3 3.6 5.1q0.2 3.7-2 5q-2.2 1.3-8 0.4q-5.8-0.9-7.1-2.7q-1.3-1.7 0.1-5.2q1.4-3.5 5.7-3.7zM516.2 513.8q1-2.7 4.2-3.4q3.1-0.7 4.5 0.8q1.4 1.6 1.7 5.3q0.3 3.8-1.4 4.6q-1.7 0.9-4.8 0.4q-3.2-0.4-4.2-2.7q-1-2.3 0-5zM539.2 521.5q-1.7 1.2-5.8 1.1q-4.1-0.1-5.5-2.8q-1.4-2.8-0.9-5.3q0.6-2.6 5-3q4.5-0.4 6.8 1q2.3 1.5 2.2 4.6q-0.1 3.2-1.8 4.4zM557 520.1q-3.1 2.4-7.5 2.3q-4.4-0.1-6.6-3.2q-2.3-3.1-0.2-5.7q2.1-2.5 6-3.3q3.9-0.8 7.5 0.2q3.7 0.9 3.8 4.1q0 3.3-3 5.6zM563.1 521q-2.5-1.4-2.4-5.1q0.1-3.8 1.6-4.9q1.5-1.2 5-0.8q3.5 0.5 4.3 3.7q0.8 3.1-0.6 5.2q-1.4 2.2-3.4 2.7q-2 0.6-4.5-0.8zM574.8 519.8q-2-1.3-2.3-5.1q-0.3-3.8 2-4.9q2.3-1.1 4.8-1.2q2.5 0 4.2 3.4q1.7 3.5 0.3 5.6q-1.4 2.1-4.3 2.8q-2.8 0.7-4.7-0.6zM589.5 519.8q-5.5-0.5-6.3-2.9q-0.8-2.4 3-5q3.8-2.6 8-3.1q4.2-0.5 7.2 1.2q3 1.6 1.6 5q-1.5 3.4-4.7 4.3q-3.2 1-8.8 0.5zM205.5 535q-2.6-0.7-3.7-3.5q-1.2-2.9-0.3-4.7q0.9-1.9 4.1-2.8q3.1-0.8 4.3 1q1.3 1.9 1.2 4.8q-0.2 3-1.6 4.4q-1.4 1.5-4 0.8zM214.8 535.1q-3.1-1.2-3.5-4.8q-0.3-3.5 0.9-4.5q1.2-0.9 5.2-1.7q4-0.7 6.2 1.2q2.2 1.9 1.4 4.6q-0.8 2.7-3.9 4.6q-3.2 1.8-6.3 0.6zM225.2 528.9q0.8-2.2 4-3.3q3.1-1.1 4.5 0.5q1.3 1.6 1 4.4q-0.4 2.7-2.1 4.5q-1.7 1.7-3.8 1.5q-2.1-0.2-3.3-2.8q-1.2-2.6-0.3-4.8zM236.1 533.5q-2.9-2.2-0.8-5.7q2.2-3.4 6.2-3.8q4-0.4 6.5 0.7q2.5 1.1 3.8 4.6q1.2 3.5-2.9 5.4q-4 1.9-7 1.5q-3-0.4-5.8-2.7zM270.6 528.7q2.4 2.1-0.4 5.3q-2.7 3.2-6.8 3q-4.2-0.2-7.3-2.2q-3-1.9-3-5.6q-0.1-3.6 2.5-5q2.6-1.3 7.6 0.6q5 1.8 7.4 3.9zM272.8 530.5q-2.1-3.6 0.8-5.2q2.9-1.6 7.6-1.5q4.7 0 7.9 2q3.2 1.9 1.9 4.7q-1.4 2.9-4 3.6q-2.7 0.7-7.4 0.4q-4.8-0.3-6.8-4zM305.4 532.5q-1.2 2.2-4.8 3.3q-3.5 1-6.1 0q-2.7-1.1-2.7-5q-0.1-4 3-5.6q3-1.6 5.6-1.2q2.5 0.3 4.4 3.2q1.9 3 0.6 5.3zM316.7 525.4q2.7 1.1 3.4 4.6q0.8 3.6-0.5 5.1q-1.2 1.5-5.8 1q-4.7-0.5-6.6-2.1q-1.9-1.7-1.5-4.3q0.4-2.6 4.4-4q3.9-1.4 6.6-0.3zM326.6 537.3q-3.6-0.4-4.6-2.7q-1-2.3-0.4-4.5q0.5-2.1 2.6-3.1q2.2-1.1 5.3 0.2q3.1 1.3 3.1 4.3q0 3-1.2 4.6q-1.2 1.7-4.8 1.2zM341.7 534.5q-0.5 3.4-1.8 4.5q-1.3 1.2-4.1 0.4q-2.8-0.8-3.3-3.5q-0.5-2.8 1.3-5.4q1.7-2.5 3.6-3q2-0.6 3.4 1.5q1.4 2 0.9 5.5zM341.9 536.7q-0.8-2.8-0.3-4.7q0.5-1.8 2.9-2.5q2.3-0.8 4.4 0.3q2 1.1 2 4.7q0 3.5-1.4 4.9q-1.4 1.3-4.1 0.7q-2.8-0.6-3.5-3.4zM352.6 539.4q-1.3-1.9-1.4-5.5q-0.1-3.6 1.4-4.4q1.4-0.7 4 0.3q2.5 1 3.2 4.5q0.6 3.5-0.3 4.9q-0.9 1.5-3.3 1.8q-2.3 0.3-3.6-1.6zM378.5 533.8q-0.2 3.4-3.4 4.9q-3.1 1.4-8.3 1.5q-5.2 0.2-6.4-3.1q-1.2-3.2 1.3-5.1q2.5-2 8.6-2.9q6.1-0.8 7.2 0.2q1.1 1.1 1 4.5zM383.8 529.2q4-1.9 6.3-0.9q2.3 1 3 4.2q0.7 3.3-0.3 4.8q-1 1.6-5.7 2.3q-4.6 0.7-5.9-1.3q-1.2-2-1.3-4.6q-0.1-2.6 3.9-4.5zM394.6 536.7q-1.5-2-0.5-4.8q1-2.8 4-3.9q3-1 6.2-0.1q3.2 0.8 3.4 5q0.2 4.1-1.2 4.9q-1.3 0.7-5.9 0.7q-4.6 0.1-6-1.8zM422 532.7q-0.8 3.9-2.9 4.1q-2 0.1-6.5-1.3q-4.6-1.4-4.4-4.5q0.3-3 1.9-4.6q1.5-1.7 5.4-1.4q3.8 0.3 5.6 2q1.8 1.8 0.9 5.7zM422.9 531q-0.4-3.8 0.2-5.2q0.7-1.5 4.5-1.8q3.7-0.3 5.9 1.6q2.1 1.9 1.3 4.7q-0.8 2.8-4.2 4.2q-3.5 1.5-5.4 0.9q-1.8-0.6-2.3-4.4zM442 520.9q4.6-0.2 7.5 0.8q2.9 0.9 3.2 4.1q0.3 3.1-3.1 4.6q-3.4 1.5-7.5 1.5q-4 0-5.3-2.4q-1.4-2.5-0.4-5.5q1-3 5.6-3.1zM464.1 523.9q-0.2 3.1-2.7 5.1q-2.4 1.9-5.6 0.7q-3.2-1.2-3.7-3q-0.4-1.8 0.1-4.6q0.6-2.7 4.8-3.3q4.2-0.6 5.8 0.7q1.5 1.3 1.3 4.4zM468.2 518.5q3.9-0.9 8.7 0q4.7 0.8 5.7 4.2q1 3.4-0.9 5q-1.9 1.5-7.8 1.2q-6-0.4-8.1-2q-2.2-1.6-1.8-4.5q0.4-2.9 4.2-3.9zM501.9 520.3q1.9 1.6 1 4.8q-1 3.3-5.4 4.6q-4.3 1.3-7.3 0.7q-3-0.7-4.8-4.5q-1.9-3.8-0.3-5.1q1.7-1.3 8.3-1.7q6.6-0.3 8.5 1.2zM518.8 520.1q5.2 1.4 5.2 4.4q0 3-2.5 4.4q-2.6 1.4-7.6 1.3q-5.1 0-7.5-2.3q-2.5-2.4-0.8-5.4q1.7-3 4.8-3.4q3.1-0.4 8.4 1zM526.5 531.2q-2.4-1.6-2.3-4.5q0.2-2.9 1-4.6q0.8-1.6 3.8-1.8q3.1-0.2 4.5 1.6q1.4 1.7 1.1 5q-0.2 3.3-2.9 4.6q-2.7 1.2-5.2-0.3zM539.2 519.8q2.9-1.1 7 0.9q4.1 2 4.1 4.9q0 2.9-2.3 4.5q-2.2 1.6-6.8 0.8q-4.5-0.8-6-2.7q-1.4-1.8-0.2-4.6q1.3-2.7 4.2-3.8zM550 522.9q1-2.2 4-2.7q3.1-0.5 5.2 1.7q2.1 2.1 1.9 4.4q-0.1 2.3-2 3.7q-1.8 1.4-5 0.9q-3.1-0.5-4.1-3.1q-0.9-2.7 0-4.9zM567.6 531q-2.6 0.7-4.5-2.5q-1.8-3.1-1.5-5.3q0.4-2.2 3.6-3.7q3.2-1.5 5.3 0q2.1 1.6 2.9 5q0.8 3.4-1.2 4.6q-2 1.3-4.6 1.9zM578.8 518.8q4.1-1 7-1q2.8 0.1 4.3 3.7q1.5 3.6-1.1 5.5q-2.5 1.9-7.5 2q-5.1 0.1-6.9-1.3q-1.7-1.5-0.8-4.7q0.8-3.1 5-4.2zM595.2 517q2.8 0.4 4.5 1.5q1.7 1.2 1.3 4.3q-0.3 3-3.1 4.7q-2.8 1.8-4.7 0.7q-1.8-1.1-2.4-3.7q-0.6-2.6 0.5-5.3q1.1-2.6 3.9-2.2zM608.2 527.7q-3 0.6-5-0.6q-2.1-1.2-2.6-4.4q-0.5-3.2 1.3-4.6q1.8-1.3 5-1.2q3.1 0.1 4.4 1.8q1.3 1.7 0.7 5.1q-0.7 3.3-3.8 3.9zM240.1 536.7q1.8 2.9 2.1 4.5q0.2 1.7-2.9 3.1q-3.1 1.4-4.5 0.9q-1.3-0.5-2.4-3.7q-1.1-3.1-0.2-5q1-1.8 3.6-2.3q2.5-0.5 4.3 2.5zM249.6 544.3q-1.4 1.4-3.5 1.5q-2.1 0.1-3.3-2.5q-1.3-2.5-0.9-4.9q0.5-2.4 3.2-3.1q2.7-0.7 4.1 0.7q1.4 1.4 1.6 4.1q0.2 2.8-1.2 4.2zM258.9 533.5q4 0.8 5.2 3.3q1.3 2.4 0.2 5.1q-1.1 2.6-5.6 2.7q-4.5 0.2-6.1-1.1q-1.5-1.2-1.3-4.5q0.2-3.3 1.9-4.8q1.7-1.4 5.7-0.7zM265.5 535.4q0.6-1.7 3.9-1.6q3.2 0 4.9 2.2q1.7 2.3 1.5 5q-0.2 2.7-2.5 3.6q-2.3 0.9-5.2-0.2q-3-1.2-3.1-4.3q-0.2-3.1 0.5-4.7zM278.8 534.3q2.7-0.9 3.8 0.2q1.2 1 1.9 4.6q0.6 3.6-0.6 4.8q-1.3 1.1-4 1.1q-2.7 0-4-2.1q-1.3-2.1-0.5-4.9q0.7-2.7 3.4-3.7zM286.2 533.4q2.1-1.5 4.2-0.6q2 1 3.1 3.7q1.1 2.8 0.2 4.9q-0.9 2.1-3.6 2.5q-2.7 0.3-3.8-0.4q-1.1-0.8-1.6-4.7q-0.5-3.9 1.5-5.4zM293.1 540q0.4-2.7 2.5-4.4q2.1-1.7 5.7-0.6q3.6 1 4.1 4.5q0.4 3.6-0.5 5q-1 1.3-4.6 1.7q-3.6 0.4-5.7-1.5q-2-1.9-1.5-4.7zM308.9 535q1.6-0.8 5.8 0.2q4.2 1.1 5.2 3.6q1 2.5-1 5.3q-2.1 2.9-5.8 2.3q-3.8-0.6-5.8-2.4q-2-1.8-1.1-5q1-3.1 2.7-4zM321.4 546.1q-1.5-2.2-1-4.9q0.5-2.6 5.4-3.5q4.9-0.9 7.1 0.3q2.3 1.3 2.2 4.4q0 3.1-1.8 4.5q-1.8 1.3-6.1 1.3q-4.3 0.1-5.8-2.1zM335.6 542.6q0.2-3.6 4.1-4.6q3.9-1 7.9 0.3q4.1 1.3 6.1 3.4q2 2.1 0.2 5q-1.8 2.9-5.9 3q-4.2 0.1-8.4-1.7q-4.3-1.7-4-5.4zM364.6 548.8q-2.4 1.5-5.2 1.2q-2.7-0.4-4.5-2q-1.8-1.5-0.1-5.5q1.6-3.9 3.2-4.6q1.7-0.7 5 0.7q3.4 1.4 3.8 5.1q0.3 3.7-2.2 5.1zM372.6 549.4q-4.5-1.4-5.1-4.9q-0.7-3.5 1.6-5q2.4-1.6 7.8-1.2q5.5 0.5 7.1 2.7q1.6 2.1 0.6 4.7q-1.1 2.6-4.4 3.8q-3.2 1.2-7.6-0.1zM450.1 530.9q4.7-0.8 7.8 0.1q3 1 3.3 3.8q0.4 2.8-2.9 5.1q-3.3 2.3-7 1.9q-3.7-0.4-4.6-2.2q-0.9-1.8-1.1-4.8q-0.2-3.1 4.5-3.9zM468.1 540.5q-4.1-0.8-5.3-4.7q-1.2-3.9 1.1-5.9q2.2-2 7-1.6q4.7 0.4 7 2.7q2.2 2.4 1.7 4.8q-0.4 2.3-3.8 3.9q-3.5 1.5-7.7 0.8zM481.1 538.1q-1-1.6-0.8-4.7q0.2-3.1 4.3-4.3q4.2-1.1 6 0.4q1.7 1.6 2.3 4.5q0.5 3-1.1 4.6q-1.7 1.6-5.7 1.4q-3.9-0.2-5-1.9zM508.9 538.3q-4.3 2.1-8.1 1.1q-3.8-1-5.5-3.8q-1.7-2.8-0.4-5q1.3-2.1 6.2-3q5-0.8 9.2 1.4q4.2 2.2 3.6 4.8q-0.6 2.5-5 4.5zM528.7 531q2.4 1.5 1.9 4.9q-0.5 3.4-4.1 5q-3.6 1.6-7.7 0.7q-4.1-0.9-5-3.8q-0.9-2.9 1.2-5.3q2.1-2.5 6.7-2.7q4.6-0.3 7 1.2zM543 530.1q4.4 0.2 6.3 2.8q1.9 2.6-0.3 5.5q-2.1 2.8-7.2 3.1q-5.2 0.2-8.1-1.6q-2.9-1.9-2.3-5.3q0.6-3.4 4-4.1q3.3-0.6 7.6-0.4zM555.9 540.7q-3.8-1.1-5.2-3.7q-1.5-2.5 0.3-5.4q1.7-2.9 5.2-3q3.5-0.1 6.7 2.4q3.2 2.5 2.9 5.4q-0.4 2.8-3.3 4.1q-2.8 1.2-6.6 0.2zM573.2 538.5q-1.4 1.8-3.8 1.6q-2.4-0.2-3.5-2.1q-1.2-1.9-0.7-4.2q0.4-2.3 2.2-3.7q1.7-1.4 4.6-0.3q2.9 1 2.8 4q-0.2 2.9-1.6 4.7zM593.2 537.8q-1.8 1.3-8.7 0.8q-6.9-0.5-8.1-2.1q-1.3-1.5-0.5-4.9q0.7-3.4 3.7-4.1q3-0.7 8.6 0.8q5.5 1.5 6.2 4.8q0.7 3.3-1.2 4.7zM596.8 539.7q-1.6-0.8-2.2-4.2q-0.6-3.3 0.2-5.2q0.7-1.9 3.6-1.9q2.8 0 4 1.6q1.1 1.5 0.9 5.2q-0.2 3.8-2.6 4.6q-2.4 0.7-3.9-0.1zM353.2 555.7q3.2 1 3.3 4.8q0.1 3.7-1.3 4.7q-1.3 1-6.1 1q-4.7 0.1-5.7-3.3q-0.9-3.4-0.5-4.9q0.4-1.4 3.7-2.4q3.4-1 6.6 0.1zM318.7 570.5q0.1-2.8 1.4-3.7q1.4-1 6.1-1.2q4.8-0.2 6.7 0.9q1.8 1 0.6 3.4q-1.2 2.4-3.8 3.6q-2.6 1.1-6.8 0.5q-4.3-0.7-4.2-3.5zM334.5 568q1.7-2.1 4.9-2.9q3.2-0.7 5.5 0.4q2.3 1.2 2.2 3.7q-0.1 2.5-2 3.8q-1.9 1.3-5.3 1.3q-3.5 0.1-5.2-2q-1.8-2.1-0.1-4.3zM364.2 573.9q-1.4 2.4-6.4 2.6q-5 0.2-6.9-1.2q-2-1.4-2.9-3.1q-0.8-1.7 1.7-3.3q2.5-1.6 7.9-1.4q5.4 0.1 6.8 2q1.3 2-0.2 4.4zM367 575q-1.5-1.9-0.6-4.6q0.9-2.7 3.9-2.9q3-0.1 6.1 2q3.1 2.2 2.5 4q-0.5 1.8-2.4 3q-1.8 1.1-4.9 0.8q-3.1-0.3-4.6-2.3zM386.8 577.8q-2.1 1.4-3.9 1q-1.9-0.4-2.9-2.6q-1-2.2-0.2-4q0.7-1.8 3.1-2.2q2.3-0.3 4.2 0.8q1.9 1.1 1.8 3.3q-0.1 2.3-2.1 3.7zM396.2 570.9q3.4 1.2 4.3 3.6q0.8 2.4-1.5 4q-2.4 1.6-5 1q-2.7-0.6-4.3-2.4q-1.6-1.7-0.9-4q0.7-2.2 2.3-2.9q1.7-0.6 5.1 0.7zM403.1 581.1q-1.9-1-2.3-3.7q-0.4-2.7 1-4q1.4-1.4 3.1-1.4q1.7-0.1 3.7 1.6q2.1 1.7 1.4 3.9q-0.6 2.1-2.8 3.4q-2.1 1.2-4.1 0.2zM427.5 574.9q2.9 1.2 2.3 2.9q-0.7 1.7-4.3 3.4q-3.6 1.7-8.1 1.3q-4.5-0.4-6.5-3q-2-2.5 0-4q2-1.6 7.9-1.7q5.8-0.2 8.7 1.1zM433 572.6q2.7-0.7 3.9-0.5q1.3 0.2 1.9 3.5q0.5 3.3-1.2 4.3q-1.6 1-3.2 1.2q-1.7 0.2-3.2-1.9q-1.5-2.1-1.2-4q0.3-1.9 3-2.6zM438.2 576.3q-0.1-2 1.9-3.3q2-1.3 5.4-1q3.3 0.4 3.6 1.8q0.3 1.5 0.4 3.4q0.1 1.9-3.7 2.8q-3.9 1-5.7-0.4q-1.7-1.3-1.9-3.3zM524 563.5q1.1 0.9 1.3 3.8q0.2 2.9-1.3 3.6q-1.5 0.6-3.8 0.6q-2.3 0-3.2-2.6q-0.8-2.7-0.2-4q0.6-1.3 3.3-1.9q2.8-0.5 3.9 0.5zM532 571.2q-3.9 0.2-5.9-1.4q-2-1.5-1.6-3.5q0.4-2 4.8-3.5q4.4-1.4 6.4-0.8q1.9 0.7 2.5 3.2q0.7 2.4-0.7 4.1q-1.5 1.7-5.5 1.9zM539.2 566.4q0.7-2.3 4.4-3.2q3.8-1 5.6-0.7q1.8 0.3 2.5 2.9q0.7 2.6-1.5 3.9q-2.1 1.3-5 2q-2.8 0.7-4.7-1q-2-1.7-1.3-3.9zM571 569.2q-0.5 1.4-5 2.3q-4.5 1-9.5 0q-5-1.1-5-3.5q0-2.5 2.5-3.6q2.6-1.2 7.5-1.5q4.9-0.4 7.4 2.2q2.5 2.6 2.1 4.1zM589 563.2q1.7 1 1.2 4.2q-0.6 3.2-4.8 3.8q-4.3 0.7-7.9 0.8q-3.7 0.2-5-2.8q-1.2-3 1.1-4.1q2.4-1.1 8-2q5.6-0.8 7.4 0.1zM350.6 583.7q-1.4-2.3-0.4-5.6q1-3.3 4.2-3.6q3.3-0.2 4.6 0.8q1.4 1.1 1.6 4.5q0.2 3.3-1.4 4.7q-1.6 1.4-4.4 1.5q-2.8 0-4.2-2.3zM378.5 587.1q-2.3 1.7-7.4 1.7q-5.1 0.1-8.2-3q-3-3.2-1.5-5.3q1.5-2.1 4.7-2.8q3.3-0.7 8.7 1.3q5.4 1.9 5.7 4.1q0.3 2.3-2 4zM397.3 586.5q-1.6 1.6-5.2 2.8q-3.5 1.2-7.2 0.4q-3.8-0.8-3.8-4.8q0.1-4 2.4-5.4q2.3-1.4 6.4-1.6q4.1-0.2 6.5 3.3q2.5 3.6 0.9 5.3zM406.9 591q-1.8 0.1-4.9-1q-3.2-1-3.8-3.8q-0.6-2.7 1-4.8q1.6-2.2 5.4-1.7q3.8 0.4 5.4 2.3q1.7 1.8 0.1 5.3q-1.5 3.5-3.2 3.7zM421 583.6q1.5 1.9 0.9 4.8q-0.5 2.9-4 4.1q-3.4 1.1-5.1-0.4q-1.7-1.5-1.7-4.8q-0.1-3.3 1.6-4.9q1.7-1.7 4.2-1.2q2.6 0.5 4.1 2.4zM430.5 580.8q2.2 1.1 2.9 3.8q0.7 2.8-0.9 5.4q-1.7 2.6-4.1 3q-2.5 0.3-4.6-2q-2.1-2.2-1.6-5.9q0.5-3.6 3.3-4.5q2.9-0.9 5 0.2zM439.2 582q4.6-0.9 6.4 0.7q1.9 1.6 1.9 4.8q0 3.1-3.4 5q-3.4 1.8-6.2 1.1q-2.7-0.6-3.9-3.4q-1.1-2.7-0.2-5q0.8-2.3 5.4-3.2zM466.6 583.7q0.2 2.9-2.5 5.5q-2.6 2.6-7.9 2.8q-5.3 0.3-7.1-2.5q-1.7-2.8-1.3-4.6q0.4-1.8 5.4-3.6q5-1.8 9-1.2q4.1 0.7 4.4 3.6zM475.1 577.2q4.5-0.2 7 1.9q2.4 2.2 2.1 5q-0.3 2.9-5.1 4.7q-4.7 1.7-7.6 0.6q-2.8-1.1-4-4.7q-1.2-3.6 1-5.4q2.2-1.8 6.6-2.1zM489 573.9q2.5-0.2 4.1 1.6q1.6 1.9 1.4 5.2q-0.1 3.3-2.3 4.5q-2.1 1.2-5-0.3q-2.9-1.5-3.5-4.6q-0.6-3 1.1-4.6q1.7-1.6 4.2-1.8zM495.1 579.9q-0.5-3.3 1.4-4.9q1.8-1.6 6.7-1.4q5 0.2 6.8 1.9q1.8 1.8 0.9 5.3q-0.9 3.5-4 3.8q-3.1 0.3-7.1-0.6q-4.1-0.8-4.7-4.1zM512.2 576.8q-0.1-3.8 3.5-4.5q3.5-0.7 8.3 0.4q4.9 1 6.7 3.2q1.8 2.1-0.3 5.3q-2.1 3.3-7.1 2.9q-5-0.4-8-2q-2.9-1.6-3.1-5.3zM550.2 578.2q0 3-3 4.2q-3 1.2-9 0.3q-5.9-0.9-6.2-3.2q-0.3-2.3 1.9-5.1q2.1-2.9 6.5-2.5q4.4 0.3 7.1 1.8q2.8 1.5 2.7 4.5zM560.2 571.5q2 1.7 1.5 5.2q-0.5 3.4-2.2 4.8q-1.7 1.5-4.4 0.7q-2.7-0.7-3.9-2.8q-1.1-2.1 0.5-5.3q1.5-3.2 4-3.7q2.4-0.5 4.5 1.1zM565.4 571.3q2.3-0.3 4.1 2.5q1.7 2.7 1 5.8q-0.6 3.1-3.1 3.4q-2.5 0.2-3.6-0.3q-1-0.5-2-3.7q-0.9-3.2 0.2-5.3q1.1-2.1 3.4-2.4zM574.5 581.8q-3.9-1.4-3.6-4.8q0.2-3.4 2.9-4.8q2.7-1.3 7.1-1.2q4.4 0.2 6.9 2.5q2.5 2.3 1.9 5.3q-0.6 3.1-5.9 3.7q-5.4 0.6-9.3-0.7zM409.6 597.3q-1.6 2.8-7 3.5q-5.3 0.6-7.7-0.6q-2.4-1.2-3-4.2q-0.6-3 2-4.5q2.5-1.5 8.1-1q5.6 0.5 7.4 2.3q1.7 1.7 0.2 4.5zM412 596.1q0.4-2.5 4.8-3.6q4.3-1.2 8.9-0.9q4.6 0.4 4.5 3.1q-0.1 2.7-0.6 4.1q-0.5 1.3-6.1 2.4q-5.7 1-8.7-0.8q-3.1-1.8-2.8-4.3zM432 598.4q-1.7-1.4-0.2-4.3q1.4-2.9 6.6-2.9q5.1 0.1 7.7 1.3q2.5 1.2 1.8 3.5q-0.8 2.2-3 3.8q-2.2 1.5-6.7 0.7q-4.5-0.7-6.2-2.1zM513.7 584.1q1-2.3 3.1-2.5q2.1-0.2 4.5 0.9q2.5 1 2.3 3.9q-0.2 2.9-1.2 4.3q-1 1.4-4.4 0.9q-3.5-0.5-4.4-2.8q-0.9-2.3 0.1-4.7zM537 584.8q0.4 2.6-2 4.7q-2.4 2.1-6.1 1.5q-3.7-0.6-4.7-2q-1.1-1.3-0.3-4q0.7-2.6 3-3.5q2.3-1 6.1-0.2q3.7 0.8 4 3.5zM543 582.3q2.7 0.5 2.7 3.7q-0.1 3.3-0.7 4.6q-0.5 1.4-3.1 1.9q-2.6 0.4-3.9-1.7q-1.4-2.1-1.4-4.5q0-2.4 1.9-3.5q1.8-1 4.5-0.5zM562.4 583.1q2.4 0.9 2.9 3.9q0.5 3.1-4.7 4.8q-5.1 1.7-8.6 1.1q-3.5-0.6-4.4-3.7q-0.9-3 0.6-4.9q1.5-1.9 6.7-2q5.1-0.1 7.5 0.8zM584.4 590q-1.3 2.7-4.9 2.5q-3.6-0.2-8.5-2q-4.8-1.7-4.9-4.5q-0.1-2.9 2.1-4q2.3-1 7.1-0.5q4.8 0.6 7.6 3.2q2.8 2.5 1.5 5.3zM552 618.9q3.4-0.3 6.5 1.3q3.2 1.7 2.7 3.7q-0.4 2-3.7 2.7q-3.3 0.8-6.5 0q-3.2-0.7-3.6-2q-0.4-1.3 0.5-3.4q0.8-2.1 4.1-2.3zM570.4 625.8q-1.8 1.4-4.8 1.5q-3 0.1-4.4-1.7q-1.3-1.7-0.4-3.6q0.8-1.8 4-2.7q3.2-0.9 5.1-0.1q1.8 0.9 2.1 3q0.2 2.2-1.6 3.6zM515.5 628.2q2.8 0.7 4.3 2.9q1.6 2.3-0.2 3.9q-1.8 1.5-6.1 1.9q-4.3 0.3-6.4-0.7q-2.1-1-1.9-3.2q0.3-2.3 3.9-3.8q3.7-1.6 6.4-1zM522.8 637.5q-2.9-1.1-2.7-3.1q0.3-2 1.7-3.7q1.3-1.7 3-1.7q1.6 0.1 3.2 1.9q1.5 1.8 0.9 4.1q-0.6 2.2-1.9 2.9q-1.3 0.6-4.2-0.4zM535.2 629.8q2.1 1 3.2 2.8q1.1 1.8-0.1 3.8q-1.2 2-4.1 1.9q-3-0.1-3.8-0.6q-0.9-0.6-0.7-3.5q0.2-2.8 1.8-4.1q1.7-1.2 3.7-0.3zM549.4 638.1q-2.7 0.1-6.8-1.1q-4.1-1.3-4.2-4.2q-0.1-2.9 2.2-4q2.3-1 6.4 0q4.1 0.9 5.5 3.2q1.3 2.2 0.4 4.1q-0.9 1.9-3.5 2zM557.8 629.4q2.7-0.2 4.2 1.3q1.5 1.4 0.9 3.8q-0.6 2.5-2.3 3q-1.7 0.5-3.5 0.5q-1.7-0.1-3-3.2q-1.2-3.2-0.1-4.3q1.1-1 3.8-1.1zM563 642.8q0.7 2.1-1 3.6q-1.6 1.5-5.2 1.4q-3.6-0.2-6.3-1.6q-2.8-1.5-2.1-4q0.7-2.6 2.6-3q1.8-0.4 6.5 0.6q4.7 1 5.5 3z"/><circle cx="-29.6" cy="397" r="1.3"/><circle cx="317.8" cy="501.9" r="2"/><circle cx="98.4" cy="243.3" r="1.4"/><circle cx="434.4" cy="286.5" r="1.6"/><circle cx="206.8" cy="339.8" r="1.9"/><circle cx="568.4" cy="608.4" r="2.3"/><circle cx="212.5" cy="334.1" r="2.2"/><circle cx="364.9" cy="346.1" r="2.2"/><circle cx="-5" cy="305" r="2"/><circle cx="54.1" cy="249.4" r="2.2"/><circle cx="529.7" cy="498.2" r="1.7"/><circle cx="645.2" cy="402.1" r="2.4"/><circle cx="240.6" cy="403.9" r="1.7"/><circle cx="410.3" cy="302.2" r="1.7"/><circle cx="-64.6" cy="292.9" r="1.3"/><circle cx="173.1" cy="289.1" r="1.4"/><circle cx="-48" cy="104" r="1.3"/><circle cx="240.1" cy="439" r="1.6"/><circle cx="539.5" cy="345.3" r="2.2"/><circle cx="177.8" cy="398.3" r="2"/><circle cx="479.2" cy="607.7" r="1.8"/><circle cx="41.5" cy="461.6" r="2.2"/><circle cx="33.9" cy="337.4" r="1.9"/><circle cx="264.7" cy="386.8" r="1.4"/><circle cx="199.4" cy="504.2" r="2.5"/><circle cx="311" cy="447.8" r="1.9"/><circle cx="145.5" cy="244.3" r="2.3"/><circle cx="599.8" cy="447.5" r="1.2"/><circle cx="87.8" cy="299.5" r="2.4"/><circle cx="54.5" cy="341.6" r="2.3"/><circle cx="467.6" cy="298.7" r="1.4"/><circle cx="234.6" cy="335.6" r="1.5"/><circle cx="179.5" cy="344.2" r="1.4"/><circle cx="458" cy="614.7" r="1.7"/><circle cx="516.7" cy="384.7" r="2.3"/><circle cx="479.2" cy="502.6" r="1.9"/><circle cx="53.9" cy="351.3" r="1.4"/><circle cx="234.4" cy="345" r="2"/><circle cx="159.6" cy="250.1" r="2.2"/><circle cx="243.8" cy="295.7" r="1.3"/><circle cx="206.4" cy="288.8" r="1.3"/><circle cx="232.1" cy="505.2" r="2.3"/><circle cx="4.3" cy="349.8" r="2.2"/><circle cx="398" cy="501.9" r="1.5"/><circle cx="519" cy="611.9" r="2.2"/><circle cx="173.2" cy="300" r="1.4"/><circle cx="32.5" cy="447.6" r="1.9"/><circle cx="67.6" cy="241" r="1.3"/><circle cx="-124.3" cy="348.1" r="1.6"/><circle cx="225.2" cy="400.3" r="2.5"/><circle cx="196.8" cy="334.1" r="2.3"/><circle cx="-23.6" cy="400.1" r="1.7"/><circle cx="245.4" cy="204.1" r="1.8"/><circle cx="258.7" cy="388" r="2.3"/><circle cx="412.4" cy="559.2" r="1.8"/><circle cx="152.7" cy="499.2" r="1.2"/><circle cx="632.6" cy="396.2" r="2"/><circle cx="171.6" cy="496.1" r="2.2"/><circle cx="63.2" cy="344.1" r="2.4"/><circle cx="574.2" cy="497" r="1.7"/><circle cx="191" cy="298.4" r="2.1"/><circle cx="463.7" cy="393.6" r="1.3"/><circle cx="212.3" cy="347.6" r="1.8"/><circle cx="202" cy="284.8" r="2.2"/><circle cx="387.1" cy="558" r="1.6"/><circle cx="28.3" cy="456.8" r="1.8"/><circle cx="431.3" cy="305.7" r="1.5"/><circle cx="5" cy="395.4" r="1.2"/><circle cx="520.5" cy="548.7" r="1.6"/><circle cx="-5.9" cy="345.3" r="1.4"/><circle cx="395.1" cy="441.2" r="1.7"/><circle cx="-56.6" cy="197.7" r="2.1"/><circle cx="14.9" cy="305.4" r="2.1"/><circle cx="421.5" cy="286" r="2"/><circle cx="275.1" cy="351.5" r="2"/><circle cx="160.7" cy="508.9" r="1.9"/><circle cx="207.8" cy="389.4" r="1.6"/><circle cx="491.7" cy="563.4" r="1.5"/><circle cx="-9.4" cy="400.8" r="2.1"/><circle cx="350.7" cy="512.5" r="2.4"/><circle cx="559" cy="496.9" r="1.5"/><circle cx="475.8" cy="614.5" r="2.5"/><circle cx="436.3" cy="508.6" r="1.3"/><circle cx="301" cy="402.3" r="1.3"/><circle cx="4.5" cy="436.6" r="1.3"/><circle cx="399.3" cy="342.8" r="1.4"/><circle cx="245.8" cy="451.7" r="2.5"/><circle cx="425.3" cy="346.7" r="1.3"/><circle cx="457.5" cy="552.7" r="1.4"/><circle cx="419.2" cy="550.5" r="1.5"/><circle cx="597.8" cy="502.3" r="1.6"/><circle cx="279.8" cy="291.7" r="2.4"/><circle cx="413.7" cy="345" r="1.6"/><circle cx="138.9" cy="243.5" r="1.3"/><circle cx="-79.7" cy="299.7" r="1.9"/><circle cx="293.6" cy="353" r="2.4"/><circle cx="412.4" cy="502" r="2.3"/><circle cx="588.9" cy="546" r="2.1"/><circle cx="362.2" cy="453" r="1.9"/><circle cx="-89.2" cy="294" r="2.5"/><circle cx="530.2" cy="442.5" r="2.5"/><circle cx="416.3" cy="568.6" r="2.2"/><circle cx="-92.2" cy="302.5" r="2.4"/><circle cx="155.4" cy="447.4" r="1.6"/><circle cx="540.3" cy="613.1" r="1.2"/><circle cx="370.2" cy="453.2" r="1.5"/><circle cx="528.6" cy="617.4" r="1.7"/><circle cx="107.2" cy="251.3" r="2.2"/><circle cx="583.4" cy="448.5" r="2.2"/><circle cx="493.8" cy="447.9" r="2.3"/><circle cx="307" cy="557.4" r="1.2"/><circle cx="396" cy="246.3" r="1.6"/><circle cx="403.4" cy="514.7" r="1.9"/><circle cx="-22.4" cy="250.1" r="1.7"/><circle cx="187.7" cy="499.4" r="2.3"/><circle cx="520.7" cy="348.2" r="1.6"/><circle cx="181" cy="455.3" r="1.2"/><circle cx="611.4" cy="396.6" r="1.4"/><circle cx="-67.6" cy="303.3" r="1.9"/><circle cx="525.5" cy="399.4" r="2"/><circle cx="187.6" cy="508.6" r="1.3"/><circle cx="385.1" cy="456.5" r="1.7"/><circle cx="210.9" cy="396.3" r="2.2"/><circle cx="158.7" cy="300.1" r="1.8"/><circle cx="33.9" cy="194.4" r="1.3"/><circle cx="196.9" cy="248" r="2.1"/><circle cx="29.1" cy="304" r="2"/><circle cx="410.7" cy="454.3" r="2.5"/><circle cx="262.4" cy="351.9" r="1.9"/><circle cx="-3.2" cy="450.4" r="1.4"/><circle cx="16.6" cy="249.5" r="1.6"/><circle cx="343.3" cy="508.2" r="2.4"/><circle cx="145.1" cy="447.1" r="1.9"/><circle cx="96.5" cy="193.5" r="1.3"/><circle cx="162.5" cy="493.9" r="1.9"/><circle cx="0" cy="401" r="2.2"/><circle cx="69" cy="392" r="2.1"/><circle cx="364.1" cy="250.1" r="1.8"/><circle cx="117.8" cy="254" r="2.3"/><circle cx="425.4" cy="499" r="1.9"/><circle cx="273.3" cy="289.3" r="1.9"/><circle cx="527.7" cy="349.3" r="1.5"/><circle cx="175.2" cy="236.1" r="2.1"/><circle cx="457.6" cy="440.5" r="2.4"/><circle cx="187.8" cy="250.7" r="1.7"/><circle cx="312.1" cy="299.3" r="1.3"/><circle cx="151.2" cy="492.9" r="2.4"/><circle cx="417" cy="460.7" r="1.3"/><circle cx="259.8" cy="445.2" r="2.3"/><circle cx="205.8" cy="488.6" r="2.2"/><circle cx="382.7" cy="348.3" r="1.7"/><circle cx="-22.2" cy="448" r="2.2"/><circle cx="147.2" cy="502.2" r="1.3"/><circle cx="414" cy="443.8" r="2.3"/><circle cx="39.6" cy="188.3" r="1.6"/><circle cx="238.5" cy="287.3" r="1.5"/><circle cx="24.2" cy="338.7" r="1.4"/><circle cx="239.7" cy="302.9" r="1.7"/><circle cx="62.3" cy="250.4" r="2.3"/><circle cx="-19" cy="303.3" r="2.1"/><circle cx="-58.1" cy="250.1" r="2.2"/><circle cx="223.7" cy="387.3" r="1.7"/><circle cx="480.2" cy="448.9" r="1.2"/><circle cx="85.6" cy="183.3" r="1.6"/><circle cx="176.9" cy="254.6" r="1.3"/><circle cx="5.8" cy="201.6" r="1.9"/><circle cx="501.6" cy="600.2" r="2.1"/><circle cx="166.3" cy="290.9" r="1.8"/><circle cx="441.6" cy="348.4" r="2.3"/><circle cx="231.5" cy="393.9" r="1.9"/><circle cx="36.8" cy="306.3" r="2.2"/><circle cx="366" cy="554.9" r="1.4"/><circle cx="185.8" cy="392.6" r="1.6"/><circle cx="78" cy="343.2" r="2.2"/><circle cx="490" cy="356.5" r="2.1"/><circle cx="7.5" cy="460.6" r="1.8"/><circle cx="8" cy="358.6" r="2"/><circle cx="475.7" cy="399.5" r="2.1"/><circle cx="384.4" cy="297.3" r="2.2"/><circle cx="-69.2" cy="199.6" r="2.1"/><circle cx="341.7" cy="401.9" r="1.9"/><circle cx="0.8" cy="341.2" r="2.3"/><circle cx="387.7" cy="548.9" r="1.7"/><circle cx="410" cy="511.8" r="2.3"/><circle cx="24.9" cy="447.4" r="2.4"/><circle cx="186.5" cy="343.4" r="2.2"/><circle cx="169.2" cy="487.5" r="2.3"/><circle cx="144.3" cy="341.7" r="2.1"/><circle cx="57.5" cy="194" r="1.5"/><circle cx="167" cy="245.7" r="1.8"/><circle cx="62.3" cy="184.1" r="1.5"/><circle cx="226.1" cy="332.2" r="2.2"/><circle cx="428.9" cy="550.7" r="1.9"/><circle cx="-7.5" cy="200.9" r="2.5"/><circle cx="549.7" cy="553.9" r="2"/><circle cx="-18.5" cy="244.2" r="2.5"/><circle cx="-32" cy="305.9" r="1.2"/><circle cx="282.2" cy="504.1" r="1.8"/><circle cx="436.3" cy="453.2" r="1.5"/><circle cx="184.4" cy="404.3" r="1.4"/><circle cx="186.4" cy="201.1" r="2.3"/><circle cx="206.6" cy="502" r="2.3"/><circle cx="-16.2" cy="358.8" r="1.6"/><circle cx="306.4" cy="304.8" r="1.4"/><circle cx="498.6" cy="394.3" r="1.8"/><circle cx="-131.3" cy="341.8" r="1.2"/><circle cx="-25.7" cy="199" r="2.1"/><circle cx="222.9" cy="287.3" r="2"/><circle cx="232.5" cy="298.2" r="2.4"/><circle cx="226.1" cy="489.8" r="1.3"/><circle cx="501.4" cy="545.3" r="2.3"/><circle cx="435.2" cy="553.3" r="2"/><circle cx="-30.6" cy="245.9" r="2"/><circle cx="96" cy="251.3" r="2.5"/><circle cx="518" cy="396.5" r="1.6"/><circle cx="74.8" cy="242.3" r="2.2"/><circle cx="151.9" cy="240.3" r="1.3"/><circle cx="561.9" cy="449.7" r="1.3"/><circle cx="175.8" cy="198.8" r="2.4"/><circle cx="140.1" cy="497.2" r="2.4"/><circle cx="416.1" cy="437" r="1.6"/><circle cx="330" cy="450.8" r="1.4"/><circle cx="59.7" cy="435.7" r="1.9"/><circle cx="16.2" cy="242.4" r="2.1"/><circle cx="127.5" cy="502.8" r="2.2"/><circle cx="178.5" cy="486.9" r="1.8"/><circle cx="262" cy="396.5" r="2.1"/><circle cx="407" cy="551" r="2"/><circle cx="597.4" cy="494.5" r="2.3"/><circle cx="57.3" cy="188.7" r="1.5"/><circle cx="291.6" cy="296.5" r="2.2"/><circle cx="520.7" cy="405.6" r="1.8"/><circle cx="245.3" cy="350.9" r="1.2"/><circle cx="31.1" cy="202.7" r="2"/><circle cx="486" cy="609.7" r="1.8"/><circle cx="392.9" cy="293" r="1.8"/><circle cx="528.9" cy="340.7" r="2"/><circle cx="28.8" cy="463.4" r="2.3"/><circle cx="607.8" cy="491.5" r="1.6"/><circle cx="555.7" cy="387.2" r="1.5"/><circle cx="157.6" cy="291.2" r="2.1"/><circle cx="34.4" cy="348.3" r="1.9"/><circle cx="478" cy="567" r="2"/><circle cx="29.3" cy="350.8" r="1.3"/><circle cx="209.9" cy="451.7" r="1.3"/><circle cx="221.5" cy="493.7" r="2.1"/><circle cx="165.2" cy="339" r="1.7"/><circle cx="48" cy="204.5" r="2.3"/><circle cx="117.7" cy="296.3" r="2"/><circle cx="458.9" cy="299.7" r="1.6"/><circle cx="613.3" cy="446.6" r="1.9"/><circle cx="140.9" cy="490.2" r="2"/><circle cx="-53.2" cy="306.9" r="2.1"/><circle cx="447.4" cy="560.8" r="1.4"/><circle cx="92.4" cy="448.4" r="2.5"/><circle cx="440.3" cy="564.8" r="2.1"/><circle cx="464.3" cy="353.1" r="2"/><circle cx="258.5" cy="499.9" r="1.5"/><circle cx="145.5" cy="395.8" r="1.6"/><circle cx="197.3" cy="298.8" r="1.3"/><circle cx="401.6" cy="445.3" r="2.5"/><circle cx="429.7" cy="439.8" r="2.1"/><circle cx="174.1" cy="341.3" r="2.2"/><circle cx="331.3" cy="350.5" r="1.4"/><circle cx="382" cy="247.1" r="1.5"/><circle cx="245.2" cy="505.6" r="1.5"/><circle cx="508.3" cy="552.6" r="2"/><circle cx="126.5" cy="257.8" r="1.9"/><circle cx="39" cy="437.7" r="1.9"/><circle cx="-40" cy="136.3" r="2.3"/><circle cx="206.1" cy="245.6" r="2.1"/><circle cx="56.1" cy="447.7" r="2.1"/><circle cx="-14.7" cy="188.5" r="2.2"/><circle cx="424.8" cy="569.7" r="2"/><circle cx="513.1" cy="547.2" r="1.3"/><circle cx="93.2" cy="185.2" r="1.7"/><circle cx="56.3" cy="202.6" r="1.3"/><circle cx="372.9" cy="556.3" r="2.4"/><circle cx="60.7" cy="391.4" r="2.3"/><circle cx="-34" cy="294.3" r="1.8"/><circle cx="493.2" cy="608.4" r="2.3"/><circle cx="438.8" cy="431.3" r="1.8"/><circle cx="434.8" cy="546.6" r="1.6"/><circle cx="300.7" cy="555.9" r="1.5"/><circle cx="420" cy="350.2" r="1.8"/><circle cx="45.3" cy="342.7" r="1.5"/><circle cx="-55.4" cy="434.1" r="1.6"/><circle cx="34" cy="400" r="1.2"/><circle cx="218.6" cy="196.7" r="2.3"/><circle cx="514.3" cy="600.2" r="1.4"/><circle cx="-36.1" cy="199.5" r="1.5"/><circle cx="-28.5" cy="103.3" r="2"/><circle cx="534" cy="608.3" r="1.8"/><circle cx="-53.3" cy="192.2" r="1.4"/><circle cx="-67.9" cy="189.2" r="1.3"/><circle cx="566.2" cy="494.8" r="1.3"/><circle cx="65.1" cy="455.7" r="1.9"/><circle cx="115" cy="247.1" r="1.7"/><circle cx="-48.8" cy="250.9" r="1.9"/><circle cx="252.1" cy="384.5" r="1.9"/><circle cx="168.5" cy="403.5" r="1.7"/><circle cx="-108.7" cy="286.1" r="2"/><circle cx="539" cy="453.2" r="2.1"/><circle cx="417.8" cy="301.5" r="1.7"/><circle cx="124.1" cy="242.9" r="2.1"/><circle cx="39.1" cy="447.7" r="2.1"/><circle cx="376.7" cy="292.8" r="2.3"/><circle cx="176.7" cy="334.2" r="1.5"/><circle cx="121.3" cy="500.7" r="1.7"/><circle cx="216.5" cy="206" r="2.4"/><circle cx="223.1" cy="499.9" r="1.5"/><circle cx="575.7" cy="456.8" r="1.9"/><circle cx="501" cy="554.7" r="1.7"/><circle cx="173.1" cy="454" r="2"/><circle cx="457.4" cy="307.1" r="1.6"/><circle cx="347.3" cy="500.8" r="1.9"/><circle cx="-49.8" cy="184.8" r="2"/><circle cx="534.6" cy="348.6" r="1.3"/><circle cx="446.1" cy="444.1" r="2.5"/><circle cx="159" cy="240.5" r="1.4"/><circle cx="588.1" cy="488.9" r="2.1"/><circle cx="76.6" cy="442.2" r="2.2"/><circle cx="491" cy="387.6" r="2.3"/><circle cx="401.5" cy="301.3" r="1.3"/><circle cx="410" cy="294.3" r="1.4"/><circle cx="49.6" cy="185.8" r="2.4"/><circle cx="452.9" cy="294" r="1.3"/><circle cx="481.2" cy="549.2" r="1.5"/><circle cx="38.3" cy="344" r="1.5"/><circle cx="82.3" cy="200.4" r="1.4"/><circle cx="538.2" cy="399.2" r="1.4"/><circle cx="549.5" cy="495.3" r="1.9"/><circle cx="543.2" cy="604.1" r="1.5"/><circle cx="371.1" cy="297.5" r="2.4"/><circle cx="-47" cy="355.9" r="2"/><circle cx="323.2" cy="350.3" r="2.1"/><circle cx="44.2" cy="303" r="1.9"/><circle cx="81.3" cy="297.8" r="2"/><circle cx="342.7" cy="495.4" r="1.7"/><circle cx="15.6" cy="347.4" r="1.9"/><circle cx="-19.4" cy="195" r="2.4"/><circle cx="361.1" cy="350.8" r="1.3"/><circle cx="485.3" cy="434.2" r="1.5"/><circle cx="401" cy="559.1" r="2.1"/><circle cx="468.7" cy="449.6" r="1.8"/><circle cx="596.8" cy="384.8" r="1.6"/><circle cx="201.5" cy="450.6" r="1.9"/><circle cx="107" cy="189.3" r="1.9"/><circle cx="191.6" cy="492.7" r="1.9"/><circle cx="297.7" cy="501.2" r="2.4"/><circle cx="256.7" cy="243.3" r="2.4"/><circle cx="29.5" cy="185.9" r="2.2"/><circle cx="576.7" cy="389.8" r="2.3"/><circle cx="-35.2" cy="397.4" r="1.9"/><circle cx="420.2" cy="307.4" r="1.6"/><circle cx="185.7" cy="285" r="1.8"/><circle cx="197.1" cy="394.4" r="1.7"/><circle cx="216.9" cy="503" r="2.1"/><circle cx="542.1" cy="440.1" r="1.4"/><circle cx="459.2" cy="601.5" r="1.5"/><circle cx="227.1" cy="349.8" r="2.3"/><circle cx="-101.1" cy="286.1" r="1.6"/><circle cx="9" cy="250.7" r="1.4"/><circle cx="527.9" cy="387.6" r="2.4"/><circle cx="70.7" cy="200.1" r="1.7"/><circle cx="130.7" cy="249.8" r="1.9"/><circle cx="501.4" cy="447.8" r="2.3"/><circle cx="70.8" cy="451.4" r="1.5"/><circle cx="88.1" cy="191.7" r="1.5"/><circle cx="474.2" cy="439.8" r="1.5"/><circle cx="565.1" cy="388.5" r="2.2"/><circle cx="495" cy="599.1" r="2.2"/><circle cx="-80.8" cy="289.1" r="2.2"/><circle cx="40.9" cy="399" r="1.6"/><circle cx="51.4" cy="194.8" r="2.5"/><circle cx="184.3" cy="235.2" r="2.4"/><circle cx="-22.5" cy="189.2" r="1.7"/><circle cx="81.5" cy="450.4" r="1.4"/><circle cx="-1.1" cy="352.7" r="1.6"/><circle cx="205.7" cy="198.1" r="1.5"/><circle cx="429.6" cy="446.8" r="1.2"/><circle cx="625" cy="396.3" r="1.9"/><circle cx="88.2" cy="141.6" r="2.5"/><circle cx="243.9" cy="389" r="2.4"/><circle cx="281.3" cy="496.9" r="1.7"/><circle cx="166.5" cy="254.2" r="1.8"/><circle cx="443.8" cy="604.3" r="1.4"/><circle cx="614.2" cy="487.8" r="1.4"/><circle cx="153.9" cy="397" r="1.8"/><circle cx="355.5" cy="446.8" r="1.7"/><circle cx="454.1" cy="399.4" r="2"/><circle cx="454.2" cy="567.7" r="2"/><circle cx="-47.6" cy="302.9" r="2.3"/><circle cx="297.7" cy="301.8" r="2.3"/><circle cx="428.2" cy="457.5" r="1.6"/><circle cx="236.4" cy="447.9" r="1.3"/><circle cx="368.8" cy="306.8" r="2.1"/><circle cx="141.6" cy="504.7" r="1.6"/><circle cx="100.4" cy="390.1" r="1.6"/><circle cx="220.5" cy="453.7" r="2.4"/><circle cx="577.2" cy="548.6" r="2.3"/><circle cx="471.5" cy="553" r="1.8"/><circle cx="307.4" cy="358.3" r="2"/><circle cx="18.3" cy="436.2" r="1.3"/><circle cx="214.6" cy="510.6" r="1.7"/><circle cx="530.9" cy="354" r="1.9"/><circle cx="90.7" cy="197.4" r="1.9"/><circle cx="272.7" cy="397.3" r="2"/><circle cx="439.6" cy="438.9" r="2.2"/><circle cx="382.8" cy="554.1" r="1.6"/><circle cx="179.3" cy="447.4" r="2.2"/><circle cx="29.9" cy="146.8" r="1.3"/><circle cx="53" cy="439.7" r="2.1"/><circle cx="451" cy="545.6" r="1.9"/><circle cx="346.1" cy="297" r="2"/><circle cx="589.5" cy="395.1" r="2"/><circle cx="190.8" cy="245.5" r="2"/><circle cx="-38.9" cy="98.1" r="2"/><circle cx="90.1" cy="241.6" r="2.4"/><circle cx="35.1" cy="458.1" r="1.2"/><circle cx="570.1" cy="343" r="1.9"/><circle cx="141" cy="294.1" r="1.8"/><circle cx="201.5" cy="493.4" r="1.3"/><circle cx="168.5" cy="238.2" r="1.6"/><circle cx="468.3" cy="397.9" r="1.7"/><circle cx="225.3" cy="241.4" r="1.6"/><circle cx="408" cy="460.8" r="2.2"/><circle cx="49" cy="390.8" r="1.2"/><circle cx="214.2" cy="441.7" r="1.7"/><circle cx="508.3" cy="444.4" r="2.4"/><circle cx="-102.1" cy="294.7" r="1.4"/><circle cx="520" cy="605.2" r="1.7"/><circle cx="253.6" cy="295.3" r="1.8"/><circle cx="-134.1" cy="349.2" r="2.3"/><circle cx="603" cy="389.4" r="2.3"/><circle cx="279.4" cy="552.8" r="1.4"/><circle cx="377.4" cy="500.4" r="1.3"/><circle cx="378.6" cy="447.9" r="1.9"/><circle cx="454.9" cy="348.2" r="2.2"/><circle cx="-64.7" cy="185.4" r="1.3"/><circle cx="-117.4" cy="343.8" r="2.5"/><circle cx="551" cy="448.2" r="2.1"/><circle cx="-39.1" cy="187.7" r="2.1"/><circle cx="27.5" cy="400.6" r="1.9"/><circle cx="252" cy="346.4" r="1.6"/><circle cx="-144.5" cy="401.7" r="2.4"/><circle cx="328.5" cy="297.9" r="2.5"/><circle cx="228.2" cy="205.3" r="1.4"/><circle cx="240.5" cy="396.3" r="1.5"/><circle cx="200.3" cy="341.6" r="2.3"/><circle cx="11.3" cy="437.3" r="2.1"/><circle cx="534.4" cy="384.2" r="1.9"/><circle cx="565.8" cy="446.8" r="1.2"/><circle cx="505.5" cy="396.1" r="2.1"/><circle cx="365.6" cy="505.1" r="1.4"/><circle cx="339.3" cy="455.1" r="1.9"/><circle cx="478.2" cy="392.1" r="1.3"/><circle cx="526.8" cy="448.3" r="1.6"/><circle cx="324.7" cy="508.4" r="1.5"/><circle cx="209.4" cy="403.5" r="1.4"/><circle cx="48.9" cy="444.6" r="2"/><circle cx="196.2" cy="200.4" r="1.5"/><circle cx="485.4" cy="598" r="2.1"/><circle cx="442" cy="555.4" r="2"/><circle cx="539.8" cy="598.3" r="2.4"/><circle cx="-58.5" cy="185.1" r="2.1"/><circle cx="429.9" cy="299.9" r="1.7"/><circle cx="14.4" cy="443.7" r="2"/><circle cx="506.3" cy="609.5" r="1.7"/><circle cx="302.3" cy="295.8" r="2.3"/><circle cx="522.9" cy="618.3" r="1.3"/><circle cx="337.6" cy="349.3" r="1.5"/><circle cx="42.3" cy="144.9" r="1.9"/><circle cx="306.1" cy="503.6" r="1.5"/><circle cx="297.3" cy="445.1" r="2"/><circle cx="-81.6" cy="196.5" r="1.8"/><circle cx="71.3" cy="346" r="2.3"/><circle cx="464.3" cy="566.4" r="2.4"/><circle cx="241.4" cy="194.2" r="1.3"/><circle cx="531.7" cy="452.9" r="1.8"/><circle cx="559.9" cy="607" r="2.2"/><circle cx="448.3" cy="611" r="1.8"/><circle cx="-34" cy="437" r="1.5"/><circle cx="46.2" cy="455.2" r="1.9"/><circle cx="324.4" cy="397.3" r="1.3"/><circle cx="269.3" cy="299.8" r="1.7"/><circle cx="626.3" cy="446" r="2.5"/><circle cx="481.9" cy="555.8" r="2"/><circle cx="457.5" cy="608.1" r="1.3"/><circle cx="337.6" cy="357.5" r="1.3"/><circle cx="216.8" cy="237" r="2.4"/><circle cx="183.8" cy="492.4" r="2"/><circle cx="427.9" cy="396.4" r="2.2"/><circle cx="356.7" cy="298.4" r="1.9"/><circle cx="68.4" cy="194.1" r="1.7"/><circle cx="-98.8" cy="250.6" r="2.3"/><circle cx="548.2" cy="454" r="2"/><circle cx="329.1" cy="498.2" r="2.1"/><circle cx="233.1" cy="290.2" r="1.4"/><circle cx="493.4" cy="399.7" r="2.2"/><circle cx="-38.6" cy="250.7" r="1.8"/><circle cx="584.3" cy="383.9" r="2.1"/><circle cx="158" cy="502.2" r="1.8"/><circle cx="431.6" cy="563.2" r="2.3"/><circle cx="20.8" cy="195.3" r="2.2"/><circle cx="185.7" cy="292" r="1.2"/><circle cx="251" cy="393.3" r="1.4"/><circle cx="282.7" cy="400.8" r="2.2"/><circle cx="402.2" cy="457.8" r="1.3"/><circle cx="48.8" cy="241.3" r="1.3"/><circle cx="217.1" cy="387.9" r="1.8"/><circle cx="558.8" cy="552.5" r="1.5"/><circle cx="470.7" cy="560.5" r="1.9"/><circle cx="389.5" cy="246.1" r="1.7"/><circle cx="44.5" cy="385.6" r="2.1"/><circle cx="196" cy="241" r="2.4"/><circle cx="592" cy="454.2" r="1.7"/><circle cx="-111.2" cy="295.2" r="1.8"/><circle cx="25.5" cy="438.7" r="2.2"/><circle cx="193.2" cy="447.3" r="2"/><circle cx="313.9" cy="361.8" r="2.2"/><circle cx="526.5" cy="553.3" r="2.2"/><circle cx="278.4" cy="298.5" r="2.2"/><circle cx="251.6" cy="403" r="2"/><circle cx="66.1" cy="439" r="1.6"/><circle cx="150.1" cy="248.6" r="1.3"/><circle cx="81.4" cy="141.2" r="1.9"/><circle cx="278.5" cy="395.1" r="1.4"/><circle cx="181.4" cy="508.7" r="2.4"/><circle cx="228.4" cy="383.6" r="1.7"/><circle cx="52.1" cy="396.1" r="1.8"/><circle cx="375.8" cy="452.6" r="1.3"/><circle cx="-74.7" cy="302" r="1.5"/><circle cx="510.3" cy="438.3" r="1.8"/><circle cx="246.8" cy="302.5" r="1.8"/><circle cx="459.4" cy="449" r="1.6"/><circle cx="201.4" cy="390.1" r="1.6"/><circle cx="87.7" cy="249.2" r="1.5"/><circle cx="153" cy="506.6" r="2.4"/><circle cx="247.3" cy="491.2" r="2.1"/><circle cx="0.8" cy="244.9" r="1.7"/><circle cx="13.4" cy="389.6" r="2"/><circle cx="432.5" cy="349.7" r="2"/><circle cx="233.2" cy="199.1" r="2"/><circle cx="-10.6" cy="451.5" r="2.3"/><circle cx="455.5" cy="501.8" r="2.4"/><circle cx="240.3" cy="492.8" r="1.7"/><circle cx="-7.8" cy="245.7" r="2.2"/><circle cx="567.8" cy="551.2" r="1.9"/><circle cx="226.8" cy="452.5" r="1.7"/><circle cx="378.9" cy="343.7" r="1.6"/><circle cx="77.8" cy="184.6" r="1.6"/><circle cx="353.7" cy="499.1" r="1.3"/><circle cx="384.6" cy="515.7" r="1.8"/><circle cx="569.8" cy="395.2" r="1.9"/><circle cx="221.1" cy="394.6" r="1.7"/><circle cx="5.6" cy="447.5" r="1.3"/><circle cx="551.8" cy="336.4" r="1.3"/><circle cx="-37.8" cy="442.2" r="1.9"/><circle cx="329.2" cy="356.4" r="1.7"/><circle cx="419.7" cy="508.8" r="1.3"/><circle cx="351.2" cy="453.7" r="2.3"/><circle cx="92" cy="149.7" r="1.5"/><circle cx="353.9" cy="291.5" r="2.2"/><circle cx="153.3" cy="344.5" r="2.2"/><circle cx="172.9" cy="259.1" r="2.4"/><circle cx="-50.5" cy="400.4" r="2.3"/><circle cx="-36" cy="300.1" r="1.6"/><circle cx="194.1" cy="405.3" r="1.9"/><circle cx="197" cy="496.3" r="1.7"/><circle cx="97.3" cy="444.4" r="1.6"/><circle cx="-2.8" cy="193.5" r="2.5"/><circle cx="316.6" cy="554.3" r="2.2"/><circle cx="-47.3" cy="137.4" r="1.6"/><circle cx="418.4" cy="498.2" r="1.7"/><circle cx="274.2" cy="495.3" r="2.2"/><circle cx="167.7" cy="297.9" r="2.3"/><circle cx="23.2" cy="390" r="1.7"/><circle cx="524.8" cy="456" r="1.5"/><circle cx="53.3" cy="386.4" r="2.5"/><circle cx="5.6" cy="190.9" r="2.5"/><circle cx="518.5" cy="356.4" r="1.4"/><circle cx="595.8" cy="552.4" r="2.3"/><circle cx="232.3" cy="402.9" r="1.6"/><circle cx="242.8" cy="346.1" r="1.3"/><circle cx="135.6" cy="292.3" r="1.6"/><circle cx="37.4" cy="207.3" r="2.4"/><circle cx="252" cy="447.2" r="1.8"/><circle cx="105.5" cy="390.8" r="1.3"/><circle cx="505.2" cy="502" r="1.8"/><circle cx="65.7" cy="141.4" r="2"/><circle cx="204.9" cy="407.3" r="1.8"/><circle cx="521.6" cy="443.7" r="1.4"/><circle cx="-27.5" cy="433" r="2.3"/><circle cx="486.3" cy="565.6" r="1.9"/><circle cx="15.1" cy="337.3" r="1.2"/><circle cx="277.3" cy="404.5" r="1.7"/><circle cx="85.9" cy="389.7" r="1.5"/><circle cx="361.5" cy="512.1" r="1.5"/><circle cx="512.8" cy="618.3" r="2.4"/><circle cx="589.2" cy="446.3" r="1.5"/><circle cx="211.7" cy="299.8" r="1.9"/><circle cx="194.2" cy="456.6" r="2.3"/><circle cx="203.2" cy="295" r="1.4"/><circle cx="104.2" cy="447.5" r="2.5"/><circle cx="39.8" cy="242.4" r="1.6"/><circle cx="528.7" cy="601.3" r="2.2"/><circle cx="20" cy="396.2" r="1.9"/><circle cx="21.4" cy="457.6" r="1.4"/><circle cx="328" cy="404.1" r="2.3"/><circle cx="304.5" cy="446.5" r="2.3"/><circle cx="520.1" cy="595.2" r="2"/><circle cx="26.4" cy="207.6" r="1.8"/><circle cx="-24.9" cy="307.8" r="1.6"/><circle cx="38.6" cy="357.1" r="1.5"/><circle cx="234.5" cy="497.3" r="1.5"/><circle cx="-9.7" cy="435.5" r="1.5"/><circle cx="465.2" cy="543.4" r="2.4"/><circle cx="323.4" cy="500" r="1.2"/><circle cx="-71.1" cy="292.1" r="1.8"/><circle cx="200.6" cy="235.5" r="2.1"/><circle cx="547.2" cy="438.8" r="1.5"/><circle cx="-75" cy="194.2" r="1.3"/><circle cx="5" cy="305.7" r="1.6"/><circle cx="263.5" cy="404.7" r="1.8"/><circle cx="106.3" cy="147.7" r="1.9"/><circle cx="291.5" cy="506" r="1.2"/><circle cx="286.6" cy="444.8" r="2.1"/><circle cx="558.3" cy="446.3" r="1.3"/><circle cx="3.3" cy="251.8" r="1.6"/><circle cx="293.4" cy="391.5" r="2"/><circle cx="367.2" cy="291.1" r="1.3"/><circle cx="427.8" cy="287" r="2"/><circle cx="428.6" cy="509.2" r="2.3"/><circle cx="614.1" cy="496.8" r="1.9"/><circle cx="466.1" cy="441.6" r="1.3"/><circle cx="394.6" cy="507.3" r="1.9"/><circle cx="51.8" cy="146.4" r="2.4"/><circle cx="617.8" cy="397.6" r="2.4"/><circle cx="516.7" cy="440" r="2.1"/><circle cx="166.5" cy="396.6" r="1.4"/><circle cx="599.1" cy="485.5" r="2.1"/><circle cx="409.8" cy="286.9" r="1.9"/><circle cx="247.7" cy="409.5" r="2"/><circle cx="115.1" cy="188.7" r="2"/><circle cx="286.9" cy="557.1" r="2.4"/><circle cx="504" cy="385.8" r="2.1"/><circle cx="216.1" cy="243.2" r="1.4"/><circle cx="470.3" cy="350.3" r="1.5"/><circle cx="76.8" cy="201" r="1.7"/><circle cx="125.4" cy="292.1" r="2"/><circle cx="489.5" cy="440.9" r="1.5"/><circle cx="568.6" cy="601.4" r="2.3"/><circle cx="76.6" cy="388.9" r="2.4"/><circle cx="29.9" cy="245.6" r="1.2"/><circle cx="406.1" cy="250.9" r="2.4"/><circle cx="161" cy="401.9" r="1.6"/><circle cx="177.8" cy="495.2" r="1.5"/><circle cx="494.7" cy="558.2" r="1.8"/><circle cx="212.3" cy="407.7" r="1.3"/><circle cx="180.4" cy="246" r="2.5"/><circle cx="387.4" cy="502.2" r="1.4"/><circle cx="548.2" cy="393" r="2.2"/><circle cx="67.5" cy="151.4" r="1.2"/><circle cx="74.1" cy="151.6" r="2.2"/><circle cx="379.5" cy="303.9" r="1.3"/><circle cx="272.4" cy="501.9" r="2"/><circle cx="452.4" cy="602.7" r="1.3"/><circle cx="406.2" cy="342.9" r="1.8"/><circle cx="446.4" cy="499.6" r="1.3"/><circle cx="584.7" cy="454.5" r="1.5"/><circle cx="368.7" cy="464" r="1.8"/><circle cx="535.9" cy="437.7" r="1.8"/><circle cx="432.1" cy="292.3" r="1.4"/><circle cx="258.5" cy="492.3" r="2.4"/><circle cx="210" cy="251.1" r="2.3"/><circle cx="265.4" cy="503" r="2.1"/><circle cx="234.7" cy="489.8" r="1.3"/><circle cx="-44.6" cy="439.6" r="1.3"/><circle cx="47" cy="252" r="2.5"/><circle cx="400.3" cy="350.1" r="2"/><circle cx="391.5" cy="300.8" r="1.4"/><circle cx="24.4" cy="252.4" r="1.8"/><circle cx="349.4" cy="348.5" r="1.9"/><circle cx="437.2" cy="398" r="1.7"/><circle cx="369.7" cy="515.8" r="1.2"/><circle cx="65.6" cy="449.2" r="1.5"/><circle cx="240.8" cy="499.1" r="1.7"/><circle cx="421.9" cy="447.8" r="1.9"/><circle cx="442" cy="309.8" r="1.3"/><circle cx="1.1" cy="443" r="1.2"/><circle cx="543.4" cy="447.9" r="2"/><circle cx="-62.7" cy="200.7" r="1.3"/><circle cx="225.8" cy="339.8" r="1.3"/><circle cx="31.5" cy="343.7" r="1.3"/><circle cx="465.4" cy="503.9" r="1.4"/><circle cx="583.3" cy="554" r="2"/><circle cx="13.3" cy="463.3" r="2"/><circle cx="203.4" cy="253" r="1.4"/><circle cx="159" cy="486.8" r="1.6"/><circle cx="486" cy="398.9" r="2.3"/><circle cx="241.3" cy="240.9" r="2.5"/><circle cx="403.5" cy="293.2" r="2.3"/><circle cx="393.3" cy="343.7" r="1.5"/><circle cx="109.8" cy="244.5" r="1.5"/><circle cx="574.7" cy="383.2" r="1.9"/><circle cx="-13.7" cy="445.2" r="2"/><circle cx="456.7" cy="432.4" r="2.4"/><circle cx="191.9" cy="340.5" r="1.4"/><circle cx="205.6" cy="511.6" r="2.1"/><circle cx="220.1" cy="344.4" r="2.4"/><circle cx="464.4" cy="550.4" r="2.4"/><circle cx="231.4" cy="237.6" r="1.8"/><circle cx="-46.4" cy="97.8" r="1.4"/><circle cx="69.5" cy="180.6" r="2.5"/><circle cx="93.6" cy="296.9" r="1.8"/><circle cx="-23.1" cy="139.5" r="1.3"/><circle cx="293.5" cy="398.1" r="1.9"/><circle cx="36.1" cy="298.9" r="2"/><circle cx="135.1" cy="396.1" r="2.4"/><circle cx="419.8" cy="562.4" r="2"/><circle cx="416.5" cy="256" r="1.4"/><circle cx="447.5" cy="451.6" r="2"/><circle cx="143.6" cy="253.3" r="1.4"/><circle cx="481.1" cy="442.2" r="1.6"/><circle cx="24.8" cy="201.5" r="1.9"/><circle cx="535.4" cy="617.7" r="2.5"/><circle cx="393.4" cy="563.6" r="2.3"/><circle cx="-15.5" cy="140.2" r="1.4"/><circle cx="134.5" cy="445.3" r="1.9"/><circle cx="-19.1" cy="204.1" r="2"/><circle cx="394.8" cy="457.7" r="1.7"/><circle cx="159.7" cy="256.5" r="1.2"/><circle cx="289" cy="498.8" r="1.5"/><circle cx="36" cy="387.1" r="2.4"/><circle cx="514.6" cy="558.4" r="2.4"/><circle cx="-39.2" cy="194.4" r="1.5"/><circle cx="447.8" cy="308.5" r="1.5"/><circle cx="282.6" cy="351.6" r="1.5"/><circle cx="289.9" cy="403.4" r="1.3"/><circle cx="268.6" cy="441" r="1.5"/><circle cx="555.8" cy="341.1" r="1.8"/><circle cx="465.5" cy="607.2" r="2.4"/><circle cx="-58.6" cy="292.9" r="1.3"/><circle cx="514.1" cy="501.3" r="1.7"/><circle cx="362" cy="302.6" r="2.4"/><circle cx="388" cy="308.1" r="2.4"/><circle cx="251.7" cy="505.8" r="2.1"/><circle cx="446.8" cy="294.3" r="1.2"/><circle cx="399.6" cy="463.7" r="2.2"/><circle cx="614.4" cy="389.5" r="1.6"/><circle cx="441" cy="461.1" r="2.3"/><circle cx="450.4" cy="556.3" r="1.8"/><circle cx="36.8" cy="149.1" r="1.5"/><circle cx="47.7" cy="349.5" r="2.4"/><circle cx="235.4" cy="352.1" r="1.8"/><circle cx="135.6" cy="257.4" r="2.3"/><circle cx="505.2" cy="353.3" r="1.4"/><circle cx="267.3" cy="447.7" r="1.2"/><circle cx="190" cy="255.8" r="1.4"/><circle cx="572.9" cy="445.4" r="2.3"/><circle cx="54.5" cy="458.8" r="2.4"/><circle cx="-116" cy="299.1" r="1.8"/><circle cx="447.9" cy="508.6" r="2.4"/><circle cx="179" cy="296" r="1.9"/><circle cx="493" cy="350.3" r="1.8"/><circle cx="565.4" cy="458.3" r="2"/><circle cx="540.5" cy="551.9" r="1.6"/><circle cx="376.6" cy="308.8" r="1.6"/><circle cx="15.7" cy="354.2" r="1.7"/><circle cx="434" cy="310.8" r="1.6"/><circle cx="-51.1" cy="289.9" r="2.2"/><circle cx="31.8" cy="433.7" r="1.3"/><circle cx="377.1" cy="510.9" r="1.9"/><circle cx="-94.7" cy="290" r="1.7"/><circle cx="-110.8" cy="279.6" r="1.5"/><circle cx="304.2" cy="351.2" r="1.9"/><circle cx="487.2" cy="450.3" r="2.1"/><circle cx="-41" cy="202" r="1.4"/><circle cx="534.3" cy="393.3" r="1.6"/><circle cx="222.9" cy="408.3" r="1.6"/><circle cx="590.2" cy="387.6" r="1.6"/><circle cx="-137" cy="399.9" r="1.7"/><circle cx="-23" cy="441.1" r="2"/><circle cx="235.7" cy="386" r="1.9"/><circle cx="402.3" cy="498.1" r="1.5"/><circle cx="206.6" cy="444.7" r="1.9"/><circle cx="234.1" cy="193.4" r="1.5"/><circle cx="209.7" cy="203.9" r="2.2"/><circle cx="193" cy="285.6" r="2.2"/><circle cx="498.1" cy="359" r="1.5"/><circle cx="518.4" cy="341.1" r="1.8"/><circle cx="441.3" cy="303.3" r="2.1"/><circle cx="551.8" cy="603.9" r="2"/><circle cx="56.8" cy="140.7" r="1.8"/><circle cx="477.9" cy="354.5" r="2"/><circle cx="-3.7" cy="440.6" r="1.4"/><circle cx="554" cy="458" r="1.5"/><circle cx="103.8" cy="195.2" r="2.1"/><circle cx="447.7" cy="435.2" r="1.2"/><circle cx="-61.4" cy="398.5" r="1.8"/><circle cx="9.1" cy="453.8" r="1.5"/><circle cx="17" cy="451.2" r="1.6"/><circle cx="596.5" cy="544.8" r="1.9"/><circle cx="193.4" cy="234.3" r="1.9"/><circle cx="-3.3" cy="251" r="2.2"/><circle cx="227.3" cy="304.4" r="2.1"/><circle cx="619.8" cy="484.3" r="2"/><circle cx="260.2" cy="438.8" r="1.2"/><circle cx="307.7" cy="401.1" r="1.3"/><circle cx="81" cy="189" r="1.6"/><circle cx="344.2" cy="356.7" r="1.3"/><circle cx="-36.2" cy="359.3" r="1.4"/><circle cx="17.2" cy="202.3" r="1.8"/><circle cx="235.1" cy="408.2" r="2.1"/><circle cx="210.6" cy="238.5" r="1.6"/><circle cx="543.1" cy="498.5" r="1.6"/><circle cx="491.4" cy="552.6" r="1.9"/><circle cx="313.9" cy="394.7" r="2.4"/><circle cx="230.9" cy="437.8" r="1.7"/><circle cx="446.2" cy="567.3" r="1.4"/><circle cx="22.8" cy="300.8" r="1.5"/><circle cx="-104.1" cy="281" r="1.4"/><circle cx="334.8" cy="504.4" r="1.8"/><circle cx="363.2" cy="459.2" r="2.1"/><circle cx="587.1" cy="495.4" r="1.3"/><circle cx="495.3" cy="438.3" r="2.2"/><circle cx="49.3" cy="434.7" r="1.8"/><circle cx="485.6" cy="616.7" r="1.3"/><circle cx="205" cy="346.5" r="2.3"/><circle cx="-40.5" cy="355.8" r="1.5"/><circle cx="542.7" cy="386.7" r="2.1"/><circle cx="80.5" cy="194.9" r="1.9"/><circle cx="443.3" cy="546.9" r="1.9"/><circle cx="108.5" cy="295.3" r="2"/><circle cx="215.7" cy="495.6" r="1.7"/><circle cx="433.2" cy="497.7" r="2.5"/><circle cx="545.2" cy="348" r="1.7"/><circle cx="252.3" cy="201.9" r="2.1"/><circle cx="-52.7" cy="352.4" r="1.5"/><circle cx="452.5" cy="456.1" r="1.6"/><circle cx="218" cy="302.3" r="2.4"/><circle cx="436.2" cy="443.6" r="1.3"/><circle cx="521.4" cy="436.6" r="1.5"/><circle cx="10.9" cy="340.2" r="1.2"/><circle cx="125" cy="391.2" r="1.5"/><circle cx="389.5" cy="449.1" r="2"/><circle cx="-29.8" cy="443.3" r="2.3"/><circle cx="475.1" cy="301.6" r="1.9"/><circle cx="165" cy="450.1" r="1.7"/><circle cx="618.2" cy="450.3" r="1.9"/><circle cx="154.3" cy="257.9" r="1.6"/><circle cx="549.8" cy="400.9" r="2"/><circle cx="466.7" cy="432.4" r="2.3"/><circle cx="58.2" cy="298.2" r="2"/><circle cx="15.5" cy="457.4" r="1.7"/><circle cx="261.6" cy="291.9" r="2.1"/><circle cx="303" cy="395.2" r="2.1"/><circle cx="146.8" cy="402.5" r="1.7"/><circle cx="464.9" cy="305.9" r="1.7"/><circle cx="-35.4" cy="255.7" r="1.4"/><circle cx="506.6" cy="452.2" r="2"/><circle cx="412.4" cy="465.9" r="1.4"/><circle cx="246.7" cy="196.5" r="1.4"/><circle cx="-9.5" cy="394.7" r="1.2"/><circle cx="575.7" cy="601.2" r="1.3"/><circle cx="-84.6" cy="303.5" r="1.7"/><circle cx="191.1" cy="398.9" r="1.4"/><circle cx="474.6" cy="446.8" r="2.3"/><circle cx="151.4" cy="295.9" r="2.4"/><circle cx="343.5" cy="447.4" r="2"/><circle cx="169.7" cy="510.9" r="1.3"/><circle cx="237.1" cy="453.5" r="1.4"/><circle cx="514.1" cy="450.4" r="1.8"/><circle cx="285.4" cy="296.9" r="1.7"/><circle cx="13.1" cy="196.1" r="1.3"/><circle cx="554.6" cy="393.2" r="1.9"/><circle cx="-73.1" cy="286.6" r="1.2"/><circle cx="-20.7" cy="435.3" r="1.9"/><circle cx="241.9" cy="446.2" r="1.6"/><circle cx="398.7" cy="551.7" r="1.6"/><circle cx="357" cy="456.4" r="1.3"/><circle cx="-17.1" cy="397" r="1.4"/><circle cx="41.8" cy="391.8" r="2.3"/><circle cx="53.8" cy="302.8" r="1.4"/><circle cx="512.3" cy="399.5" r="1.9"/><circle cx="345.2" cy="456.2" r="1.3"/><circle cx="219.4" cy="351.4" r="2.3"/><circle cx="534" cy="403.2" r="1.7"/><circle cx="400.9" cy="309.2" r="2.2"/><circle cx="75.6" cy="144.8" r="2.5"/><circle cx="512.6" cy="349.7" r="1.3"/><circle cx="409.7" cy="518" r="1.4"/><circle cx="-14.8" cy="352" r="1.6"/><circle cx="362.2" cy="294.9" r="2.4"/><circle cx="416.4" cy="294.8" r="1.4"/><circle cx="252.2" cy="496.7" r="1.3"/><circle cx="392.8" cy="518" r="2.1"/><circle cx="266.5" cy="243.8" r="1.9"/><circle cx="14.5" cy="189.6" r="1.6"/><circle cx="-45" cy="308.4" r="1.5"/><circle cx="-32" cy="202.5" r="1.3"/><circle cx="389.3" cy="466.2" r="2.3"/><circle cx="118.1" cy="394.8" r="2.3"/><circle cx="-13.2" cy="206" r="1.7"/><circle cx="545.5" cy="338.9" r="1.7"/><circle cx="56.8" cy="181.2" r="1.8"/><circle cx="197.9" cy="400.2" r="1.8"/><circle cx="520.3" cy="451.3" r="1.7"/><circle cx="497.8" cy="503.7" r="1.5"/><circle cx="185.2" cy="333.6" r="1.2"/><circle cx="-151.9" cy="401.2" r="2.4"/><circle cx="221.2" cy="445.7" r="1.9"/><circle cx="-12.7" cy="308.8" r="1.4"/><circle cx="499.7" cy="348" r="2"/><circle cx="505.6" cy="402.9" r="1.3"/><circle cx="483.9" cy="353" r="1.8"/><circle cx="174.9" cy="510.1" r="1.6"/><circle cx="608" cy="498" r="1.9"/><circle cx="239.7" cy="199.3" r="1.6"/><circle cx="194.3" cy="510.1" r="2.2"/><circle cx="268.9" cy="391" r="1.9"/><circle cx="206.7" cy="495.1" r="1.5"/><circle cx="464" cy="614.2" r="1.9"/><circle cx="436.6" cy="298" r="1.6"/><circle cx="63.8" cy="206" r="1.3"/><circle cx="204.9" cy="400.1" r="1.4"/><circle cx="21.9" cy="349" r="2.3"/><circle cx="606.5" cy="452.7" r="1.9"/><circle cx="12.3" cy="401.3" r="2.1"/><circle cx="500" cy="400.3" r="2.1"/><circle cx="-51.3" cy="297.2" r="1.5"/><circle cx="474.8" cy="543.7" r="1.3"/><circle cx="114" cy="291.3" r="1.3"/><circle cx="-47.2" cy="200.8" r="1.2"/><circle cx="320.6" cy="446.9" r="1.6"/><circle cx="249.6" cy="437.9" r="2"/><circle cx="526.7" cy="608.5" r="1.4"/><circle cx="32.4" cy="250.8" r="2.3"/><circle cx="175.8" cy="405.7" r="2.4"/><circle cx="332" cy="398.5" r="1.6"/><circle cx="-8.3" cy="351.6" r="1.4"/><circle cx="-32.9" cy="188.7" r="1.5"/><circle cx="375.7" cy="465.4" r="1.9"/><circle cx="85.2" cy="344.1" r="1.5"/><circle cx="485.9" cy="551.2" r="1.3"/><circle cx="555.7" cy="612.7" r="2.3"/><circle cx="138.2" cy="345.2" r="2.4"/><circle cx="537.2" cy="500.8" r="1.8"/><circle cx="335.3" cy="449.1" r="1.3"/><circle cx="338.3" cy="298.8" r="1.5"/><circle cx="430.5" cy="462.7" r="1.7"/><circle cx="450.3" cy="300.9" r="2.4"/><circle cx="289" cy="358.9" r="2.2"/><circle cx="385" cy="290.2" r="1.9"/><circle cx="420.8" cy="394.7" r="1.6"/><circle cx="180.6" cy="290.3" r="1.2"/><circle cx="-22.1" cy="349.4" r="1.8"/><circle cx="10" cy="209" r="2"/><circle cx="504.1" cy="614.4" r="1.3"/><circle cx="60.9" cy="442.6" r="2.1"/><circle cx="69.3" cy="248.3" r="2.1"/><circle cx="447.6" cy="395.4" r="2.3"/><circle cx="58.6" cy="146.9" r="1.4"/><circle cx="-27.5" cy="296.4" r="2.3"/><circle cx="374.1" cy="350.8" r="1.5"/><circle cx="82.7" cy="247.5" r="1.4"/><circle cx="224.5" cy="509.1" r="1.6"/><circle cx="639.4" cy="395.9" r="2.3"/><circle cx="429.9" cy="542.9" r="1.6"/><circle cx="474.1" cy="599.6" r="1.4"/><circle cx="294.1" cy="555.7" r="1.4"/><circle cx="316" cy="509.2" r="2.1"/><circle cx="-27.4" cy="355.4" r="1.4"/><circle cx="101" cy="298.2" r="1.7"/><circle cx="259.5" cy="200.4" r="2"/><circle cx="362" cy="497.4" r="1.3"/><circle cx="349.3" cy="461.4" r="1.7"/><circle cx="40.2" cy="351.6" r="1.4"/><circle cx="563.1" cy="346.6" r="1.9"/><circle cx="61.8" cy="200.3" r="1.3"/><circle cx="220.5" cy="292.5" r="1.3"/><circle cx="351.4" cy="301.6" r="1.7"/><circle cx="0.7" cy="310.6" r="1.7"/><circle cx="-0.8" cy="457.9" r="1.9"/><circle cx="581.5" cy="494" r="1.2"/><circle cx="320" cy="357.1" r="2.1"/><circle cx="528.4" cy="404.3" r="1.3"/><circle cx="429.7" cy="433.1" r="2.3"/><circle cx="385.1" cy="339.3" r="1.6"/><circle cx="389.4" cy="349.8" r="1.7"/><circle cx="-46.5" cy="195.7" r="1.5"/><circle cx="379.4" cy="458.5" r="1.7"/><circle cx="74.8" cy="297.5" r="2.4"/><circle cx="632.5" cy="447.6" r="1.8"/><circle cx="569.4" cy="452.1" r="1.8"/><circle cx="568.8" cy="499.7" r="1.5"/><circle cx="352.2" cy="354.4" r="2.1"/><circle cx="371.5" cy="501.8" r="1.8"/><circle cx="57.3" cy="347.2" r="1.5"/><circle cx="64.8" cy="301.2" r="1.7"/><circle cx="133.6" cy="501" r="1.6"/><circle cx="409.2" cy="567.3" r="1.7"/><circle cx="422.5" cy="293.1" r="1.9"/><circle cx="250.1" cy="340.8" r="1.6"/><circle cx="374.6" cy="340.5" r="1.5"/><circle cx="178" cy="501.4" r="2.4"/><circle cx="-0.8" cy="203.1" r="1.8"/><circle cx="341.8" cy="293.2" r="1.3"/><circle cx="-76.2" cy="187.9" r="1.5"/><circle cx="213.8" cy="284.2" r="1.5"/><circle cx="197.2" cy="255.9" r="2"/><circle cx="299.1" cy="358.5" r="1.8"/><circle cx="319.2" cy="297.7" r="1.6"/><circle cx="86.7" cy="441.2" r="1.3"/><circle cx="583.1" cy="500.7" r="1.6"/><circle cx="467" cy="600.6" r="2.1"/><circle cx="-101.3" cy="300.7" r="1.9"/><circle cx="506.7" cy="561.6" r="1.8"/><circle cx="-125.7" cy="399.5" r="1.3"/><circle cx="513.2" cy="390.3" r="1.7"/><circle cx="43.5" cy="195.1" r="1.9"/><circle cx="47.5" cy="152.2" r="2.5"/><circle cx="417.6" cy="514" r="2.1"/><circle cx="441.4" cy="454.5" r="1.6"/><circle cx="167.7" cy="502" r="2.5"/><circle cx="311.6" cy="501.2" r="2.1"/><circle cx="24" cy="359" r="2.3"/><circle cx="471.3" cy="392.7" r="1.5"/><circle cx="81.8" cy="152.4" r="2.2"/><circle cx="-3.7" cy="140.8" r="1.4"/><circle cx="317.6" cy="401.8" r="1.2"/><circle cx="287.2" cy="395.9" r="2.2"/><circle cx="66.1" cy="385.1" r="1.5"/><circle cx="223.2" cy="439.5" r="1.3"/><circle cx="500.2" cy="565" r="1.8"/><circle cx="536.7" cy="337.2" r="1.9"/><circle cx="-31.2" cy="404.3" r="1.7"/><circle cx="-88.9" cy="284.9" r="1.2"/><circle cx="-28.9" cy="138.6" r="1.7"/><circle cx="358.9" cy="504.6" r="1.5"/><circle cx="-41.8" cy="295.8" r="1.2"/><circle cx="186.3" cy="451.2" r="2.2"/><circle cx="620.6" cy="391.2" r="2.1"/><circle cx="212.6" cy="289.7" r="1.2"/><circle cx="-7.9" cy="444.1" r="1.5"/><circle cx="-61.3" cy="437.6" r="2.1"/><circle cx="260.5" cy="301.5" r="2.3"/><circle cx="316" cy="351.4" r="2.5"/><circle cx="39.5" cy="250.2" r="2.1"/><circle cx="555.4" cy="347.4" r="1.5"/><circle cx="501.6" cy="440.8" r="1.8"/><circle cx="159.7" cy="395.6" r="1.6"/><circle cx="441" cy="502.5" r="2.4"/><circle cx="596.7" cy="391.7" r="2"/><circle cx="422.8" cy="458" r="1.6"/><circle cx="445.6" cy="288.6" r="2.1"/><circle cx="-33.6" cy="353.4" r="2.4"/><circle cx="461.9" cy="292.7" r="1.8"/><circle cx="-61" cy="304.3" r="1.9"/><circle cx="610" cy="483.9" r="2.1"/><circle cx="-46.1" cy="433.8" r="2.3"/><circle cx="217.8" cy="399.6" r="1.8"/><circle cx="-18" cy="452.8" r="1.3"/><circle cx="33.9" cy="354.9" r="1.4"/><circle cx="-9.8" cy="360" r="1.8"/><circle cx="19.8" cy="463.4" r="1.7"/><circle cx="-38" cy="403.2" r="1.5"/><circle cx="509.1" cy="595.3" r="2"/><circle cx="410.6" cy="308.7" r="2.1"/><circle cx="219.4" cy="333.5" r="1.8"/><circle cx="42.6" cy="442.8" r="1.7"/><circle cx="530.2" cy="436.3" r="1.5"/><circle cx="575" cy="451.2" r="1.3"/><circle cx="487.3" cy="559.6" r="1.4"/><circle cx="263.9" cy="496.9" r="1.8"/><circle cx="486.4" cy="501.9" r="1.7"/><circle cx="247.9" cy="242.1" r="1.8"/><circle cx="-8.2" cy="189.3" r="1.5"/><circle cx="472.2" cy="605.1" r="2.2"/><circle cx="115.1" cy="497.3" r="1.6"/><circle cx="392.5" cy="553.2" r="1.4"/><circle cx="264.6" cy="285.5" r="2.4"/><circle cx="521.1" cy="391.6" r="1.2"/><circle cx="601.6" cy="396" r="1.9"/><circle cx="23" cy="187.1" r="1.5"/><circle cx="377.8" cy="518.2" r="1.3"/><circle cx="396.3" cy="452.2" r="1.6"/><circle cx="358.8" cy="463.1" r="1.6"/><circle cx="22.4" cy="146.3" r="2"/><circle cx="-53.9" cy="440" r="2"/><circle cx="428.3" cy="557.5" r="1.6"/><circle cx="275.3" cy="442.7" r="1.3"/><circle cx="406.1" cy="348.9" r="1.3"/><circle cx="270.4" cy="355.1" r="1.4"/><circle cx="223.5" cy="201" r="1.7"/><circle cx="396.5" cy="304.7" r="1.9"/><circle cx="401.8" cy="546.2" r="1.6"/><circle cx="613.4" cy="503.2" r="2.1"/><circle cx="427.4" cy="605.5" r="2"/><circle cx="34.9" cy="244.4" r="1.4"/><circle cx="249.9" cy="290.1" r="1.6"/><circle cx="111.8" cy="445.1" r="1.4"/><circle cx="272" cy="446.5" r="1.2"/><circle cx="499.9" cy="609.9" r="1.9"/><circle cx="159.7" cy="342.1" r="1.4"/><circle cx="23.6" cy="246.8" r="1.4"/><circle cx="200.4" cy="206.1" r="2.2"/><circle cx="406.3" cy="501.4" r="1.2"/><circle cx="267" cy="347.4" r="2"/><circle cx="460.9" cy="558.3" r="1.4"/><circle cx="255.7" cy="353" r="2.2"/><circle cx="76" cy="449.5" r="1.6"/><circle cx="125.2" cy="444.7" r="1.6"/><circle cx="508.6" cy="357.7" r="1.9"/><circle cx="37" cy="201.2" r="1.4"/><circle cx="521.2" cy="501.7" r="1.4"/><circle cx="474.4" cy="295.4" r="1.9"/><circle cx="-61" cy="193" r="2"/><circle cx="137.1" cy="249.4" r="1.3"/><circle cx="539.7" cy="392.2" r="1.7"/><circle cx="-125" cy="342.7" r="1.6"/><circle cx="493.3" cy="544.1" r="2.5"/><circle cx="99.9" cy="184.9" r="2.3"/><circle cx="240.8" cy="336.3" r="1.9"/><circle cx="280.4" cy="446.1" r="1.6"/><circle cx="562.5" cy="395" r="2"/><circle cx="-38.7" cy="307.2" r="1.6"/><circle cx="281.3" cy="391" r="1.3"/><circle cx="9.2" cy="345.7" r="1.2"/><circle cx="73.3" cy="190.3" r="1.9"/><circle cx="389.2" cy="512" r="1.6"/><circle cx="422.8" cy="437.9" r="2.1"/><circle cx="31.7" cy="440.9" r="1.6"/><circle cx="210.6" cy="506.8" r="1.5"/><circle cx="433.2" cy="570" r="2.4"/><circle cx="257.2" cy="407.3" r="1.6"/><circle cx="356.1" cy="347.2" r="1.3"/><circle cx="113.6" cy="390.4" r="1.5"/><circle cx="286.4" cy="291.4" r="1.5"/><circle cx="554" cy="439.6" r="2.1"/><circle cx="229.3" cy="498.9" r="1.6"/><circle cx="16.8" cy="208.5" r="1.8"/><circle cx="-52.7" cy="254.8" r="1.3"/><circle cx="-43.1" cy="400.7" r="1.3"/><circle cx="183.1" cy="257.1" r="2.4"/><circle cx="-28.7" cy="193.3" r="1.6"/><circle cx="441" cy="609.9" r="2.3"/><circle cx="26.1" cy="394.6" r="1.5"/><circle cx="523.9" cy="355.4" r="1.7"/><circle cx="217.2" cy="404.9" r="1.2"/><circle cx="481.6" cy="561.5" r="1.3"/><circle cx="16.1" cy="144.8" r="2.2"/><circle cx="485.9" cy="543.7" r="1.9"/><circle cx="219.1" cy="247.7" r="1.3"/><circle cx="99" cy="147.4" r="2.4"/><circle cx="230.5" cy="245.3" r="1.6"/><circle cx="460.9" cy="454.4" r="1.6"/><circle cx="418.5" cy="453" r="1.3"/><circle cx="224.9" cy="194" r="2.2"/><circle cx="405.9" cy="438.2" r="1.8"/><circle cx="574.5" cy="491.1" r="1.9"/><circle cx="556.7" cy="451.3" r="1.2"/><circle cx="1.7" cy="142.6" r="1.4"/><circle cx="-13" cy="303.6" r="1.5"/><circle cx="434.6" cy="604.6" r="1.5"/><circle cx="335.6" cy="511.3" r="1.5"/><circle cx="-13.3" cy="251.1" r="1.3"/><circle cx="8" cy="442.5" r="1.2"/><circle cx="-60.4" cy="355.3" r="2.2"/><circle cx="-107.2" cy="300.2" r="1.8"/><circle cx="371.1" cy="510" r="1.7"/><circle cx="546.5" cy="600.1" r="1.3"/><circle cx="172.9" cy="446.7" r="1.8"/><circle cx="547.1" cy="612.4" r="2"/><circle cx="334.6" cy="303" r="1.7"/><circle cx="-6" cy="456.2" r="1.2"/><circle cx="533.7" cy="550.3" r="1.8"/><circle cx="278.5" cy="243.6" r="1.4"/><circle cx="456.3" cy="561.7" r="1.5"/><circle cx="343.2" cy="348.6" r="1.2"/><circle cx="253.9" cy="285.9" r="2"/><circle cx="506.3" cy="348.3" r="1.4"/><circle cx="383.2" cy="506.8" r="1.2"/><circle cx="344.2" cy="304.3" r="2.3"/><circle cx="369.5" cy="447.6" r="1.5"/><circle cx="184.8" cy="299.9" r="1.5"/><circle cx="132.1" cy="241.2" r="2.2"/><circle cx="-29.5" cy="254" r="1.5"/><circle cx="513.2" cy="608.1" r="1.7"/><circle cx="326.3" cy="555.3" r="1.4"/><circle cx="199.3" cy="408.2" r="1.3"/><circle cx="361.6" cy="447.6" r="1.2"/><circle cx="523.4" cy="342.9" r="1.3"/><circle cx="401.8" cy="565.2" r="1.8"/><circle cx="54.9" cy="241.9" r="2.5"/><circle cx="514.7" cy="594.5" r="1.2"/><circle cx="25" cy="309" r="1.7"/><circle cx="72.2" cy="457.4" r="2"/><circle cx="197.8" cy="489.3" r="2"/><circle cx="27.6" cy="196.2" r="1.3"/><circle cx="-41.4" cy="300.9" r="1.5"/><circle cx="479.6" cy="601.5" r="1.8"/><circle cx="193.7" cy="291.8" r="1.5"/><circle cx="495.1" cy="617" r="1.4"/><circle cx="61.5" cy="243.6" r="1.8"/><circle cx="287.6" cy="350.8" r="1.3"/><circle cx="82" cy="240.6" r="1.3"/><circle cx="-60.5" cy="287.3" r="1.9"/><circle cx="315.4" cy="303.9" r="1.8"/><circle cx="57.7" cy="152.5" r="1.6"/><circle cx="258.3" cy="347.1" r="1.9"/><circle cx="582.7" cy="392.3" r="2"/><circle cx="334" cy="293.6" r="2.2"/><circle cx="553.4" cy="499.9" r="1.6"/><circle cx="7.5" cy="244.8" r="1.8"/><circle cx="206.2" cy="332.4" r="1.2"/><circle cx="185.2" cy="513.5" r="1.4"/><circle cx="77.7" cy="249.5" r="1.4"/><circle cx="373.4" cy="457.4" r="1.5"/><circle cx="215.5" cy="340.1" r="1.4"/><circle cx="129.1" cy="495.9" r="1.8"/><circle cx="459.3" cy="396.2" r="1.4"/><circle cx="40.8" cy="338.4" r="2.2"/><circle cx="348.6" cy="248.7" r="1.4"/><circle cx="172.4" cy="248.5" r="1.6"/><circle cx="336" cy="403.3" r="1.3"/><circle cx="167.2" cy="344.5" r="1.9"/><circle cx="29.7" cy="357.5" r="1.2"/><circle cx="470.2" cy="619" r="1.5"/><circle cx="418.6" cy="544.2" r="2.3"/><circle cx="417.7" cy="556.6" r="1.5"/><circle cx="231" cy="443.8" r="1.8"/><circle cx="-131.1" cy="398.4" r="2"/><circle cx="439.6" cy="447.8" r="1.5"/><circle cx="-38.9" cy="432.7" r="1.8"/><circle cx="394" cy="547.4" r="1.6"/><circle cx="422" cy="463.8" r="1.8"/><circle cx="141.8" cy="258.5" r="1.6"/><circle cx="234.4" cy="204.9" r="1.2"/><circle cx="226.9" cy="292.4" r="1.5"/><circle cx="333.1" cy="455.6" r="1.4"/><circle cx="9.6" cy="352.6" r="1.3"/><circle cx="50" cy="298.8" r="1.7"/><circle cx="399.1" cy="251.8" r="2.2"/><circle cx="119.1" cy="444.3" r="1.3"/><circle cx="590.2" cy="501.9" r="2.3"/><circle cx="479.3" cy="435" r="2.3"/><circle cx="575.8" cy="610.2" r="1.4"/><circle cx="-55.3" cy="395.6" r="1.7"/><circle cx="372.8" cy="247.9" r="2.5"/><circle cx="521.1" cy="556.3" r="1.2"/><circle cx="28.8" cy="386.7" r="2"/><circle cx="549" cy="386.2" r="1.7"/><circle cx="503.1" cy="593.7" r="1.8"/><circle cx="267.5" cy="291.4" r="1.6"/><circle cx="533.2" cy="556.6" r="1.6"/><circle cx="44" cy="355.5" r="1.5"/><circle cx="471.1" cy="505" r="1.8"/><circle cx="271.9" cy="243.9" r="1.3"/><circle cx="-70.9" cy="397.7" r="1.7"/><circle cx="101.2" cy="255.5" r="1.5"/><circle cx="250" cy="353.9" r="1.4"/><circle cx="490.3" cy="615.4" r="1.3"/><circle cx="235.8" cy="243.4" r="1.2"/><circle cx="44.6" cy="244.9" r="1.5"/><circle cx="204.3" cy="456.3" r="1.3"/><circle cx="402.7" cy="451.8" r="1.5"/><circle cx="-11.3" cy="193.5" r="1.3"/><circle cx="69.4" cy="443.9" r="1.8"/><circle cx="394.2" cy="310.9" r="1.7"/><circle cx="414" cy="350.6" r="1.7"/><circle cx="382.8" cy="463.7" r="1.4"/><circle cx="-61" cy="298.2" r="1.5"/><circle cx="135.6" cy="492.5" r="1.4"/><circle cx="149.9" cy="451.1" r="1.5"/><circle cx="216.4" cy="410.5" r="1.5"/><circle cx="237.1" cy="391.4" r="1.2"/><circle cx="369.6" cy="342" r="1.4"/><circle cx="155.9" cy="404" r="1.3"/><circle cx="246.8" cy="398.9" r="1.6"/><circle cx="285.3" cy="302.3" r="1.4"/><circle cx="10.9" cy="311.1" r="1.9"/><circle cx="599.9" cy="454.7" r="1.6"/><circle cx="140.4" cy="400.2" r="2"/><circle cx="605.4" cy="445.6" r="1.5"/><circle cx="484.4" cy="390.3" r="1.9"/><circle cx="-22" cy="102.4" r="1.2"/><circle cx="-9.9" cy="140.8" r="1.4"/><circle cx="356.4" cy="249.1" r="2.4"/><circle cx="-43.2" cy="255.4" r="1.6"/><circle cx="112" cy="257" r="2.1"/><circle cx="269.2" cy="404.1" r="1.3"/><circle cx="336.4" cy="496.5" r="1.9"/><circle cx="537.5" cy="445.7" r="1.8"/><circle cx="51.7" cy="453.3" r="1.4"/><circle cx="416.5" cy="289" r="1.5"/><circle cx="-14.5" cy="438.1" r="1.5"/><circle cx="212" cy="490.3" r="1.9"/><circle cx="-119.9" cy="399.1" r="1.9"/><circle cx="257" cy="451.8" r="2.4"/><circle cx="44.1" cy="182.4" r="1.3"/><circle cx="237.7" cy="293.7" r="1.6"/><circle cx="104.2" cy="241.8" r="2.2"/><circle cx="18.8" cy="310.5" r="1.4"/><circle cx="92.7" cy="390.8" r="1.7"/><circle cx="148.1" cy="258.2" r="2.3"/><circle cx="-56.7" cy="300.8" r="1.2"/><circle cx="401.6" cy="506.8" r="1.4"/><circle cx="385.1" cy="444.5" r="1.8"/><circle cx="20.5" cy="343.3" r="1.3"/><circle cx="296.9" cy="292.8" r="1.4"/><circle cx="410.2" cy="545.2" r="2"/><circle cx="116.3" cy="241.8" r="1.4"/><circle cx="222.9" cy="206.7" r="1.8"/><circle cx="556.5" cy="398.7" r="1.6"/><circle cx="-18.3" cy="403.3" r="1.6"/><circle cx="-41" cy="395.4" r="1.4"/><circle cx="301.7" cy="506.7" r="1.2"/><circle cx="256" cy="396.6" r="1.4"/><circle cx="196.1" cy="347.7" r="2.4"/><circle cx="63.5" cy="147.7" r="1.2"/><circle cx="581.6" cy="489" r="1.3"/><circle cx="146.4" cy="292.7" r="1.2"/></g></g>
<g clip-path="url(#gc)" fill="#d3c8c5"><path d="M60 241L104.7 223.4L154.5 204.5L184.3 192.4L244.7 172.5L295 158.8L350 146L414.7 130.8L460 119.2L484.4 112.6L500 115.2L508 118L509.8 125L507 131L499.3 133L439.6 147L389.8 158.2L350 167L295 180.4L244.7 193.4L210 202.4L154.5 223.6L104.7 241L64.5 256.2A7.9 7.9 0 0 1 60 241Z"/><path d="M9.5 385.8C25.6 380 36.8 375.8 70 364.2C103.2 352.6 98 356.7 134 342.2C170 327.7 179.4 320.7 205 310C230.6 299.3 204.7 309.8 230 301.9C255.3 294 254.7 294 300 280.2C345.3 266.5 362.7 261.5 400 250.2C437.3 239 405.3 248 440 237.9C474.7 227.9 484.7 225.3 530 212.4C575.3 199.5 566.5 201.6 610 189.6C653.5 177.6 659.7 176.5 693 167.3C726.3 158.1 723.8 158.3 735 155L735 171C723.8 174 726.3 173.5 693 182.3C659.7 191.1 653.5 192.2 610 204C566.5 215.8 575.3 213.8 530 226.4C484.7 239 474.7 241.6 440 251.2C405.3 260.9 437.3 251.9 400 262.8C362.7 273.6 345.3 278.3 300 291.8C254.7 305.2 255.3 305.3 230 313.1C204.7 320.9 230.6 310.4 205 321C179.4 331.6 170 338.5 134 352.8C98 367.1 103.2 363.2 70 374.8C36.8 386.4 25.6 390.5 9.5 396.2A5.2 5.2 0 0 1 9.5 385.8Z"/><path d="M80 428C98.7 418.9 114.9 410 150 394C185.1 378 183.6 380.8 211.6 368C239.6 355.2 231.4 357.7 255 346C278.6 334.3 277.3 333.2 300 324C322.7 314.8 316 318.3 340 311.5C364 304.7 368.7 304.1 390 298.5C411.3 292.9 406.7 294.1 420 290.5C433.3 286.9 432 287.3 440 285C448 282.7 439.3 285.1 450 282C460.7 278.9 467.5 277.1 480 273.5C492.5 269.9 479.7 273.6 497 268.5C514.3 263.4 528.2 259.4 545 254.5C561.8 249.6 544.9 254.1 560 250.2C575.1 246.3 585.5 243.7 601.5 239.8C617.5 235.9 599.1 240.6 620 235.5C640.9 230.4 649.3 228.4 680 220.5C710.7 212.6 720.3 209.9 735 206L735 224C720.3 227.6 710.7 230 680 237.5C649.3 245 640.9 246.9 620 252C599.1 257.1 617.5 252 601.5 256.5C585.5 261 575.1 264.3 560 268.8C544.9 273.3 561.8 268.4 545 273.5C528.2 278.6 514.3 282.9 497 288C479.7 293.1 492.5 289.5 480 292.5C467.5 295.5 460.7 296.8 450 299.3C439.3 301.8 448 299.3 440 302C432 304.7 433.3 303.8 420 309.5C406.7 315.2 403.3 317 390 323.5C376.7 330 383.3 327.7 370 334C356.7 340.3 358.7 339 340 347C321.3 355 317.3 358.7 300 364C282.7 369.3 288.7 365.4 275 367C261.3 368.6 270.1 362.3 248.6 370C227.1 377.7 220.7 384.8 194.4 396C168.1 407.2 172.5 403.5 150 412C127.5 420.5 120.7 423.7 110 428Z"/></g>
<g clip-path="url(#gc)"><path d="M549.5 122C541.1 122.5 547.8 130.3 546.5 134C545.2 137.7 543.8 140.4 542.2 142.3C540.6 144.2 539.5 143.7 537.9 144.3C536.3 145 534.8 145.3 533.5 146C532.2 146.7 531.8 147.6 530.8 148.4C529.8 149.2 529.1 149.8 528 150.5C526.9 151.2 526 151.6 524.8 152.2C523.6 152.8 522.8 153.4 521.5 153.8C520.3 154.2 519.3 154.2 518 154.4C516.7 154.6 515.7 154.2 514.4 154.9C513.1 155.6 512.5 157.1 511 157.9C509.6 158.7 508 158.4 506.5 159.2C505.1 160 504.5 161.3 503.2 162.3C501.9 163.3 500.8 163.9 499.5 164.8C498.2 165.7 497.4 166.6 496.1 167.3C494.7 168 493.5 168.1 492.2 168.8C490.8 169.4 490 170.3 488.6 171C487.2 171.6 485.9 172.2 484.6 172.3C483.3 172.4 482.5 171.7 481.3 171.7C480 171.7 479.2 172.2 477.9 172.3C476.7 172.4 475.7 172.8 474.6 172.4C473.5 172 473 171 471.9 170.4C470.8 169.8 469.9 169.7 468.8 169.1C467.7 168.6 467.2 168 465.9 167.4C464.6 166.8 463.1 166.3 461.5 165.6C459.9 164.9 458.7 163.9 457.2 163.6C455.7 163.3 454.6 163.7 453.2 164.1C451.8 164.6 451 165.3 449.7 166.1C448.4 166.9 447.4 167.4 446.1 168.2C444.8 169.1 444 169.8 442.8 170.8C441.6 171.8 440.2 172.5 439.7 173.6C439.2 174.7 440 175.8 440 177C439.9 178.2 439.6 179.1 439.3 180.3C439.1 181.5 439.6 182.3 438.5 183.6C437.4 184.9 434.7 187.2 433.5 187.3C432.3 187.4 432.8 185.1 432.1 183.9C431.4 182.8 430.9 182.1 429.8 181.1C428.7 180.1 427.4 178.1 426 178.6C424.6 179.1 423.1 181.8 422.3 183.6C421.5 185.4 422.1 186.6 421.5 188.3C421 189.9 419.8 190.9 419.3 192.6C418.7 194.2 419.1 195.6 418.6 197.3C418.1 199 417.6 200.3 416.7 201.9C415.8 203.5 414.7 204.5 413.9 206.1C413.1 207.8 413.4 209.7 412.4 210.9C411.4 212.1 409.7 211.8 408.6 212.8C407.4 213.8 407.2 215.3 406.1 216.4C405 217.4 403.8 217.9 402.4 218.4C401 218.9 399.9 218.8 398.5 219.3C397.2 219.7 396.7 220.2 395 221C393.3 221.8 391.1 223.2 389.3 223.5C387.5 223.8 386.7 222.6 385.2 222.6C383.7 222.6 382.5 223.5 381 223.4C379.4 223.3 378.5 222.8 376.9 222.2C375.3 221.6 373.9 221.2 372.3 220.3C370.7 219.4 369 218.5 368.2 217.3C367.4 216.1 368.1 215.1 367.7 213.9C367.3 212.7 366.2 212 365.8 210.8C365.5 209.6 365.4 208.6 365.7 207.3C366 206 366.8 204.9 367.5 203.5C368.2 202.1 368.5 201.1 369.4 199.8C370.3 198.5 371.2 197.6 372.3 196.5C373.4 195.4 375 194.8 375.6 193.6C376.2 192.4 375.7 191.2 375.5 189.8C375.2 188.4 375.7 187.2 374.4 186.1C373.1 185 370.5 183.8 368.2 183.6C365.9 183.4 363.8 184.9 361.9 184.9C360 184.9 359.2 184.4 357.9 183.7C356.5 183 356.3 181.9 354.5 181.2C352.7 180.5 349.5 179.4 348.2 179.9C346.9 180.4 347.7 182.4 347.3 183.7C346.9 185.1 346.5 186 345.8 187.4C345.1 188.8 344.4 190.3 343.2 191.6C342.1 193 340.5 193.7 339.5 194.9C338.5 196.1 338.5 197.2 337.5 198.2C336.6 199.2 335.3 199.5 334.3 200.5C333.3 201.5 333.3 203.2 332.1 203.6C330.9 204 329.4 203 327.8 202.7C326.2 202.5 325.4 201.9 323.4 202.3C321.4 202.7 319.1 204 317.1 204.8C315.1 205.6 314.3 206 312.7 206.8C311.1 207.7 310 208.3 308.5 209.3C307.1 210.3 306.2 211.5 304.7 212.3C303.2 213.1 302 213.1 300.6 213.8C299.2 214.5 298.4 215.3 297.1 216.2C295.8 217 294.9 218.7 293.5 218.5C292.1 218.3 291.1 214.8 289.7 214.8C288.3 214.8 286.9 217 286 218.5C285.1 220 285.4 221.3 284.9 222.9C284.5 224.5 284.2 225.9 283.5 227.2C282.8 228.5 281.7 229 281 230.2C280.4 231.5 280.8 232.9 280 234C279.2 235.1 278.1 235.5 276.8 236.2C275.5 236.9 274.5 237.3 273.1 237.7C271.8 238.2 270.6 238.7 269.3 238.7C268 238.7 267.3 238 266.1 237.6C264.9 237.3 264 237 262.8 236.7C261.6 236.5 260.5 235.6 259.4 236.2C258.3 236.8 257.6 238.7 256.9 240C256.2 241.3 256.1 242.2 255.4 243.4C254.7 244.5 254.1 245.2 253.1 246.2C252.1 247.2 251.1 247.8 250 248.7C248.8 249.6 248 250.2 246.9 251.2C245.8 252.2 245.1 252.8 244.2 253.9C243.3 255 242.8 255.9 241.9 257C241.1 258.1 240.5 259.1 239.5 259.9C238.5 260.7 237.5 261.1 236.3 261.4C235 261.8 233.8 261.3 232.6 261.7C231.3 262.1 231 263.2 229.5 263.6C228 264 226.3 264.1 224.4 263.8C222.6 263.4 221.5 262.1 219.7 261.7C217.8 261.4 216.2 261.8 214.6 261.9C213 262 212.2 262.1 210.8 262.1C209.4 262.1 208.4 262.3 207.1 262.1C205.7 261.8 204.8 260.7 203.4 260.5C202 260.4 200.9 261.5 199.6 261.1C198.3 260.7 197.3 259.5 196.2 258.3C195 257.2 194.7 256.2 193.4 254.9C192.1 253.6 190.4 251.2 189.2 251.2C188 251.2 187.6 253.4 186.8 254.8C185.9 256.1 185.7 257.7 184.7 258.6C183.7 259.5 182.7 259.4 181.4 259.6C180.1 259.7 179.1 259.2 177.8 259.5C176.6 259.8 176.2 261 174.7 261.1C173.2 261.2 171.6 260.2 169.9 260C168.1 259.8 166.7 259.9 164.9 259.9C163.1 259.9 161.6 259.8 160 260C158.4 260.2 157.6 260.8 156.3 260.8C154.9 260.7 153.9 259.7 152.5 259.6C151.1 259.6 150.1 260.5 148.8 260.6C147.4 260.7 148.4 260.2 145 260.2C141.6 260.2 134.6 260.1 130 260.4C125.4 260.7 122.8 260.9 120 262C117.2 263.1 115.8 264.6 114.5 266.5C113.2 268.4 112.8 270.3 112.8 272.5C112.8 274.7 113.2 276.6 114.5 278.5C115.8 280.4 117.2 281.7 120 283C122.8 284.3 125.4 284.7 130 285.6C134.6 286.5 140 287.3 145 287.8C150 288.3 154.2 288.4 157.3 288.5C160.4 288.6 160.1 288.2 161.7 288.3C163.3 288.3 164.5 288.4 166.1 288.7C167.7 289.1 168.7 289.9 170.3 290.2C171.9 290.5 173 290.3 174.7 290.4C176.4 290.5 177.8 290.8 179.7 290.8C181.5 290.9 182.8 290.8 184.7 290.8C186.5 290.7 187.8 290.5 189.6 290.6C191.5 290.6 192.8 290.8 194.6 291.2C196.4 291.6 198.1 291.8 199.7 292.8C201.3 293.8 202.4 295 203.3 296.9C204.2 298.8 204.2 301.5 204.5 303.4C204.8 305.3 204.5 305.8 204.8 307.1C205.1 308.4 205.8 309.3 206.3 310.5C206.8 311.7 207.2 312.6 207.4 313.9C207.7 315.1 207.7 315.8 207.8 317.4C207.9 319 208.1 320.6 207.9 322.4C207.8 324.2 206.9 325.7 207.1 327.3C207.3 328.9 208.4 329.5 208.9 330.9C209.4 332.2 210 333.5 209.6 334.8C209.2 336.1 207.4 336.8 206.5 338.1C205.6 339.5 205.5 341.2 204.6 342.3C203.7 343.4 202.8 343.9 201.5 344.2C200.3 344.5 199 343.8 197.7 344.2C196.4 344.5 195.9 345.9 194.6 346C193.3 346.1 192 345.2 190.5 344.9C189 344.6 187.8 344.8 186.3 344.5C184.8 344.2 183.6 343.6 182.2 343.5C180.8 343.4 180 344 178.8 343.8C177.6 343.6 176.8 342.7 175.6 342.4C174.4 342.2 174 341.9 172.2 342.3C170.4 342.7 167.9 344.5 166 344.5C164.1 344.5 163.2 343.5 161.9 342.6C160.5 341.6 159.7 340.6 158.5 339.5C157.3 338.4 156.5 337.7 155.4 336.6C154.3 335.5 153.4 334.7 152.5 333.5C151.6 332.3 151.5 331.3 150.8 330.1C150 328.9 150.1 327.3 148.5 327C146.9 326.7 143.1 327.4 142 328.5C140.9 329.6 142.3 331.3 142.7 332.8C143.1 334.4 143.5 335.7 144 337C144.5 338.3 145 338.9 145.6 340C146.2 341 146.7 341.8 147.5 342.7C148.3 343.7 148.9 344 150 345C151.1 346 152 347.3 153.4 348.4C154.8 349.5 157.8 350 157.5 351C157.2 352 153.9 353 152 354C150.1 355 147.5 356.2 147.3 356.7C147.1 357.2 149.6 356.6 150.9 356.5C152.2 356.4 153.1 356 154.5 356.1C155.8 356.2 156.5 356.7 158 357C159.5 357.3 160.9 357.8 162.6 357.9C164.3 358.1 165.7 357.4 167.3 357.8C168.9 358.2 169.6 359.6 171.2 360C172.7 360.5 174.3 359.8 175.8 360.2C177.4 360.7 178.3 362 179.7 362.5C181.1 363 182.1 362.8 183.4 363.1C184.8 363.3 185.8 363.6 187.1 363.9C188.5 364.2 189.4 364.6 190.8 364.8C192.2 365 193.2 364.9 194.6 365C196 365.1 197 365.2 198.4 365.2C199.7 365.2 200.8 365 202.1 365.1C203.5 365.3 204.5 365.8 205.8 366C207.2 366.3 208.3 366.1 209.6 366.3C210.9 366.5 211.7 366.8 212.9 367.3C214 367.7 214.8 368.4 216 368.7C217.2 368.9 218.1 368.8 219.5 368.8C220.9 368.8 222.2 368.3 223.7 368.5C225.2 368.8 226.2 370.1 227.8 370.3C229.3 370.6 230.5 370.3 232 370C233.5 369.7 234.6 369.3 236.1 368.8C237.6 368.2 238.6 367.5 240.1 367C241.6 366.6 243 366.1 244.4 366.3C245.8 366.5 246.3 367.6 247.6 367.9C248.8 368.2 249.9 367.7 251.2 367.9C252.4 368.2 253 369 254.4 369.3C255.8 369.6 257.3 369.3 258.9 369.7C260.5 370 261.5 370.7 263.1 371.2C264.6 371.8 265.8 372.4 267.3 372.5C268.8 372.6 269.9 371.9 271.5 372C273 372.2 274.1 373 275.6 373.1C277.2 373.2 278.3 372.7 279.8 372.5C281.3 372.3 282.4 372.1 283.9 372C285.5 371.9 286.6 372.1 288.1 371.9C289.7 371.7 290.7 371.1 292.2 370.8C293.7 370.5 294.9 370.3 296.4 370.4C297.9 370.5 299 371.3 300.5 371.5C302 371.6 303.2 371.2 304.7 371.3C306.2 371.4 307.3 372 308.8 372.2C310.4 372.4 311.6 371.9 313.1 372.2C314.6 372.5 315.6 373.5 317.1 373.8C318.6 374.1 319.8 373.9 321.4 374C322.9 374.2 324.1 374.3 325.6 374.7C327.1 375 327.9 375.9 329.6 376.2C331.3 376.5 332.8 376.3 334.6 376.3C336.4 376.3 337.7 376.3 339.6 376.2C341.4 376.1 342.7 375.8 344.5 375.8C346.4 375.8 347.7 376.2 349.5 376.2C351.3 376.3 352.7 376.1 354.5 376.2C356.3 376.3 357.7 376.5 359.5 376.5C361.3 376.6 362.6 376.3 364.5 376.4C366.3 376.4 367.6 376.8 369.4 376.8C371.3 376.8 372.6 376.5 374.4 376.4C376.2 376.3 377.7 376.4 379.4 376.2C381.1 376 382 375.6 383.5 375.4C385 375.3 386.1 375.4 387.6 375.5C389.2 375.6 390.3 375.9 391.8 376.1C393.3 376.2 394.4 376.2 395.9 376.3C397.4 376.3 398.3 376.2 400 376.3C401.7 376.4 403.1 376.6 405 376.7C406.8 376.9 408.1 377.2 409.9 377.3C411.7 377.4 413 377.3 414.9 377.2C416.7 377.1 418 376.6 419.9 376.6C421.7 376.6 423.1 377.2 424.8 377.2C426.5 377.2 427.5 376.6 429.1 376.6C430.7 376.7 431.8 377.4 433.4 377.4C435 377.4 436.2 376.9 437.7 376.7C439.3 376.6 440.5 376.7 442.1 376.8C443.6 376.8 444.8 376.9 446.4 376.9C448 376.9 449.1 376.9 450.7 376.9C452.3 377 451.1 377.2 455 377.2C458.9 377.2 466.7 377.3 472 377C477.3 376.7 480.5 376.6 484 375.8C487.5 375 489.3 373.9 491 372.5C492.7 371.1 493.4 369.6 493.5 368C493.6 366.4 493.1 365.2 491.5 364C489.9 362.8 488.6 362 485 361.3C481.4 360.6 477.5 360.4 472 360C466.5 359.6 459.9 359.3 455 359C450.1 358.7 447.5 358.4 445 358.3C442.5 358.2 442.8 358.4 441.5 358.2C440.3 358 439.5 357.3 438.2 357.1C437 356.8 436.1 356.9 434.8 356.8C433.5 356.7 432.4 356.9 431 356.6C429.6 356.4 428.7 355.7 427.3 355.5C426 355.2 424.9 355.4 423.6 355.3C422.2 355.2 421 355.4 419.8 354.8C418.6 354.2 417.9 353.1 417 351.9C416.1 350.8 415.8 349.6 414.9 348.5C414 347.4 413 346.9 412.2 345.8C411.3 344.7 411 343.6 410.1 342.5C409.3 341.4 408.6 340.4 407.4 339.8C406.2 339.2 404.8 339.7 403.5 339.2C402.1 338.8 401.2 338.1 400 337.3C398.8 336.5 398 335.9 397 335C395.9 334.1 395.4 333 394.3 332.3C393.2 331.6 392.1 331.8 390.9 331.2C389.7 330.6 389.1 329.6 387.9 329.1C386.7 328.6 385.6 328.8 384.3 328.6C383 328.4 382.2 328.2 381 327.8C379.8 327.5 379 326.9 377.8 326.5C376.6 326.2 375.8 326.1 374.4 326.1C373 326.1 371.6 326.4 370 326.4C368.5 326.4 367 325.9 365.7 326.1C364.4 326.3 363.8 327 362.8 327.7C361.8 328.4 361.2 329.3 360.2 329.9C359.1 330.5 358.5 330.9 357 331.1C355.5 331.3 353.6 331.8 352 331.1C350.4 330.4 349.6 328 348.2 327.3C346.8 326.6 345.9 327.5 344.5 327.5C343.1 327.5 342.2 326.9 340.8 327.3C339.4 327.7 338.1 329.8 337 329.8C335.9 329.8 335.7 327.7 334.6 327.3C333.5 326.9 332.2 327.8 330.9 327.8C329.5 327.8 328.7 326.9 327.1 327.3C325.5 327.7 323.1 328.5 322.1 329.8C321.1 331.1 321.9 332.6 321.9 334.1C321.9 335.7 321.1 337 322.1 338.5C323.1 340 326.4 340.9 327.1 342.3C327.8 343.7 326.8 345.1 325.8 346C324.8 346.9 323.1 347 321.5 347.5C319.9 347.9 318.8 347.9 317.1 348.5C315.4 349.1 313.7 350.5 312.2 351C310.7 351.5 310.1 351.3 308.9 351.4C307.6 351.5 306.8 351.6 305.5 351.5C304.3 351.5 303.4 351.3 302.2 351C301 350.7 300.2 350.1 298.9 349.9C297.7 349.7 296.6 350.1 295.4 349.9C294.2 349.6 293.5 349.2 292.2 348.5C290.9 347.8 290.1 346.2 288.5 346C286.9 345.8 284.9 348.2 283.5 347.3C282.1 346.4 280.8 343.1 281 341C281.2 338.9 283.9 337.6 284.8 336.1C285.7 334.6 285.5 333.8 286.1 332.7C286.8 331.5 287.8 330.9 288.5 329.8C289.2 328.7 289.4 327.9 289.9 326.7C290.4 325.6 290.5 324.7 291.2 323.6C291.8 322.6 293.2 322.4 293.5 321.1C293.8 319.8 292.8 318.3 292.8 316.8C292.8 315.2 293.9 313.8 293.5 312.4C293.1 311 291.5 310.5 290.4 309.3C289.2 308.2 288.5 307.1 287.3 306.2C286.1 305.3 285.1 305.1 283.9 304.3C282.8 303.6 282.1 302.6 280.9 301.9C279.7 301.2 278.6 300.7 277.3 300.5C276 300.3 275.2 300.9 274 301C272.7 301.2 271.9 301.3 270.6 301.2C269.4 301.1 268.3 300.3 267.3 300.5C266.3 300.7 266.1 301.3 265 302.2C263.9 303.1 262.6 304.5 261.3 305.2C260 305.9 259 305.5 257.7 305.8C256.4 306 255.7 305.8 254.2 306.4C252.7 307 251.2 307.9 249.5 309.3C247.8 310.7 246.3 312.4 244.7 314.1C243.1 315.8 241.8 318.8 240.6 318.8C239.4 318.8 238.9 315.8 238.2 314.1C237.5 312.4 236.7 311.3 236.7 309.3C236.7 307.3 237.5 305.6 238.2 303.4C238.9 301.2 239.9 299.4 240.6 297.5C241.3 295.6 241 294.5 241.8 292.8C242.6 291.1 244.3 289.5 244.7 288C245.1 286.5 243.8 285.7 244.2 284.5C244.6 283.3 245.9 282.3 247.1 281.5C248.3 280.7 249.3 280.6 250.6 280.3C251.9 280 252.9 280.2 254.2 279.7C255.5 279.2 256.5 278.2 257.9 277.6C259.3 276.9 260.8 277 261.9 276.1C263 275.2 263.1 273.9 264.1 272.9C265.1 271.9 266.3 271.6 267.2 270.6C268.2 269.5 268.5 268.5 269.3 267.3C270.1 266.1 270.5 265.1 271.5 263.9C272.4 262.8 273.2 261.9 274.3 261.1C275.4 260.3 276.4 260 277.6 259.3C278.8 258.7 279.6 258.1 280.8 257.5C282.1 256.9 283 256.9 284.3 256.1C285.6 255.3 286.6 254.3 287.8 253.2C289.1 252.1 289.8 251.1 291.1 250C292.4 248.8 293.3 248.1 294.7 247.1C296.1 246.1 297.2 245.4 298.7 244.6C300.2 243.8 301.4 243.5 302.9 242.8C304.5 242.1 305.8 241.8 307.2 240.9C308.6 240 309.3 238.9 310.7 238.1C312.2 237.3 313.7 237.4 315.1 236.5C316.5 235.7 317.3 234.4 318.4 233.4C319.5 232.4 320.3 232.2 321.3 231.3C322.2 230.4 322.6 229.5 323.4 228.5C324.2 227.6 324.8 227 325.8 226C326.8 225 327.6 224.2 328.8 223.3C330 222.4 330.8 221.5 332.1 221C333.4 220.5 334.5 221 335.9 220.8C337.2 220.6 338.2 220.3 339.5 219.7C340.8 219.1 341.7 218.3 343.1 217.6C344.5 216.9 345.8 217.4 347 216C348.2 214.6 348.4 211.4 349.5 209.8C350.6 208.2 351.8 207.1 353.2 207.3C354.6 207.5 356.3 209.7 357 211C357.7 212.3 357.1 213.2 356.8 214.4C356.5 215.6 355.6 216.4 355.4 217.6C355.2 218.8 355.9 219.6 355.7 221C355.5 222.4 354.9 223.7 354.4 225.3C353.9 226.9 352.7 228.2 353.2 229.7C353.7 231.2 355.5 232.6 357 233.4C358.5 234.2 359.6 233.7 361.1 233.8C362.6 234 363.8 234.2 365.3 234.1C366.8 234 367.7 233.5 369.4 233.4C371.1 233.3 372.6 233.7 374.4 233.6C376.2 233.5 377.5 233.1 379.4 232.9C381.2 232.6 382.7 232.2 384.3 232.2C385.9 232.2 386.5 232.8 387.8 233.1C389.1 233.3 390.1 233.4 391.4 233.4C392.7 233.5 393.7 233.3 395 233.3C396.3 233.3 397.3 233.5 398.5 233.2C399.7 232.9 400.4 232.2 401.6 231.8C402.8 231.3 403.6 231.6 404.9 230.9C406.2 230.2 407.4 229.1 408.8 227.9C410.1 226.7 411.2 225.9 412.4 224.6C413.6 223.3 414.4 222.1 415.6 220.7C416.8 219.4 417.7 218.4 418.9 217C420.1 215.7 421.2 214.5 422.3 213.4C423.4 212.3 424.3 212.2 425.1 211.2C425.9 210.2 426 209 426.8 208C427.7 207 428.5 206.2 429.8 206C431.1 205.8 432.4 206.8 433.9 206.8C435.4 206.8 436.6 206.3 438.1 206.2C439.6 206 440.5 206.7 442.2 206C443.9 205.3 446 203.6 447.2 202.2C448.4 200.8 448.3 199.7 448.8 198.2C449.3 196.7 449.5 195.5 449.9 194C450.3 192.4 450.2 190.8 451 189.8C451.8 188.8 453.3 189.1 454.4 188.4C455.6 187.7 456 186.3 457.2 186C458.4 185.7 459.7 186.3 461.1 186.7C462.4 187.2 463.3 187.8 464.6 188.5C465.9 189.2 466.9 189.9 468.2 190.6C469.6 191.3 470.6 191.9 472 192.3C473.4 192.7 474.4 193 475.8 193C477.2 193 478.3 192.6 479.6 192.2C480.9 191.8 481.6 191.1 482.8 190.8C484.1 190.5 485.2 190.8 486.4 190.3C487.6 189.9 488.3 189.2 489.5 188.5C490.7 187.8 491.8 187.2 493.2 186.6C494.6 185.9 495.7 185.7 497.1 185C498.5 184.3 499.3 183.5 500.7 182.8C502 182 503.2 181.9 504.5 181C505.8 180.1 506.5 178.9 507.8 177.9C509.1 176.9 510.2 176.4 511.7 175.6C513.1 174.8 514.3 174.5 515.7 173.7C517.2 172.9 517.7 172.1 519.4 171.1C521.1 170.1 523.2 169.5 524.8 168.4C526.4 167.3 526.7 166.2 528 165.2C529.3 164.2 530 163.4 531.9 162.8C533.8 162.2 537 161.5 538.5 162.2C540 162.9 539 165.5 540 166.7C541 167.9 542.5 167.8 543.8 168.6C545.2 169.4 546.1 170.1 547.4 170.9C548.7 171.7 549.6 172.3 551 172.9C552.3 173.6 553.4 173.8 554.7 174.6C556 175.4 556.8 176.5 558.2 177.2C559.6 178 560.9 178 562.3 178.7C563.7 179.4 564.6 180.1 566 181C567.4 181.9 568.5 182.7 570.1 183.6C571.6 184.4 572.9 184.7 574.4 185.7C575.9 186.7 576.5 188.1 578 189C579.5 189.9 580.9 190 582.4 190.9C583.9 191.8 584.7 192.8 586.1 193.9C587.5 194.9 588.2 196.1 590 196.5C591.8 196.9 594.4 196.8 596 196C597.6 195.2 598.8 193.4 599 192C599.2 190.6 598 189.7 597.2 188.5C596.4 187.4 595.2 186.9 594.5 185.7C593.7 184.5 593.6 183.4 593 182C592.4 180.6 591.8 179.5 591 178.2C590.1 176.9 589.2 176.1 588.2 174.9C587.1 173.8 586.1 173.1 585 172C583.9 170.9 583.3 170 582.3 168.8C581.3 167.6 580.5 166.8 579.6 165.6C578.6 164.4 577.8 164 577.1 162.2C576.4 160.4 575.7 157.6 576 156C576.3 154.4 577.7 154.4 578.5 153.3C579.2 152.2 579.3 151.3 580 150C580.7 148.7 581.4 147.5 582.3 146.1C583.2 144.8 584.1 143.9 585 142.5C585.9 141.1 586 139.7 587 138.3C587.9 136.9 589.2 136.3 590.2 134.9C591.2 133.6 600 133.4 592.5 131C585 128.6 557.9 121.5 549.5 122ZM215.7 292.8C217.1 291.5 228.2 286.5 229.9 286.8C231.6 287.1 228.7 292.1 228.8 295.1C228.9 298.1 230.3 306.4 230.5 309.3C230.7 312.2 231.1 315.4 230.5 316.5C229.9 317.6 226.8 318.2 226 317.6C225.2 317 225.3 313.6 224.6 311.7C223.9 309.8 221.2 305.4 220.5 303.4C219.8 301.4 219.9 298.3 219.3 296.9C218.7 295.5 214.3 294.1 215.7 292.8ZM230.5 291C231.5 289.2 232.4 288.2 234.1 288C235.8 287.8 237.5 288.4 238.8 289.8C240.1 291.2 240.6 293.1 240.6 295.1C240.6 297.1 240 298.1 238.8 299.9C237.6 301.7 236.1 303.5 234.7 304C233.3 304.5 232.8 303.6 231.7 302.2C230.6 300.8 229.5 299.1 229.3 296.9C229.1 294.7 229.5 292.8 230.5 291Z" fill="#5f3315" fill-rule="evenodd" mask="url(#cm)"/></g>
<path d="M-5 102C12.5 102 65.8 102 100 102C134.2 102 166.7 102 200 102C233.3 102 270 102 300 102C330 102 360.8 102 380 102C399.2 102 406.7 102 415 102C423.3 102 425.8 102 430 102C434.2 102 436.3 102 440 102C443.7 102 448.3 102 452 102.1C455.7 102.3 458.7 102.4 462 102.7C465.3 103 468.7 103.5 472 104.1C475.3 104.8 478.3 105.5 482 106.4C485.7 107.3 490 108.6 494 109.8C498 110.9 501.7 112.1 506 113.3C510.3 114.6 515.3 116.1 520 117.4C524.7 118.7 529.2 120 534 121.2C538.8 122.4 543 123.3 549 124.6C555 125.9 563 127.7 570 129C577 130.3 584.3 131.6 591 132.6C597.7 133.6 603.5 134.3 610 135C616.5 135.7 621.7 136.2 630 136.8C638.3 137.4 648.3 137.9 660 138.6C671.7 139.2 687.5 140.1 700 140.7C712.5 141.3 729.2 142.1 735 142.4L735 145.6C729.2 145.3 712.5 144.5 700 143.9C687.5 143.3 671.7 142.4 660 141.8C648.3 141.1 638.3 140.6 630 140C621.7 139.4 616.5 138.9 610 138.2C603.5 137.5 597.7 136.8 591 135.8C584.3 134.8 577 133.5 570 132.2C563 130.9 555 129.1 549 127.8C543 126.5 538.8 125.6 534 124.4C529.2 123.2 524.7 121.9 520 120.6C515.3 119.3 510.3 117.9 506 116.7C501.7 115.4 498 114.4 494 113.2C490 112.1 485.7 110.9 482 110C478.3 109.1 475.3 108.4 472 107.9C468.7 107.3 465.3 106.8 462 106.5C458.7 106.2 455.7 106.1 452 106.1C448.3 106 443.7 106 440 106C436.3 106 434.2 106 430 106C425.8 106 423.3 106 415 106C406.7 106 399.2 106 380 106C360.8 106 330 106 300 106C270 106 233.3 106 200 106C166.7 106 134.2 106 100 106C65.8 106 12.5 106 -5 106Z" fill="#000"/>
<g><path d="M47 103.5Q45 94.8 35.5 94.5Q46.7 95.3 49.6 103.5Z" fill="#336b2d"/><path d="M46.9 103.5Q45.2 94.2 36.5 92.5Q47.4 94.7 50 103.5Z" fill="#245423"/><path d="M47.2 103.5Q46.1 95.5 39 93.6Q48 96 49.9 103.5Z" fill="#2c6229"/><path d="M47.3 103.5Q46.2 93.4 39 89.6Q48.1 93.9 50.2 103.5Z" fill="#478438"/><path d="M47.3 103.5Q46.8 94.6 41.4 90.8Q49 95.1 50.4 103.5Z" fill="#3a7632"/><path d="M47.9 103.5Q47.8 94.6 44.6 89.8Q49.7 95.1 50.6 103.5Z" fill="#245423"/><path d="M48.3 103.5Q48.2 94.3 45.3 89.2Q49.7 94.8 50.5 103.5Z" fill="#478438"/><path d="M48.3 103.5Q48.2 93.3 45.3 87.5Q49.7 93.8 50.5 103.5Z" fill="#478438"/><path d="M48.4 103.5Q48.9 91.9 48.8 84.8Q51 92.4 51.4 103.5Z" fill="#478438"/><path d="M48.7 103.5Q49.4 92.8 50.3 86.3Q51.2 93.3 51.3 103.5Z" fill="#336b2d"/><path d="M48.8 103.5Q49.9 92.6 52.1 85.9Q51.8 93.1 51.7 103.5Z" fill="#245423"/><path d="M49 103.5Q50.4 90.5 53.9 82.8Q52.3 91 51.7 103.5Z" fill="#336b2d"/><path d="M49.6 103.5Q51.5 91.3 57.5 84.7Q53.1 91.8 51.9 103.5Z" fill="#336b2d"/><path d="M49.3 103.5Q51.7 91.3 58.8 85.2Q53.8 91.8 52.4 103.5Z" fill="#478438"/><path d="M49.8 103.5Q51.9 92.8 58.9 87.8Q53.5 93.3 52.2 103.5Z" fill="#478438"/><path d="M49.7 103.5Q51.7 95 58.7 91.6Q53.8 95.5 52.7 103.5Z" fill="#478438"/><path d="M49.9 103.5Q52.2 95.4 60.2 93Q54.3 95.9 52.9 103.5Z" fill="#336b2d"/><path d="M50.1 103.5Q53.4 94 64.1 92.4Q55.5 94.5 53.1 103.5Z" fill="#245423"/><path d="M50.2 103.5Q53.5 94.6 64.1 93.7Q55.5 95.1 53.1 103.5Z" fill="#245423"/><path d="M370.2 103.5Q369.3 94.1 363.2 90.2Q371 94.6 372.5 103.5Z" fill="#2c6229"/><path d="M370.6 103.5Q369.5 91.1 363.6 84.9Q371 91.6 372.7 103.5Z" fill="#245423"/><path d="M370.7 103.5Q370.1 93.8 365.5 88.8Q371.4 94.3 372.5 103.5Z" fill="#336b2d"/><path d="M371 103.5Q370.7 91.3 367.5 84.2Q372.1 91.8 373 103.5Z" fill="#336b2d"/><path d="M371.1 103.5Q370.8 93.1 368 87.1Q372.1 93.6 372.9 103.5Z" fill="#2c6229"/><path d="M371.2 103.5Q371.4 92.3 370.2 85.5Q372.8 92.8 373.3 103.5Z" fill="#336b2d"/><path d="M371.2 103.5Q371.7 90.3 371.6 82.3Q373.3 90.8 373.6 103.5Z" fill="#245423"/><path d="M371.3 103.5Q372.3 90.2 374.3 82.1Q374.2 90.7 374 103.5Z" fill="#3a7632"/><path d="M371.6 103.5Q372.7 91.4 375.8 84.2Q374.5 91.9 374.1 103.5Z" fill="#3a7632"/><path d="M371.6 103.5Q372.7 92.4 375.3 85.7Q374.4 92.9 374 103.5Z" fill="#2c6229"/><path d="M372.1 103.5Q373.3 94.6 377.6 89.7Q374.9 95.1 374.3 103.5Z" fill="#478438"/><path d="M372 103.5Q373.8 92.2 379.4 86.1Q375.5 92.7 374.5 103.5Z" fill="#245423"/><path d="M372.6 103.5Q374.6 92.6 381.8 87.6Q375.9 93.1 374.4 103.5Z" fill="#3a7632"/><path d="M372.1 103.5Q374.6 91.3 382.3 85.4Q376.4 91.8 374.8 103.5Z" fill="#478438"/><path d="M672.8 141Q672.3 135.4 666.6 134.9Q673.8 135.9 674.9 141Z" fill="#478438"/><path d="M673.4 141Q673 134.7 668.3 132.6Q674.1 135.2 675 141Z" fill="#2c6229"/><path d="M673.4 141Q673.3 135 669.4 132.6Q674.6 135.5 675.2 141Z" fill="#2c6229"/><path d="M673.6 141Q673.5 133.4 669.9 129.6Q674.8 133.9 675.6 141Z" fill="#245423"/><path d="M674.1 141Q674 133.8 671.4 129.8Q675 134.3 675.6 141Z" fill="#3a7632"/><path d="M674.4 141Q674.5 132.8 673.4 127.9Q675.7 133.3 676 141Z" fill="#336b2d"/><path d="M674.6 141Q675.2 133.4 676 128.8Q676.5 133.9 676.5 141Z" fill="#478438"/><path d="M675.1 141Q675.6 133.6 677.3 129.1Q676.6 134.1 676.5 141Z" fill="#478438"/><path d="M675.3 141Q676.2 133.2 679.7 128.9Q677.4 133.7 677 141Z" fill="#2c6229"/><path d="M675.4 141Q676.3 135.1 680.5 132.3Q677.9 135.6 677.6 141Z" fill="#336b2d"/><path d="M675.9 141Q676.8 134.8 681.5 132.2Q677.8 135.3 677.4 141Z" fill="#2c6229"/><path d="M675.9 141Q677.1 135 682.8 133.2Q678.4 135.5 677.8 141Z" fill="#2c6229"/><path d="M676.3 141Q677.7 135 684.1 133.8Q678.7 135.5 677.8 141Z" fill="#336b2d"/></g>
<g stroke="#1d1a1b" stroke-width="1.9" fill="none"><path d="M48.8 323.5L130 355"/><path d="M168.7 377.7L193 406.3"/><path d="M345.5 309.7L305.5 329.4"/><path d="M577.5 175.5L611 202.4"/></g>
<path d="M617.3 207.4L606.2 203.6L611.4 202.7L613 197.2Z" fill="#1d1a1b"/>
<path d="M454.3 394V387.7H693V394M533 387.7V392.6M611 387.7V392.6" fill="none" stroke="#1d1a1b" stroke-width="1.9"/>
<g opacity="0.999">
<g class="b">
<text x="268.4" y="20.8" font-size="25" textLength="193" lengthAdjust="spacingAndGlyphs">Lesedi Chamber</text>
<text x="4.8" y="277.7" font-size="19.2" textLength="101.2" lengthAdjust="spacingAndGlyphs">Location of</text>
<text x="5.6" y="299" font-size="19.2" textLength="94.9" lengthAdjust="spacingAndGlyphs">adult male</text>
<text x="4.6" y="320.3" font-size="19.2" textLength="137" lengthAdjust="spacingAndGlyphs">skeleton “Neo”</text>
<text x="193.6" y="413" font-size="19.2" textLength="149" lengthAdjust="spacingAndGlyphs">Location of child</text>
<text x="345.2" y="316.2" font-size="19.2" textLength="219.4" lengthAdjust="spacingAndGlyphs">Location of second adult</text>
<text x="611.4" y="227.7" font-size="19.2" textLength="102.4" lengthAdjust="spacingAndGlyphs">To Dinaledi</text>
<text x="611.4" y="247.8" font-size="19.2" textLength="84" lengthAdjust="spacingAndGlyphs">Chamber</text>
<text x="439.6" y="413.2" font-size="19.8" textLength="33.8" lengthAdjust="spacingAndGlyphs">0 m</text>
<text x="508" y="413.2" font-size="19.8" textLength="44.5" lengthAdjust="spacingAndGlyphs">10 m</text>
<text x="586" y="413.2" font-size="19.8" textLength="44.2" lengthAdjust="spacingAndGlyphs">20 m</text>
<text x="668.2" y="413.2" font-size="19.8" textLength="45" lengthAdjust="spacingAndGlyphs">30 m</text>
</g>
<g class="r" font-size="19.2">
<text x="132" y="362.9">A</text>
<text x="159.6" y="373.7">B</text>
<text x="290.6" y="345.8">C</text>
</g>
<g font-size="19" stroke="#1d1a1b" stroke-width="0.45">
<text transform="translate(181.3 207.3) rotate(-14)" textLength="97.5" lengthAdjust="spacingAndGlyphs">Chert layer</text>
<text transform="translate(461.9 245.6) rotate(-16.3)" textLength="99.5" lengthAdjust="spacingAndGlyphs">Chert layer</text>
<text transform="translate(497.4 284) rotate(-16)" textLength="100.5" lengthAdjust="spacingAndGlyphs">Chert layer</text>
</g>
</g>
</svg>
</body>
</html>
